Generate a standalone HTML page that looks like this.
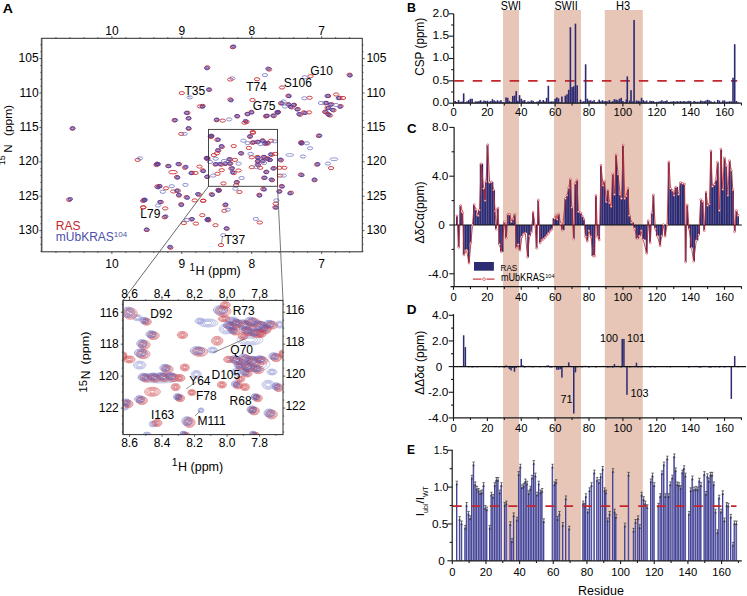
<!DOCTYPE html>
<html><head><meta charset="utf-8"><style>
html,body{margin:0;padding:0;background:#fff;}
svg{display:block;}
text{font-family:"Liberation Sans",sans-serif;}
</style></head><body>
<svg width="747" height="596" viewBox="0 0 747 596">
<rect x="0" y="0" width="747" height="596" fill="#fff"/>
<rect x="503" y="10" width="16" height="551" fill="#e7c6b8" />
<rect x="554" y="10" width="27" height="551" fill="#e7c6b8" />
<rect x="604.8" y="10" width="38" height="551" fill="#e7c6b8" />
<text x="500.8" y="9.8" font-size="12" text-anchor="start" fill="#000" font-weight="normal" textLength="20.3" lengthAdjust="spacingAndGlyphs">SWI</text>
<text x="554.4" y="9.8" font-size="12" text-anchor="start" fill="#000" font-weight="normal" textLength="23.4" lengthAdjust="spacingAndGlyphs">SWII</text>
<text x="616" y="9.8" font-size="12" text-anchor="start" fill="#000" font-weight="normal" textLength="14.2" lengthAdjust="spacingAndGlyphs">H3</text>
<text x="406.9" y="12" font-size="13.4" text-anchor="start" fill="#000" font-weight="bold" textLength="8.9" lengthAdjust="spacingAndGlyphs">B</text>
<line x1="454.3" y1="80.9" x2="737.2" y2="80.9" stroke="#c1272d" stroke-width="1.8" stroke-dasharray="9.5 8.95"/>
<rect x="454.39" y="101.03" width="1.6" height="2.17" fill="#2b2a72" />
<rect x="456.09" y="101.88" width="1.6" height="1.32" fill="#2b2a72" />
<rect x="457.78" y="100.07" width="1.6" height="3.13" fill="#2b2a72" />
<rect x="459.48" y="101.82" width="1.6" height="1.38" fill="#2b2a72" />
<rect x="461.17" y="101.53" width="1.6" height="1.67" fill="#2b2a72" />
<rect x="462.86" y="93.37" width="1.6" height="9.83" fill="#2b2a72" />
<rect x="464.56" y="102.19" width="1.6" height="1.01" fill="#2b2a72" />
<rect x="466.25" y="101.29" width="1.6" height="1.91" fill="#2b2a72" />
<rect x="467.95" y="100.07" width="1.6" height="3.13" fill="#2b2a72" />
<rect x="469.64" y="98.73" width="1.6" height="4.47" fill="#2b2a72" />
<rect x="471.33" y="98.73" width="1.6" height="4.47" fill="#2b2a72" />
<rect x="473.03" y="102.69" width="1.6" height="0.51" fill="#2b2a72" />
<rect x="474.72" y="101.35" width="1.6" height="1.85" fill="#2b2a72" />
<rect x="476.42" y="101.47" width="1.6" height="1.73" fill="#2b2a72" />
<rect x="478.11" y="101.13" width="1.6" height="2.07" fill="#2b2a72" />
<rect x="479.8" y="100.21" width="1.6" height="2.99" fill="#2b2a72" />
<rect x="481.5" y="101.72" width="1.6" height="1.48" fill="#2b2a72" />
<rect x="483.19" y="100.52" width="1.6" height="2.68" fill="#2b2a72" />
<rect x="484.89" y="100.97" width="1.6" height="2.24" fill="#2b2a72" />
<rect x="486.58" y="100.75" width="1.6" height="2.45" fill="#2b2a72" />
<rect x="488.27" y="101.71" width="1.6" height="1.49" fill="#2b2a72" />
<rect x="489.97" y="101.07" width="1.6" height="2.13" fill="#2b2a72" />
<rect x="491.66" y="99.18" width="1.6" height="4.02" fill="#2b2a72" />
<rect x="493.36" y="100.35" width="1.6" height="2.85" fill="#2b2a72" />
<rect x="495.05" y="101.3" width="1.6" height="1.9" fill="#2b2a72" />
<rect x="496.74" y="100.26" width="1.6" height="2.94" fill="#2b2a72" />
<rect x="498.44" y="101.33" width="1.6" height="1.87" fill="#2b2a72" />
<rect x="500.13" y="100.15" width="1.6" height="3.05" fill="#2b2a72" />
<rect x="501.83" y="102.15" width="1.6" height="1.05" fill="#2b2a72" />
<rect x="503.52" y="102.53" width="1.6" height="0.67" fill="#2b2a72" />
<rect x="505.21" y="97.39" width="1.6" height="5.81" fill="#2b2a72" />
<rect x="506.91" y="97.84" width="1.6" height="5.36" fill="#2b2a72" />
<rect x="508.6" y="100.97" width="1.6" height="2.24" fill="#2b2a72" />
<rect x="510.3" y="101.85" width="1.6" height="1.35" fill="#2b2a72" />
<rect x="511.99" y="96.05" width="1.6" height="7.15" fill="#2b2a72" />
<rect x="513.68" y="95.6" width="1.6" height="7.6" fill="#2b2a72" />
<rect x="515.38" y="91.13" width="1.6" height="12.07" fill="#2b2a72" />
<rect x="517.07" y="100.92" width="1.6" height="2.28" fill="#2b2a72" />
<rect x="518.77" y="95.15" width="1.6" height="8.05" fill="#2b2a72" />
<rect x="520.46" y="98.73" width="1.6" height="4.47" fill="#2b2a72" />
<rect x="522.15" y="100.52" width="1.6" height="2.68" fill="#2b2a72" />
<rect x="523.85" y="100.07" width="1.6" height="3.13" fill="#2b2a72" />
<rect x="525.54" y="102.28" width="1.6" height="0.92" fill="#2b2a72" />
<rect x="527.24" y="101.38" width="1.6" height="1.82" fill="#2b2a72" />
<rect x="528.93" y="101.64" width="1.6" height="1.56" fill="#2b2a72" />
<rect x="530.62" y="100.38" width="1.6" height="2.82" fill="#2b2a72" />
<rect x="532.32" y="100.87" width="1.6" height="2.33" fill="#2b2a72" />
<rect x="534.01" y="102.23" width="1.6" height="0.97" fill="#2b2a72" />
<rect x="535.71" y="101.75" width="1.6" height="1.45" fill="#2b2a72" />
<rect x="537.4" y="101.32" width="1.6" height="1.88" fill="#2b2a72" />
<rect x="539.09" y="99.78" width="1.6" height="3.42" fill="#2b2a72" />
<rect x="540.79" y="101.59" width="1.6" height="1.61" fill="#2b2a72" />
<rect x="542.48" y="100.02" width="1.6" height="3.18" fill="#2b2a72" />
<rect x="544.18" y="101.39" width="1.6" height="1.81" fill="#2b2a72" />
<rect x="545.87" y="97.84" width="1.6" height="5.36" fill="#2b2a72" />
<rect x="547.56" y="85.77" width="1.6" height="17.43" fill="#2b2a72" />
<rect x="549.26" y="101.55" width="1.6" height="1.65" fill="#2b2a72" />
<rect x="550.95" y="101.4" width="1.6" height="1.8" fill="#2b2a72" />
<rect x="552.65" y="101.51" width="1.6" height="1.69" fill="#2b2a72" />
<rect x="554.34" y="98.73" width="1.6" height="4.47" fill="#2b2a72" />
<rect x="556.03" y="97.39" width="1.6" height="5.81" fill="#2b2a72" />
<rect x="557.73" y="98.28" width="1.6" height="4.92" fill="#2b2a72" />
<rect x="559.42" y="102.14" width="1.6" height="1.06" fill="#2b2a72" />
<rect x="561.12" y="96.5" width="1.6" height="6.71" fill="#2b2a72" />
<rect x="562.81" y="102.61" width="1.6" height="0.59" fill="#2b2a72" />
<rect x="564.5" y="95.6" width="1.6" height="7.6" fill="#2b2a72" />
<rect x="566.2" y="94.26" width="1.6" height="8.94" fill="#2b2a72" />
<rect x="567.89" y="89.79" width="1.6" height="13.41" fill="#2b2a72" />
<rect x="569.59" y="27.21" width="1.6" height="75.99" fill="#2b2a72" />
<rect x="571.28" y="87.11" width="1.6" height="16.09" fill="#2b2a72" />
<rect x="572.97" y="86.21" width="1.6" height="16.99" fill="#2b2a72" />
<rect x="574.67" y="23.63" width="1.6" height="79.57" fill="#2b2a72" />
<rect x="576.36" y="85.32" width="1.6" height="17.88" fill="#2b2a72" />
<rect x="578.06" y="102.55" width="1.6" height="0.65" fill="#2b2a72" />
<rect x="579.75" y="99.68" width="1.6" height="3.52" fill="#2b2a72" />
<rect x="581.44" y="101.67" width="1.6" height="1.53" fill="#2b2a72" />
<rect x="583.14" y="101.17" width="1.6" height="2.03" fill="#2b2a72" />
<rect x="584.83" y="64.31" width="1.6" height="38.89" fill="#2b2a72" />
<rect x="586.53" y="98.73" width="1.6" height="4.47" fill="#2b2a72" />
<rect x="588.22" y="100.52" width="1.6" height="2.68" fill="#2b2a72" />
<rect x="589.91" y="100.32" width="1.6" height="2.88" fill="#2b2a72" />
<rect x="591.61" y="101.17" width="1.6" height="2.03" fill="#2b2a72" />
<rect x="593.3" y="100.14" width="1.6" height="3.06" fill="#2b2a72" />
<rect x="595" y="102.11" width="1.6" height="1.09" fill="#2b2a72" />
<rect x="596.69" y="101.74" width="1.6" height="1.46" fill="#2b2a72" />
<rect x="598.38" y="99.65" width="1.6" height="3.55" fill="#2b2a72" />
<rect x="600.08" y="101.37" width="1.6" height="1.83" fill="#2b2a72" />
<rect x="601.77" y="100.27" width="1.6" height="2.93" fill="#2b2a72" />
<rect x="603.47" y="101.38" width="1.6" height="1.82" fill="#2b2a72" />
<rect x="605.16" y="100.97" width="1.6" height="2.24" fill="#2b2a72" />
<rect x="606.85" y="101.45" width="1.6" height="1.75" fill="#2b2a72" />
<rect x="608.55" y="100.07" width="1.6" height="3.13" fill="#2b2a72" />
<rect x="610.24" y="101.76" width="1.6" height="1.44" fill="#2b2a72" />
<rect x="611.94" y="101.14" width="1.6" height="2.06" fill="#2b2a72" />
<rect x="613.63" y="99.18" width="1.6" height="4.02" fill="#2b2a72" />
<rect x="615.32" y="99.62" width="1.6" height="3.58" fill="#2b2a72" />
<rect x="617.02" y="100.33" width="1.6" height="2.87" fill="#2b2a72" />
<rect x="618.71" y="98.73" width="1.6" height="4.47" fill="#2b2a72" />
<rect x="620.41" y="97.84" width="1.6" height="5.36" fill="#2b2a72" />
<rect x="622.1" y="101.03" width="1.6" height="2.17" fill="#2b2a72" />
<rect x="623.79" y="102.2" width="1.6" height="1" fill="#2b2a72" />
<rect x="625.49" y="99.62" width="1.6" height="3.58" fill="#2b2a72" />
<rect x="628.88" y="100.52" width="1.6" height="2.68" fill="#2b2a72" />
<rect x="632.26" y="101.23" width="1.6" height="1.97" fill="#2b2a72" />
<rect x="635.65" y="100.52" width="1.6" height="2.68" fill="#2b2a72" />
<rect x="637.35" y="100.77" width="1.6" height="2.43" fill="#2b2a72" />
<rect x="639.04" y="101.28" width="1.6" height="1.92" fill="#2b2a72" />
<rect x="640.73" y="97.84" width="1.6" height="5.36" fill="#2b2a72" />
<rect x="642.43" y="100.07" width="1.6" height="3.13" fill="#2b2a72" />
<rect x="644.12" y="101.33" width="1.6" height="1.87" fill="#2b2a72" />
<rect x="645.82" y="100.53" width="1.6" height="2.67" fill="#2b2a72" />
<rect x="647.51" y="102.55" width="1.6" height="0.65" fill="#2b2a72" />
<rect x="649.2" y="100.78" width="1.6" height="2.42" fill="#2b2a72" />
<rect x="650.9" y="101.04" width="1.6" height="2.16" fill="#2b2a72" />
<rect x="652.59" y="100.98" width="1.6" height="2.22" fill="#2b2a72" />
<rect x="654.29" y="102.1" width="1.6" height="1.1" fill="#2b2a72" />
<rect x="655.98" y="101.83" width="1.6" height="1.37" fill="#2b2a72" />
<rect x="657.67" y="101.6" width="1.6" height="1.6" fill="#2b2a72" />
<rect x="659.37" y="101.28" width="1.6" height="1.92" fill="#2b2a72" />
<rect x="661.06" y="100.3" width="1.6" height="2.9" fill="#2b2a72" />
<rect x="662.76" y="101.37" width="1.6" height="1.83" fill="#2b2a72" />
<rect x="664.45" y="101.02" width="1.6" height="2.18" fill="#2b2a72" />
<rect x="666.14" y="100.39" width="1.6" height="2.81" fill="#2b2a72" />
<rect x="667.84" y="101.96" width="1.6" height="1.24" fill="#2b2a72" />
<rect x="669.53" y="101.63" width="1.6" height="1.57" fill="#2b2a72" />
<rect x="671.23" y="101.53" width="1.6" height="1.67" fill="#2b2a72" />
<rect x="672.92" y="101.1" width="1.6" height="2.1" fill="#2b2a72" />
<rect x="674.61" y="101.64" width="1.6" height="1.56" fill="#2b2a72" />
<rect x="676.31" y="101.15" width="1.6" height="2.05" fill="#2b2a72" />
<rect x="678" y="101.58" width="1.6" height="1.62" fill="#2b2a72" />
<rect x="679.7" y="101.04" width="1.6" height="2.16" fill="#2b2a72" />
<rect x="681.39" y="101.63" width="1.6" height="1.57" fill="#2b2a72" />
<rect x="683.08" y="101.03" width="1.6" height="2.17" fill="#2b2a72" />
<rect x="684.78" y="101.56" width="1.6" height="1.64" fill="#2b2a72" />
<rect x="686.47" y="101.39" width="1.6" height="1.81" fill="#2b2a72" />
<rect x="688.17" y="100.81" width="1.6" height="2.39" fill="#2b2a72" />
<rect x="689.86" y="101.12" width="1.6" height="2.08" fill="#2b2a72" />
<rect x="691.55" y="102.42" width="1.6" height="0.78" fill="#2b2a72" />
<rect x="693.25" y="100.91" width="1.6" height="2.29" fill="#2b2a72" />
<rect x="694.94" y="101.63" width="1.6" height="1.57" fill="#2b2a72" />
<rect x="696.64" y="101.73" width="1.6" height="1.47" fill="#2b2a72" />
<rect x="698.33" y="101.71" width="1.6" height="1.49" fill="#2b2a72" />
<rect x="700.02" y="100.48" width="1.6" height="2.72" fill="#2b2a72" />
<rect x="701.72" y="101.18" width="1.6" height="2.02" fill="#2b2a72" />
<rect x="703.41" y="101.18" width="1.6" height="2.02" fill="#2b2a72" />
<rect x="705.11" y="100.47" width="1.6" height="2.73" fill="#2b2a72" />
<rect x="706.8" y="99.73" width="1.6" height="3.47" fill="#2b2a72" />
<rect x="708.49" y="100.29" width="1.6" height="2.91" fill="#2b2a72" />
<rect x="710.19" y="101.3" width="1.6" height="1.9" fill="#2b2a72" />
<rect x="711.88" y="102.16" width="1.6" height="1.04" fill="#2b2a72" />
<rect x="713.58" y="101.41" width="1.6" height="1.79" fill="#2b2a72" />
<rect x="715.27" y="102.65" width="1.6" height="0.55" fill="#2b2a72" />
<rect x="716.96" y="99.91" width="1.6" height="3.29" fill="#2b2a72" />
<rect x="718.66" y="100.6" width="1.6" height="2.6" fill="#2b2a72" />
<rect x="720.35" y="102.11" width="1.6" height="1.09" fill="#2b2a72" />
<rect x="722.05" y="100.56" width="1.6" height="2.64" fill="#2b2a72" />
<rect x="723.74" y="100.41" width="1.6" height="2.79" fill="#2b2a72" />
<rect x="725.43" y="101.77" width="1.6" height="1.43" fill="#2b2a72" />
<rect x="727.13" y="101.64" width="1.6" height="1.56" fill="#2b2a72" />
<rect x="728.82" y="101.2" width="1.6" height="2" fill="#2b2a72" />
<rect x="730.52" y="101.42" width="1.6" height="1.78" fill="#2b2a72" />
<rect x="732.21" y="77.72" width="1.6" height="25.48" fill="#2b2a72" />
<rect x="733.9" y="44.2" width="1.6" height="59" fill="#2b2a72" />
<rect x="735.6" y="100.97" width="1.6" height="2.24" fill="#2b2a72" />
<rect x="737.29" y="102.3" width="1.6" height="0.9" fill="#2b2a72" />
<rect x="626.5" y="76.38" width="1.6" height="26.82" fill="#2b2a72" />
<rect x="630.23" y="90.24" width="1.6" height="12.96" fill="#2b2a72" />
<rect x="633.28" y="20.06" width="1.6" height="83.14" fill="#2b2a72" />
<line x1="453.7" y1="13.8" x2="453.7" y2="103.2" stroke="#1a1a1a" stroke-width="1.2" />
<line x1="448.9" y1="103.2" x2="453.7" y2="103.2" stroke="#1a1a1a" stroke-width="1.1" />
<text x="449.2" y="106.09" font-size="11.8" text-anchor="end" fill="#000" font-weight="normal" textLength="16.6" lengthAdjust="spacingAndGlyphs">0.0</text>
<line x1="448.9" y1="80.85" x2="453.7" y2="80.85" stroke="#1a1a1a" stroke-width="1.1" />
<text x="449.2" y="83.74" font-size="11.8" text-anchor="end" fill="#000" font-weight="normal" textLength="16.6" lengthAdjust="spacingAndGlyphs">0.5</text>
<line x1="448.9" y1="58.5" x2="453.7" y2="58.5" stroke="#1a1a1a" stroke-width="1.1" />
<text x="449.2" y="61.39" font-size="11.8" text-anchor="end" fill="#000" font-weight="normal" textLength="16.6" lengthAdjust="spacingAndGlyphs">1.0</text>
<line x1="448.9" y1="36.15" x2="453.7" y2="36.15" stroke="#1a1a1a" stroke-width="1.1" />
<text x="449.2" y="39.04" font-size="11.8" text-anchor="end" fill="#000" font-weight="normal" textLength="16.6" lengthAdjust="spacingAndGlyphs">1.5</text>
<line x1="448.9" y1="13.8" x2="453.7" y2="13.8" stroke="#1a1a1a" stroke-width="1.1" />
<text x="449.2" y="16.69" font-size="11.8" text-anchor="end" fill="#000" font-weight="normal" textLength="16.6" lengthAdjust="spacingAndGlyphs">2.0</text>
<line x1="451.2" y1="92.03" x2="453.7" y2="92.03" stroke="#1a1a1a" stroke-width="1.1" />
<line x1="451.2" y1="69.67" x2="453.7" y2="69.67" stroke="#1a1a1a" stroke-width="1.1" />
<line x1="451.2" y1="47.33" x2="453.7" y2="47.33" stroke="#1a1a1a" stroke-width="1.1" />
<line x1="451.2" y1="24.97" x2="453.7" y2="24.97" stroke="#1a1a1a" stroke-width="1.1" />
<line x1="453.7" y1="103.2" x2="741.8" y2="103.2" stroke="#1a1a1a" stroke-width="1.2" />
<line x1="453.5" y1="103.2" x2="453.5" y2="106.4" stroke="#1a1a1a" stroke-width="1.1" />
<text x="453.5" y="116" font-size="11.2" text-anchor="middle" fill="#000" font-weight="normal" >0</text>
<line x1="470.44" y1="103.2" x2="470.44" y2="105.5" stroke="#1a1a1a" stroke-width="1.1" />
<line x1="487.38" y1="103.2" x2="487.38" y2="106.4" stroke="#1a1a1a" stroke-width="1.1" />
<text x="487.38" y="116" font-size="11.2" text-anchor="middle" fill="#000" font-weight="normal" >20</text>
<line x1="504.32" y1="103.2" x2="504.32" y2="105.5" stroke="#1a1a1a" stroke-width="1.1" />
<line x1="521.26" y1="103.2" x2="521.26" y2="106.4" stroke="#1a1a1a" stroke-width="1.1" />
<text x="521.26" y="116" font-size="11.2" text-anchor="middle" fill="#000" font-weight="normal" >40</text>
<line x1="538.2" y1="103.2" x2="538.2" y2="105.5" stroke="#1a1a1a" stroke-width="1.1" />
<line x1="555.14" y1="103.2" x2="555.14" y2="106.4" stroke="#1a1a1a" stroke-width="1.1" />
<text x="555.14" y="116" font-size="11.2" text-anchor="middle" fill="#000" font-weight="normal" >60</text>
<line x1="572.08" y1="103.2" x2="572.08" y2="105.5" stroke="#1a1a1a" stroke-width="1.1" />
<line x1="589.02" y1="103.2" x2="589.02" y2="106.4" stroke="#1a1a1a" stroke-width="1.1" />
<text x="589.02" y="116" font-size="11.2" text-anchor="middle" fill="#000" font-weight="normal" >80</text>
<line x1="605.96" y1="103.2" x2="605.96" y2="105.5" stroke="#1a1a1a" stroke-width="1.1" />
<line x1="622.9" y1="103.2" x2="622.9" y2="106.4" stroke="#1a1a1a" stroke-width="1.1" />
<text x="622.9" y="116" font-size="11.2" text-anchor="middle" fill="#000" font-weight="normal" >100</text>
<line x1="639.84" y1="103.2" x2="639.84" y2="105.5" stroke="#1a1a1a" stroke-width="1.1" />
<line x1="656.78" y1="103.2" x2="656.78" y2="106.4" stroke="#1a1a1a" stroke-width="1.1" />
<text x="656.78" y="116" font-size="11.2" text-anchor="middle" fill="#000" font-weight="normal" >120</text>
<line x1="673.72" y1="103.2" x2="673.72" y2="105.5" stroke="#1a1a1a" stroke-width="1.1" />
<line x1="690.66" y1="103.2" x2="690.66" y2="106.4" stroke="#1a1a1a" stroke-width="1.1" />
<text x="690.66" y="116" font-size="11.2" text-anchor="middle" fill="#000" font-weight="normal" >140</text>
<line x1="707.6" y1="103.2" x2="707.6" y2="105.5" stroke="#1a1a1a" stroke-width="1.1" />
<line x1="724.54" y1="103.2" x2="724.54" y2="106.4" stroke="#1a1a1a" stroke-width="1.1" />
<text x="724.54" y="116" font-size="11.2" text-anchor="middle" fill="#000" font-weight="normal" >160</text>
<line x1="741.48" y1="103.2" x2="741.48" y2="105.5" stroke="#1a1a1a" stroke-width="1.1" />
<text transform="translate(423.7,46.8) rotate(-90)" font-size="12.5" text-anchor="middle" fill="#000" textLength="58" lengthAdjust="spacingAndGlyphs">CSP (ppm)</text>
<text x="406.9" y="133.3" font-size="13.4" text-anchor="start" fill="#000" font-weight="bold" textLength="9.6" lengthAdjust="spacingAndGlyphs">C</text>
<rect x="456.04" y="215.7" width="1.74" height="9.3" fill="#2b2a72" />
<rect x="457.74" y="225" width="1.74" height="22.4" fill="#2b2a72" />
<rect x="459.43" y="205.4" width="1.74" height="19.6" fill="#2b2a72" />
<rect x="461.12" y="212.7" width="1.74" height="12.3" fill="#2b2a72" />
<rect x="462.82" y="225" width="1.74" height="30" fill="#2b2a72" />
<rect x="464.51" y="225" width="1.74" height="25" fill="#2b2a72" />
<rect x="466.21" y="225" width="1.74" height="25" fill="#2b2a72" />
<rect x="467.9" y="225" width="1.74" height="38.1" fill="#2b2a72" />
<rect x="469.59" y="225" width="1.74" height="17.9" fill="#2b2a72" />
<rect x="471.29" y="225" width="1.74" height="0" fill="#2b2a72" />
<rect x="472.98" y="204.5" width="1.74" height="20.5" fill="#2b2a72" />
<rect x="474.68" y="209.6" width="1.74" height="15.4" fill="#2b2a72" />
<rect x="476.37" y="215.7" width="1.74" height="9.3" fill="#2b2a72" />
<rect x="478.06" y="210" width="1.74" height="15" fill="#2b2a72" />
<rect x="479.76" y="163.7" width="1.74" height="61.3" fill="#2b2a72" />
<rect x="481.45" y="163.7" width="1.74" height="61.3" fill="#2b2a72" />
<rect x="483.15" y="188.5" width="1.74" height="36.5" fill="#2b2a72" />
<rect x="484.84" y="181.6" width="1.74" height="43.4" fill="#2b2a72" />
<rect x="486.53" y="144.7" width="1.74" height="80.3" fill="#2b2a72" />
<rect x="488.23" y="182.5" width="1.74" height="42.5" fill="#2b2a72" />
<rect x="489.92" y="182" width="1.74" height="43" fill="#2b2a72" />
<rect x="491.62" y="182" width="1.74" height="43" fill="#2b2a72" />
<rect x="493.31" y="190" width="1.74" height="35" fill="#2b2a72" />
<rect x="495" y="225" width="1.74" height="4.3" fill="#2b2a72" />
<rect x="496.7" y="208.1" width="1.74" height="16.9" fill="#2b2a72" />
<rect x="498.39" y="225" width="1.74" height="19.4" fill="#2b2a72" />
<rect x="500.09" y="225" width="1.74" height="26.9" fill="#2b2a72" />
<rect x="501.78" y="225" width="1.74" height="26.9" fill="#2b2a72" />
<rect x="503.47" y="221.7" width="1.74" height="3.3" fill="#2b2a72" />
<rect x="505.17" y="225" width="1.74" height="13.3" fill="#2b2a72" />
<rect x="506.86" y="214.2" width="1.74" height="10.8" fill="#2b2a72" />
<rect x="508.56" y="214.2" width="1.74" height="10.8" fill="#2b2a72" />
<rect x="510.25" y="221.7" width="1.74" height="3.3" fill="#2b2a72" />
<rect x="511.94" y="219" width="1.74" height="6" fill="#2b2a72" />
<rect x="513.64" y="214.2" width="1.74" height="10.8" fill="#2b2a72" />
<rect x="515.33" y="225" width="1.74" height="23" fill="#2b2a72" />
<rect x="517.02" y="225" width="1.74" height="19.4" fill="#2b2a72" />
<rect x="518.72" y="225" width="1.74" height="25.4" fill="#2b2a72" />
<rect x="520.41" y="225" width="1.74" height="11.8" fill="#2b2a72" />
<rect x="522.11" y="225" width="1.74" height="9" fill="#2b2a72" />
<rect x="523.8" y="225" width="1.74" height="8" fill="#2b2a72" />
<rect x="525.5" y="225" width="1.74" height="8" fill="#2b2a72" />
<rect x="527.19" y="225" width="1.74" height="32.3" fill="#2b2a72" />
<rect x="528.88" y="225" width="1.74" height="11" fill="#2b2a72" />
<rect x="530.58" y="225" width="1.74" height="7.3" fill="#2b2a72" />
<rect x="532.27" y="212.1" width="1.74" height="12.9" fill="#2b2a72" />
<rect x="533.97" y="225" width="1.74" height="0" fill="#2b2a72" />
<rect x="535.66" y="225" width="1.74" height="23.3" fill="#2b2a72" />
<rect x="537.35" y="200" width="1.74" height="25" fill="#2b2a72" />
<rect x="539.05" y="225" width="1.74" height="17.9" fill="#2b2a72" />
<rect x="540.74" y="225" width="1.74" height="15" fill="#2b2a72" />
<rect x="542.44" y="225" width="1.74" height="14" fill="#2b2a72" />
<rect x="544.13" y="225" width="1.74" height="12.2" fill="#2b2a72" />
<rect x="545.82" y="225" width="1.74" height="10" fill="#2b2a72" />
<rect x="547.52" y="225" width="1.74" height="8.3" fill="#2b2a72" />
<rect x="549.21" y="225" width="1.74" height="6" fill="#2b2a72" />
<rect x="550.9" y="225" width="1.74" height="4.3" fill="#2b2a72" />
<rect x="552.6" y="218.3" width="1.74" height="6.7" fill="#2b2a72" />
<rect x="554.29" y="218.3" width="1.74" height="6.7" fill="#2b2a72" />
<rect x="555.99" y="219.3" width="1.74" height="5.7" fill="#2b2a72" />
<rect x="557.68" y="213.9" width="1.74" height="11.1" fill="#2b2a72" />
<rect x="559.38" y="223.7" width="1.74" height="1.3" fill="#2b2a72" />
<rect x="561.07" y="225" width="1.74" height="5.2" fill="#2b2a72" />
<rect x="562.76" y="225" width="1.74" height="5.2" fill="#2b2a72" />
<rect x="564.46" y="198.6" width="1.74" height="26.4" fill="#2b2a72" />
<rect x="566.15" y="195.4" width="1.74" height="29.6" fill="#2b2a72" />
<rect x="567.85" y="187.7" width="1.74" height="37.3" fill="#2b2a72" />
<rect x="569.54" y="179" width="1.74" height="46" fill="#2b2a72" />
<rect x="571.23" y="207.4" width="1.74" height="17.6" fill="#2b2a72" />
<rect x="572.93" y="225" width="1.74" height="14" fill="#2b2a72" />
<rect x="574.62" y="183.4" width="1.74" height="41.6" fill="#2b2a72" />
<rect x="576.32" y="180.1" width="1.74" height="44.9" fill="#2b2a72" />
<rect x="578.01" y="211.7" width="1.74" height="13.3" fill="#2b2a72" />
<rect x="579.7" y="212.8" width="1.74" height="12.2" fill="#2b2a72" />
<rect x="581.4" y="216.1" width="1.74" height="8.9" fill="#2b2a72" />
<rect x="583.09" y="219.3" width="1.74" height="5.7" fill="#2b2a72" />
<rect x="584.79" y="225" width="1.74" height="11.8" fill="#2b2a72" />
<rect x="586.48" y="225" width="1.74" height="16.1" fill="#2b2a72" />
<rect x="588.17" y="225" width="1.74" height="5.7" fill="#2b2a72" />
<rect x="589.87" y="225" width="1.74" height="11.8" fill="#2b2a72" />
<rect x="591.56" y="225" width="1.74" height="31" fill="#2b2a72" />
<rect x="593.25" y="225" width="1.74" height="31" fill="#2b2a72" />
<rect x="594.95" y="195.4" width="1.74" height="29.6" fill="#2b2a72" />
<rect x="596.64" y="225" width="1.74" height="11.8" fill="#2b2a72" />
<rect x="598.34" y="225" width="1.74" height="15" fill="#2b2a72" />
<rect x="600.03" y="165.2" width="1.74" height="59.8" fill="#2b2a72" />
<rect x="601.73" y="185.4" width="1.74" height="39.6" fill="#2b2a72" />
<rect x="603.42" y="181.2" width="1.74" height="43.8" fill="#2b2a72" />
<rect x="605.11" y="201.9" width="1.74" height="23.1" fill="#2b2a72" />
<rect x="606.81" y="190" width="1.74" height="35" fill="#2b2a72" />
<rect x="608.5" y="203" width="1.74" height="22" fill="#2b2a72" />
<rect x="610.2" y="206.5" width="1.74" height="18.5" fill="#2b2a72" />
<rect x="611.89" y="173.7" width="1.74" height="51.3" fill="#2b2a72" />
<rect x="613.58" y="194.4" width="1.74" height="30.6" fill="#2b2a72" />
<rect x="615.28" y="154.6" width="1.74" height="70.4" fill="#2b2a72" />
<rect x="616.97" y="174.3" width="1.74" height="50.7" fill="#2b2a72" />
<rect x="618.66" y="194.4" width="1.74" height="30.6" fill="#2b2a72" />
<rect x="620.36" y="198.5" width="1.74" height="26.5" fill="#2b2a72" />
<rect x="622.05" y="145.1" width="1.74" height="79.9" fill="#2b2a72" />
<rect x="623.75" y="198.5" width="1.74" height="26.5" fill="#2b2a72" />
<rect x="625.44" y="196" width="1.74" height="29" fill="#2b2a72" />
<rect x="627.13" y="188.4" width="1.74" height="36.6" fill="#2b2a72" />
<rect x="628.83" y="215.6" width="1.74" height="9.4" fill="#2b2a72" />
<rect x="630.52" y="222.6" width="1.74" height="2.4" fill="#2b2a72" />
<rect x="632.22" y="222.6" width="1.74" height="2.4" fill="#2b2a72" />
<rect x="633.91" y="225" width="1.74" height="3.7" fill="#2b2a72" />
<rect x="635.61" y="225" width="1.74" height="13.7" fill="#2b2a72" />
<rect x="637.3" y="225" width="1.74" height="13.7" fill="#2b2a72" />
<rect x="638.99" y="225" width="1.74" height="11" fill="#2b2a72" />
<rect x="640.69" y="225" width="1.74" height="5.7" fill="#2b2a72" />
<rect x="642.38" y="225" width="1.74" height="14.7" fill="#2b2a72" />
<rect x="644.08" y="225" width="1.74" height="14.7" fill="#2b2a72" />
<rect x="645.77" y="225" width="1.74" height="28.4" fill="#2b2a72" />
<rect x="647.46" y="220.6" width="1.74" height="4.4" fill="#2b2a72" />
<rect x="649.16" y="225" width="1.74" height="17.8" fill="#2b2a72" />
<rect x="650.85" y="213" width="1.74" height="12" fill="#2b2a72" />
<rect x="652.55" y="194.8" width="1.74" height="30.2" fill="#2b2a72" />
<rect x="654.24" y="225" width="1.74" height="3.7" fill="#2b2a72" />
<rect x="655.93" y="225" width="1.74" height="11" fill="#2b2a72" />
<rect x="657.63" y="225" width="1.74" height="11" fill="#2b2a72" />
<rect x="659.32" y="225" width="1.74" height="20.8" fill="#2b2a72" />
<rect x="661.01" y="225" width="1.74" height="11" fill="#2b2a72" />
<rect x="662.71" y="224.6" width="1.74" height="0.4" fill="#2b2a72" />
<rect x="664.4" y="225" width="1.74" height="11.3" fill="#2b2a72" />
<rect x="666.1" y="224.6" width="1.74" height="0.4" fill="#2b2a72" />
<rect x="667.79" y="161.8" width="1.74" height="63.2" fill="#2b2a72" />
<rect x="669.49" y="188.4" width="1.74" height="36.6" fill="#2b2a72" />
<rect x="671.18" y="190.4" width="1.74" height="34.6" fill="#2b2a72" />
<rect x="672.87" y="195.4" width="1.74" height="29.6" fill="#2b2a72" />
<rect x="674.57" y="187" width="1.74" height="38" fill="#2b2a72" />
<rect x="676.26" y="187" width="1.74" height="38" fill="#2b2a72" />
<rect x="677.96" y="194.4" width="1.74" height="30.6" fill="#2b2a72" />
<rect x="679.65" y="182.4" width="1.74" height="42.6" fill="#2b2a72" />
<rect x="681.34" y="183.4" width="1.74" height="41.6" fill="#2b2a72" />
<rect x="683.04" y="184" width="1.74" height="41" fill="#2b2a72" />
<rect x="684.73" y="225" width="1.74" height="37" fill="#2b2a72" />
<rect x="686.42" y="204.9" width="1.74" height="20.1" fill="#2b2a72" />
<rect x="688.12" y="225" width="1.74" height="4.1" fill="#2b2a72" />
<rect x="689.81" y="225" width="1.74" height="23" fill="#2b2a72" />
<rect x="691.51" y="225" width="1.74" height="23" fill="#2b2a72" />
<rect x="693.2" y="225" width="1.74" height="36.4" fill="#2b2a72" />
<rect x="694.89" y="225" width="1.74" height="15.4" fill="#2b2a72" />
<rect x="696.59" y="225" width="1.74" height="15.4" fill="#2b2a72" />
<rect x="698.28" y="225" width="1.74" height="9.7" fill="#2b2a72" />
<rect x="699.98" y="199.5" width="1.74" height="25.5" fill="#2b2a72" />
<rect x="701.67" y="201.5" width="1.74" height="23.5" fill="#2b2a72" />
<rect x="703.37" y="225" width="1.74" height="5.7" fill="#2b2a72" />
<rect x="705.06" y="192" width="1.74" height="33" fill="#2b2a72" />
<rect x="706.75" y="205.5" width="1.74" height="19.5" fill="#2b2a72" />
<rect x="708.45" y="204.1" width="1.74" height="20.9" fill="#2b2a72" />
<rect x="710.14" y="150.7" width="1.74" height="74.3" fill="#2b2a72" />
<rect x="711.84" y="186.4" width="1.74" height="38.6" fill="#2b2a72" />
<rect x="713.53" y="184.4" width="1.74" height="40.6" fill="#2b2a72" />
<rect x="715.22" y="179.9" width="1.74" height="45.1" fill="#2b2a72" />
<rect x="716.92" y="162.2" width="1.74" height="62.8" fill="#2b2a72" />
<rect x="718.61" y="210.5" width="1.74" height="14.5" fill="#2b2a72" />
<rect x="720.31" y="149.1" width="1.74" height="75.9" fill="#2b2a72" />
<rect x="722" y="189.4" width="1.74" height="35.6" fill="#2b2a72" />
<rect x="723.69" y="157.8" width="1.74" height="67.2" fill="#2b2a72" />
<rect x="725.39" y="165.8" width="1.74" height="59.2" fill="#2b2a72" />
<rect x="727.08" y="195.4" width="1.74" height="29.6" fill="#2b2a72" />
<rect x="728.78" y="160.6" width="1.74" height="64.4" fill="#2b2a72" />
<rect x="730.47" y="170.3" width="1.74" height="54.7" fill="#2b2a72" />
<rect x="732.16" y="190" width="1.74" height="35" fill="#2b2a72" />
<rect x="733.86" y="225" width="1.74" height="6.7" fill="#2b2a72" />
<rect x="735.55" y="210.5" width="1.74" height="14.5" fill="#2b2a72" />
<rect x="737.25" y="215.6" width="1.74" height="9.4" fill="#2b2a72" />
<line x1="454" y1="225" x2="741.8" y2="225" stroke="#111" stroke-width="1.1" />
<polyline points="457,215.7 458.8,247.4 460.7,205.4 462.8,212.7 464,255 466.5,250 469.1,263.1 470.9,242.9 472.5,225 474.2,204.5 476,209.6 478.2,215.7 479.5,210 481.2,163.7 483.6,188.5 485.1,200.6 486,181.6 487.8,144.7 489.6,182.5 491.5,182 493.6,190 495.1,211.1 496.3,229.3 498.1,208.1 499.5,244.4 501.4,251.9 504.4,221.7 506.4,238.3 508,214.2 509.8,214.2 511.4,221.7 513.1,219 515,214.2 516.5,248 518.3,244.4 520.2,250.4 521.8,236.8 523.5,234 525.3,233 527.5,257.3 529.5,236 531.3,232.3 533.2,212.1 535,225 536.7,248.3 538.4,200 540.2,242.9 542,240 543.5,239 545.3,237.2 547,235 548.5,233.3 550.3,231 552.1,229.3 554.6,218.3 555.7,215 557.2,219.3 558.8,213.9 560.5,223.7 562.3,230.2 565.5,198.6 567,195.4 568.8,187.7 570.3,179 571.8,207.4 573.6,239 575.1,183.4 576.9,180.1 578.4,211.7 580.6,212.8 582.3,216.1 584,219.3 585.6,236.8 587.3,241.1 588.8,230.7 591,236.8 593.2,256 594.7,256 596,195.4 597.6,236.8 599.3,240 601,165.2 603,185.4 604.5,181.2 606.3,201.9 608.1,190 609.5,203 611.1,206.5 612.7,173.7 614.5,194.4 616.1,154.6 618.1,174.3 620.1,194.4 621.5,198.5 623.2,145.1 624.8,198.5 626.3,196 627.8,188.4 629.2,215.6 631.8,222.6 634.6,228.7 637.3,238.7 639.3,236 641.3,230.7 643.3,239.7 646.7,253.4 648.3,220.6 650.3,242.8 652,213 653.4,194.8 655.4,228.7 657.5,236 660,245.8 661.7,236 663.4,224.6 665,236.3 667.1,224.6 668.9,161.8 670.5,188.4 672.5,190.4 674.1,195.4 676.1,187 678.5,194.4 680.5,182.4 682.6,183.4 684.6,184 685.6,262 687.2,204.9 689.2,229.1 691.6,248 693.6,261.4 696.3,240.4 698.7,234.7 700.7,199.5 702.7,201.5 704.3,230.7 706.1,192 707.7,205.5 709.3,204.1 710.8,150.7 712.4,186.4 714.4,184.4 715.8,179.9 717.4,162.2 719.4,210.5 720.8,149.1 722.8,189.4 724.4,157.8 726.3,165.8 727.9,195.4 729.5,160.6 731.3,170.3 732.9,190 734.5,231.7 736.5,210.5 738.3,215.6" fill="none" stroke="#c1272d" stroke-width="0.85" stroke-linejoin="round"/>
<circle cx="457" cy="215.7" r="0.95" fill="#fff" stroke="#c1272d" stroke-width="0.5"/>
<circle cx="458.8" cy="247.4" r="0.95" fill="#fff" stroke="#c1272d" stroke-width="0.5"/>
<circle cx="460.7" cy="205.4" r="0.95" fill="#fff" stroke="#c1272d" stroke-width="0.5"/>
<circle cx="462.8" cy="212.7" r="0.95" fill="#fff" stroke="#c1272d" stroke-width="0.5"/>
<circle cx="464" cy="255" r="0.95" fill="#fff" stroke="#c1272d" stroke-width="0.5"/>
<circle cx="466.5" cy="250" r="0.95" fill="#fff" stroke="#c1272d" stroke-width="0.5"/>
<circle cx="469.1" cy="263.1" r="0.95" fill="#fff" stroke="#c1272d" stroke-width="0.5"/>
<circle cx="470.9" cy="242.9" r="0.95" fill="#fff" stroke="#c1272d" stroke-width="0.5"/>
<circle cx="472.5" cy="225" r="0.95" fill="#fff" stroke="#c1272d" stroke-width="0.5"/>
<circle cx="474.2" cy="204.5" r="0.95" fill="#fff" stroke="#c1272d" stroke-width="0.5"/>
<circle cx="476" cy="209.6" r="0.95" fill="#fff" stroke="#c1272d" stroke-width="0.5"/>
<circle cx="478.2" cy="215.7" r="0.95" fill="#fff" stroke="#c1272d" stroke-width="0.5"/>
<circle cx="479.5" cy="210" r="0.95" fill="#fff" stroke="#c1272d" stroke-width="0.5"/>
<circle cx="481.2" cy="163.7" r="0.95" fill="#fff" stroke="#c1272d" stroke-width="0.5"/>
<circle cx="483.6" cy="188.5" r="0.95" fill="#fff" stroke="#c1272d" stroke-width="0.5"/>
<circle cx="485.1" cy="200.6" r="0.95" fill="#fff" stroke="#c1272d" stroke-width="0.5"/>
<circle cx="486" cy="181.6" r="0.95" fill="#fff" stroke="#c1272d" stroke-width="0.5"/>
<circle cx="487.8" cy="144.7" r="0.95" fill="#fff" stroke="#c1272d" stroke-width="0.5"/>
<circle cx="489.6" cy="182.5" r="0.95" fill="#fff" stroke="#c1272d" stroke-width="0.5"/>
<circle cx="491.5" cy="182" r="0.95" fill="#fff" stroke="#c1272d" stroke-width="0.5"/>
<circle cx="493.6" cy="190" r="0.95" fill="#fff" stroke="#c1272d" stroke-width="0.5"/>
<circle cx="495.1" cy="211.1" r="0.95" fill="#fff" stroke="#c1272d" stroke-width="0.5"/>
<circle cx="496.3" cy="229.3" r="0.95" fill="#fff" stroke="#c1272d" stroke-width="0.5"/>
<circle cx="498.1" cy="208.1" r="0.95" fill="#fff" stroke="#c1272d" stroke-width="0.5"/>
<circle cx="499.5" cy="244.4" r="0.95" fill="#fff" stroke="#c1272d" stroke-width="0.5"/>
<circle cx="501.4" cy="251.9" r="0.95" fill="#fff" stroke="#c1272d" stroke-width="0.5"/>
<circle cx="504.4" cy="221.7" r="0.95" fill="#fff" stroke="#c1272d" stroke-width="0.5"/>
<circle cx="506.4" cy="238.3" r="0.95" fill="#fff" stroke="#c1272d" stroke-width="0.5"/>
<circle cx="508" cy="214.2" r="0.95" fill="#fff" stroke="#c1272d" stroke-width="0.5"/>
<circle cx="509.8" cy="214.2" r="0.95" fill="#fff" stroke="#c1272d" stroke-width="0.5"/>
<circle cx="511.4" cy="221.7" r="0.95" fill="#fff" stroke="#c1272d" stroke-width="0.5"/>
<circle cx="513.1" cy="219" r="0.95" fill="#fff" stroke="#c1272d" stroke-width="0.5"/>
<circle cx="515" cy="214.2" r="0.95" fill="#fff" stroke="#c1272d" stroke-width="0.5"/>
<circle cx="516.5" cy="248" r="0.95" fill="#fff" stroke="#c1272d" stroke-width="0.5"/>
<circle cx="518.3" cy="244.4" r="0.95" fill="#fff" stroke="#c1272d" stroke-width="0.5"/>
<circle cx="520.2" cy="250.4" r="0.95" fill="#fff" stroke="#c1272d" stroke-width="0.5"/>
<circle cx="521.8" cy="236.8" r="0.95" fill="#fff" stroke="#c1272d" stroke-width="0.5"/>
<circle cx="523.5" cy="234" r="0.95" fill="#fff" stroke="#c1272d" stroke-width="0.5"/>
<circle cx="525.3" cy="233" r="0.95" fill="#fff" stroke="#c1272d" stroke-width="0.5"/>
<circle cx="527.5" cy="257.3" r="0.95" fill="#fff" stroke="#c1272d" stroke-width="0.5"/>
<circle cx="529.5" cy="236" r="0.95" fill="#fff" stroke="#c1272d" stroke-width="0.5"/>
<circle cx="531.3" cy="232.3" r="0.95" fill="#fff" stroke="#c1272d" stroke-width="0.5"/>
<circle cx="533.2" cy="212.1" r="0.95" fill="#fff" stroke="#c1272d" stroke-width="0.5"/>
<circle cx="535" cy="225" r="0.95" fill="#fff" stroke="#c1272d" stroke-width="0.5"/>
<circle cx="536.7" cy="248.3" r="0.95" fill="#fff" stroke="#c1272d" stroke-width="0.5"/>
<circle cx="538.4" cy="200" r="0.95" fill="#fff" stroke="#c1272d" stroke-width="0.5"/>
<circle cx="540.2" cy="242.9" r="0.95" fill="#fff" stroke="#c1272d" stroke-width="0.5"/>
<circle cx="542" cy="240" r="0.95" fill="#fff" stroke="#c1272d" stroke-width="0.5"/>
<circle cx="543.5" cy="239" r="0.95" fill="#fff" stroke="#c1272d" stroke-width="0.5"/>
<circle cx="545.3" cy="237.2" r="0.95" fill="#fff" stroke="#c1272d" stroke-width="0.5"/>
<circle cx="547" cy="235" r="0.95" fill="#fff" stroke="#c1272d" stroke-width="0.5"/>
<circle cx="548.5" cy="233.3" r="0.95" fill="#fff" stroke="#c1272d" stroke-width="0.5"/>
<circle cx="550.3" cy="231" r="0.95" fill="#fff" stroke="#c1272d" stroke-width="0.5"/>
<circle cx="552.1" cy="229.3" r="0.95" fill="#fff" stroke="#c1272d" stroke-width="0.5"/>
<circle cx="554.6" cy="218.3" r="0.95" fill="#fff" stroke="#c1272d" stroke-width="0.5"/>
<circle cx="555.7" cy="215" r="0.95" fill="#fff" stroke="#c1272d" stroke-width="0.5"/>
<circle cx="557.2" cy="219.3" r="0.95" fill="#fff" stroke="#c1272d" stroke-width="0.5"/>
<circle cx="558.8" cy="213.9" r="0.95" fill="#fff" stroke="#c1272d" stroke-width="0.5"/>
<circle cx="560.5" cy="223.7" r="0.95" fill="#fff" stroke="#c1272d" stroke-width="0.5"/>
<circle cx="562.3" cy="230.2" r="0.95" fill="#fff" stroke="#c1272d" stroke-width="0.5"/>
<circle cx="565.5" cy="198.6" r="0.95" fill="#fff" stroke="#c1272d" stroke-width="0.5"/>
<circle cx="567" cy="195.4" r="0.95" fill="#fff" stroke="#c1272d" stroke-width="0.5"/>
<circle cx="568.8" cy="187.7" r="0.95" fill="#fff" stroke="#c1272d" stroke-width="0.5"/>
<circle cx="570.3" cy="179" r="0.95" fill="#fff" stroke="#c1272d" stroke-width="0.5"/>
<circle cx="571.8" cy="207.4" r="0.95" fill="#fff" stroke="#c1272d" stroke-width="0.5"/>
<circle cx="573.6" cy="239" r="0.95" fill="#fff" stroke="#c1272d" stroke-width="0.5"/>
<circle cx="575.1" cy="183.4" r="0.95" fill="#fff" stroke="#c1272d" stroke-width="0.5"/>
<circle cx="576.9" cy="180.1" r="0.95" fill="#fff" stroke="#c1272d" stroke-width="0.5"/>
<circle cx="578.4" cy="211.7" r="0.95" fill="#fff" stroke="#c1272d" stroke-width="0.5"/>
<circle cx="580.6" cy="212.8" r="0.95" fill="#fff" stroke="#c1272d" stroke-width="0.5"/>
<circle cx="582.3" cy="216.1" r="0.95" fill="#fff" stroke="#c1272d" stroke-width="0.5"/>
<circle cx="584" cy="219.3" r="0.95" fill="#fff" stroke="#c1272d" stroke-width="0.5"/>
<circle cx="585.6" cy="236.8" r="0.95" fill="#fff" stroke="#c1272d" stroke-width="0.5"/>
<circle cx="587.3" cy="241.1" r="0.95" fill="#fff" stroke="#c1272d" stroke-width="0.5"/>
<circle cx="588.8" cy="230.7" r="0.95" fill="#fff" stroke="#c1272d" stroke-width="0.5"/>
<circle cx="591" cy="236.8" r="0.95" fill="#fff" stroke="#c1272d" stroke-width="0.5"/>
<circle cx="593.2" cy="256" r="0.95" fill="#fff" stroke="#c1272d" stroke-width="0.5"/>
<circle cx="594.7" cy="256" r="0.95" fill="#fff" stroke="#c1272d" stroke-width="0.5"/>
<circle cx="596" cy="195.4" r="0.95" fill="#fff" stroke="#c1272d" stroke-width="0.5"/>
<circle cx="597.6" cy="236.8" r="0.95" fill="#fff" stroke="#c1272d" stroke-width="0.5"/>
<circle cx="599.3" cy="240" r="0.95" fill="#fff" stroke="#c1272d" stroke-width="0.5"/>
<circle cx="601" cy="165.2" r="0.95" fill="#fff" stroke="#c1272d" stroke-width="0.5"/>
<circle cx="603" cy="185.4" r="0.95" fill="#fff" stroke="#c1272d" stroke-width="0.5"/>
<circle cx="604.5" cy="181.2" r="0.95" fill="#fff" stroke="#c1272d" stroke-width="0.5"/>
<circle cx="606.3" cy="201.9" r="0.95" fill="#fff" stroke="#c1272d" stroke-width="0.5"/>
<circle cx="608.1" cy="190" r="0.95" fill="#fff" stroke="#c1272d" stroke-width="0.5"/>
<circle cx="609.5" cy="203" r="0.95" fill="#fff" stroke="#c1272d" stroke-width="0.5"/>
<circle cx="611.1" cy="206.5" r="0.95" fill="#fff" stroke="#c1272d" stroke-width="0.5"/>
<circle cx="612.7" cy="173.7" r="0.95" fill="#fff" stroke="#c1272d" stroke-width="0.5"/>
<circle cx="614.5" cy="194.4" r="0.95" fill="#fff" stroke="#c1272d" stroke-width="0.5"/>
<circle cx="616.1" cy="154.6" r="0.95" fill="#fff" stroke="#c1272d" stroke-width="0.5"/>
<circle cx="618.1" cy="174.3" r="0.95" fill="#fff" stroke="#c1272d" stroke-width="0.5"/>
<circle cx="620.1" cy="194.4" r="0.95" fill="#fff" stroke="#c1272d" stroke-width="0.5"/>
<circle cx="621.5" cy="198.5" r="0.95" fill="#fff" stroke="#c1272d" stroke-width="0.5"/>
<circle cx="623.2" cy="145.1" r="0.95" fill="#fff" stroke="#c1272d" stroke-width="0.5"/>
<circle cx="624.8" cy="198.5" r="0.95" fill="#fff" stroke="#c1272d" stroke-width="0.5"/>
<circle cx="626.3" cy="196" r="0.95" fill="#fff" stroke="#c1272d" stroke-width="0.5"/>
<circle cx="627.8" cy="188.4" r="0.95" fill="#fff" stroke="#c1272d" stroke-width="0.5"/>
<circle cx="629.2" cy="215.6" r="0.95" fill="#fff" stroke="#c1272d" stroke-width="0.5"/>
<circle cx="631.8" cy="222.6" r="0.95" fill="#fff" stroke="#c1272d" stroke-width="0.5"/>
<circle cx="634.6" cy="228.7" r="0.95" fill="#fff" stroke="#c1272d" stroke-width="0.5"/>
<circle cx="637.3" cy="238.7" r="0.95" fill="#fff" stroke="#c1272d" stroke-width="0.5"/>
<circle cx="639.3" cy="236" r="0.95" fill="#fff" stroke="#c1272d" stroke-width="0.5"/>
<circle cx="641.3" cy="230.7" r="0.95" fill="#fff" stroke="#c1272d" stroke-width="0.5"/>
<circle cx="643.3" cy="239.7" r="0.95" fill="#fff" stroke="#c1272d" stroke-width="0.5"/>
<circle cx="646.7" cy="253.4" r="0.95" fill="#fff" stroke="#c1272d" stroke-width="0.5"/>
<circle cx="648.3" cy="220.6" r="0.95" fill="#fff" stroke="#c1272d" stroke-width="0.5"/>
<circle cx="650.3" cy="242.8" r="0.95" fill="#fff" stroke="#c1272d" stroke-width="0.5"/>
<circle cx="652" cy="213" r="0.95" fill="#fff" stroke="#c1272d" stroke-width="0.5"/>
<circle cx="653.4" cy="194.8" r="0.95" fill="#fff" stroke="#c1272d" stroke-width="0.5"/>
<circle cx="655.4" cy="228.7" r="0.95" fill="#fff" stroke="#c1272d" stroke-width="0.5"/>
<circle cx="657.5" cy="236" r="0.95" fill="#fff" stroke="#c1272d" stroke-width="0.5"/>
<circle cx="660" cy="245.8" r="0.95" fill="#fff" stroke="#c1272d" stroke-width="0.5"/>
<circle cx="661.7" cy="236" r="0.95" fill="#fff" stroke="#c1272d" stroke-width="0.5"/>
<circle cx="663.4" cy="224.6" r="0.95" fill="#fff" stroke="#c1272d" stroke-width="0.5"/>
<circle cx="665" cy="236.3" r="0.95" fill="#fff" stroke="#c1272d" stroke-width="0.5"/>
<circle cx="667.1" cy="224.6" r="0.95" fill="#fff" stroke="#c1272d" stroke-width="0.5"/>
<circle cx="668.9" cy="161.8" r="0.95" fill="#fff" stroke="#c1272d" stroke-width="0.5"/>
<circle cx="670.5" cy="188.4" r="0.95" fill="#fff" stroke="#c1272d" stroke-width="0.5"/>
<circle cx="672.5" cy="190.4" r="0.95" fill="#fff" stroke="#c1272d" stroke-width="0.5"/>
<circle cx="674.1" cy="195.4" r="0.95" fill="#fff" stroke="#c1272d" stroke-width="0.5"/>
<circle cx="676.1" cy="187" r="0.95" fill="#fff" stroke="#c1272d" stroke-width="0.5"/>
<circle cx="678.5" cy="194.4" r="0.95" fill="#fff" stroke="#c1272d" stroke-width="0.5"/>
<circle cx="680.5" cy="182.4" r="0.95" fill="#fff" stroke="#c1272d" stroke-width="0.5"/>
<circle cx="682.6" cy="183.4" r="0.95" fill="#fff" stroke="#c1272d" stroke-width="0.5"/>
<circle cx="684.6" cy="184" r="0.95" fill="#fff" stroke="#c1272d" stroke-width="0.5"/>
<circle cx="685.6" cy="262" r="0.95" fill="#fff" stroke="#c1272d" stroke-width="0.5"/>
<circle cx="687.2" cy="204.9" r="0.95" fill="#fff" stroke="#c1272d" stroke-width="0.5"/>
<circle cx="689.2" cy="229.1" r="0.95" fill="#fff" stroke="#c1272d" stroke-width="0.5"/>
<circle cx="691.6" cy="248" r="0.95" fill="#fff" stroke="#c1272d" stroke-width="0.5"/>
<circle cx="693.6" cy="261.4" r="0.95" fill="#fff" stroke="#c1272d" stroke-width="0.5"/>
<circle cx="696.3" cy="240.4" r="0.95" fill="#fff" stroke="#c1272d" stroke-width="0.5"/>
<circle cx="698.7" cy="234.7" r="0.95" fill="#fff" stroke="#c1272d" stroke-width="0.5"/>
<circle cx="700.7" cy="199.5" r="0.95" fill="#fff" stroke="#c1272d" stroke-width="0.5"/>
<circle cx="702.7" cy="201.5" r="0.95" fill="#fff" stroke="#c1272d" stroke-width="0.5"/>
<circle cx="704.3" cy="230.7" r="0.95" fill="#fff" stroke="#c1272d" stroke-width="0.5"/>
<circle cx="706.1" cy="192" r="0.95" fill="#fff" stroke="#c1272d" stroke-width="0.5"/>
<circle cx="707.7" cy="205.5" r="0.95" fill="#fff" stroke="#c1272d" stroke-width="0.5"/>
<circle cx="709.3" cy="204.1" r="0.95" fill="#fff" stroke="#c1272d" stroke-width="0.5"/>
<circle cx="710.8" cy="150.7" r="0.95" fill="#fff" stroke="#c1272d" stroke-width="0.5"/>
<circle cx="712.4" cy="186.4" r="0.95" fill="#fff" stroke="#c1272d" stroke-width="0.5"/>
<circle cx="714.4" cy="184.4" r="0.95" fill="#fff" stroke="#c1272d" stroke-width="0.5"/>
<circle cx="715.8" cy="179.9" r="0.95" fill="#fff" stroke="#c1272d" stroke-width="0.5"/>
<circle cx="717.4" cy="162.2" r="0.95" fill="#fff" stroke="#c1272d" stroke-width="0.5"/>
<circle cx="719.4" cy="210.5" r="0.95" fill="#fff" stroke="#c1272d" stroke-width="0.5"/>
<circle cx="720.8" cy="149.1" r="0.95" fill="#fff" stroke="#c1272d" stroke-width="0.5"/>
<circle cx="722.8" cy="189.4" r="0.95" fill="#fff" stroke="#c1272d" stroke-width="0.5"/>
<circle cx="724.4" cy="157.8" r="0.95" fill="#fff" stroke="#c1272d" stroke-width="0.5"/>
<circle cx="726.3" cy="165.8" r="0.95" fill="#fff" stroke="#c1272d" stroke-width="0.5"/>
<circle cx="727.9" cy="195.4" r="0.95" fill="#fff" stroke="#c1272d" stroke-width="0.5"/>
<circle cx="729.5" cy="160.6" r="0.95" fill="#fff" stroke="#c1272d" stroke-width="0.5"/>
<circle cx="731.3" cy="170.3" r="0.95" fill="#fff" stroke="#c1272d" stroke-width="0.5"/>
<circle cx="732.9" cy="190" r="0.95" fill="#fff" stroke="#c1272d" stroke-width="0.5"/>
<circle cx="734.5" cy="231.7" r="0.95" fill="#fff" stroke="#c1272d" stroke-width="0.5"/>
<circle cx="736.5" cy="210.5" r="0.95" fill="#fff" stroke="#c1272d" stroke-width="0.5"/>
<circle cx="738.3" cy="215.6" r="0.95" fill="#fff" stroke="#c1272d" stroke-width="0.5"/>
<line x1="454.1" y1="127.2" x2="454.1" y2="286.6" stroke="#1a1a1a" stroke-width="1.2" />
<line x1="449.3" y1="127.4" x2="454.1" y2="127.4" stroke="#1a1a1a" stroke-width="1.1" />
<text x="448.4" y="131.31" font-size="11.0" text-anchor="end" fill="#000" font-weight="normal"  textLength="16.36" lengthAdjust="spacingAndGlyphs">8.0</text>
<line x1="449.3" y1="176.2" x2="454.1" y2="176.2" stroke="#1a1a1a" stroke-width="1.1" />
<text x="448.4" y="180.1" font-size="11.0" text-anchor="end" fill="#000" font-weight="normal"  textLength="16.36" lengthAdjust="spacingAndGlyphs">4.0</text>
<line x1="449.3" y1="225" x2="454.1" y2="225" stroke="#1a1a1a" stroke-width="1.1" />
<text x="444.7" y="228.91" font-size="11.0" text-anchor="end" fill="#000" font-weight="normal"  textLength="6.55" lengthAdjust="spacingAndGlyphs">0</text>
<line x1="449.3" y1="273.8" x2="454.1" y2="273.8" stroke="#1a1a1a" stroke-width="1.1" />
<text x="448.4" y="277.7" font-size="11.0" text-anchor="end" fill="#000" font-weight="normal"  textLength="20.28" lengthAdjust="spacingAndGlyphs">-4.0</text>
<line x1="451.6" y1="151.8" x2="454.1" y2="151.8" stroke="#1a1a1a" stroke-width="1.1" />
<line x1="451.6" y1="200.6" x2="454.1" y2="200.6" stroke="#1a1a1a" stroke-width="1.1" />
<line x1="451.6" y1="249.4" x2="454.1" y2="249.4" stroke="#1a1a1a" stroke-width="1.1" />
<line x1="450.5" y1="286.6" x2="741.8" y2="286.6" stroke="#1a1a1a" stroke-width="1.2" />
<line x1="453.5" y1="286.6" x2="453.5" y2="289.8" stroke="#1a1a1a" stroke-width="1.1" />
<text x="453.5" y="301.2" font-size="11.2" text-anchor="middle" fill="#000" font-weight="normal" >0</text>
<line x1="470.44" y1="286.6" x2="470.44" y2="288.9" stroke="#1a1a1a" stroke-width="1.1" />
<line x1="487.38" y1="286.6" x2="487.38" y2="289.8" stroke="#1a1a1a" stroke-width="1.1" />
<text x="487.38" y="301.2" font-size="11.2" text-anchor="middle" fill="#000" font-weight="normal" >20</text>
<line x1="504.32" y1="286.6" x2="504.32" y2="288.9" stroke="#1a1a1a" stroke-width="1.1" />
<line x1="521.26" y1="286.6" x2="521.26" y2="289.8" stroke="#1a1a1a" stroke-width="1.1" />
<text x="521.26" y="301.2" font-size="11.2" text-anchor="middle" fill="#000" font-weight="normal" >40</text>
<line x1="538.2" y1="286.6" x2="538.2" y2="288.9" stroke="#1a1a1a" stroke-width="1.1" />
<line x1="555.14" y1="286.6" x2="555.14" y2="289.8" stroke="#1a1a1a" stroke-width="1.1" />
<text x="555.14" y="301.2" font-size="11.2" text-anchor="middle" fill="#000" font-weight="normal" >60</text>
<line x1="572.08" y1="286.6" x2="572.08" y2="288.9" stroke="#1a1a1a" stroke-width="1.1" />
<line x1="589.02" y1="286.6" x2="589.02" y2="289.8" stroke="#1a1a1a" stroke-width="1.1" />
<text x="589.02" y="301.2" font-size="11.2" text-anchor="middle" fill="#000" font-weight="normal" >80</text>
<line x1="605.96" y1="286.6" x2="605.96" y2="288.9" stroke="#1a1a1a" stroke-width="1.1" />
<line x1="622.9" y1="286.6" x2="622.9" y2="289.8" stroke="#1a1a1a" stroke-width="1.1" />
<text x="622.9" y="301.2" font-size="11.2" text-anchor="middle" fill="#000" font-weight="normal" >100</text>
<line x1="639.84" y1="286.6" x2="639.84" y2="288.9" stroke="#1a1a1a" stroke-width="1.1" />
<line x1="656.78" y1="286.6" x2="656.78" y2="289.8" stroke="#1a1a1a" stroke-width="1.1" />
<text x="656.78" y="301.2" font-size="11.2" text-anchor="middle" fill="#000" font-weight="normal" >120</text>
<line x1="673.72" y1="286.6" x2="673.72" y2="288.9" stroke="#1a1a1a" stroke-width="1.1" />
<line x1="690.66" y1="286.6" x2="690.66" y2="289.8" stroke="#1a1a1a" stroke-width="1.1" />
<text x="690.66" y="301.2" font-size="11.2" text-anchor="middle" fill="#000" font-weight="normal" >140</text>
<line x1="707.6" y1="286.6" x2="707.6" y2="288.9" stroke="#1a1a1a" stroke-width="1.1" />
<line x1="724.54" y1="286.6" x2="724.54" y2="289.8" stroke="#1a1a1a" stroke-width="1.1" />
<text x="724.54" y="301.2" font-size="11.2" text-anchor="middle" fill="#000" font-weight="normal" >160</text>
<line x1="741.48" y1="286.6" x2="741.48" y2="288.9" stroke="#1a1a1a" stroke-width="1.1" />
<rect x="474" y="262" width="19.9" height="8.7" fill="#2b2a72" />
<text x="500.6" y="270.7" font-size="9" text-anchor="start" fill="#000" font-weight="normal" textLength="16.6" lengthAdjust="spacingAndGlyphs">RAS</text>
<line x1="472.8" y1="279.1" x2="481.6" y2="279.1" stroke="#c1272d" stroke-width="1.1" />
<line x1="486.4" y1="279.1" x2="494.5" y2="279.1" stroke="#c1272d" stroke-width="1.1" />
<circle cx="484" cy="279.1" r="1.4" fill="#fff" stroke="#c1272d" stroke-width="0.6"/>
<text x="500.9" y="281.3" font-size="10" text-anchor="start" fill="#000" font-weight="normal" textLength="44" lengthAdjust="spacingAndGlyphs">mUbKRAS</text>
<text x="545.2" y="277.7" font-size="5.6" text-anchor="start" fill="#000" font-weight="normal" >104</text>
<text transform="translate(424,212.5) rotate(-90)" font-size="12.5" text-anchor="middle" fill="#000" textLength="62" lengthAdjust="spacingAndGlyphs">ΔδCα(ppm)</text>
<text x="406.7" y="314" font-size="13.4" text-anchor="start" fill="#000" font-weight="bold" textLength="9.8" lengthAdjust="spacingAndGlyphs">D</text>
<rect x="454.44" y="366.6" width="1.5" height="0.2" fill="#2b2a72" />
<rect x="456.14" y="366.36" width="1.5" height="0.24" fill="#2b2a72" />
<rect x="457.83" y="366.6" width="1.5" height="0.34" fill="#2b2a72" />
<rect x="459.53" y="366.6" width="1.5" height="0.1" fill="#2b2a72" />
<rect x="461.22" y="366.34" width="1.5" height="0.26" fill="#2b2a72" />
<rect x="462.91" y="335.29" width="1.5" height="31.31" fill="#2b2a72" />
<rect x="464.61" y="347.1" width="1.5" height="19.5" fill="#2b2a72" />
<rect x="466.3" y="365.98" width="1.5" height="0.62" fill="#2b2a72" />
<rect x="468" y="366.6" width="1.5" height="0.62" fill="#2b2a72" />
<rect x="469.69" y="366.05" width="1.5" height="0.55" fill="#2b2a72" />
<rect x="471.38" y="366.6" width="1.5" height="0.88" fill="#2b2a72" />
<rect x="473.08" y="366.6" width="1.5" height="0.54" fill="#2b2a72" />
<rect x="474.77" y="366" width="1.5" height="0.6" fill="#2b2a72" />
<rect x="476.47" y="366.6" width="1.5" height="0.7" fill="#2b2a72" />
<rect x="478.16" y="366.27" width="1.5" height="0.33" fill="#2b2a72" />
<rect x="479.85" y="366.15" width="1.5" height="0.45" fill="#2b2a72" />
<rect x="481.55" y="366.1" width="1.5" height="0.5" fill="#2b2a72" />
<rect x="483.24" y="366.41" width="1.5" height="0.19" fill="#2b2a72" />
<rect x="484.94" y="365.93" width="1.5" height="0.67" fill="#2b2a72" />
<rect x="486.63" y="366.6" width="1.5" height="0.3" fill="#2b2a72" />
<rect x="488.32" y="366.6" width="1.5" height="0.06" fill="#2b2a72" />
<rect x="490.02" y="366.6" width="1.5" height="0.1" fill="#2b2a72" />
<rect x="491.71" y="366.6" width="1.5" height="0.14" fill="#2b2a72" />
<rect x="493.41" y="366.6" width="1.5" height="0.44" fill="#2b2a72" />
<rect x="495.1" y="366.6" width="1.5" height="0.53" fill="#2b2a72" />
<rect x="496.79" y="366.19" width="1.5" height="0.41" fill="#2b2a72" />
<rect x="498.49" y="366.6" width="1.5" height="0.7" fill="#2b2a72" />
<rect x="500.18" y="366.02" width="1.5" height="0.58" fill="#2b2a72" />
<rect x="501.88" y="366.6" width="1.5" height="0.54" fill="#2b2a72" />
<rect x="503.57" y="366.6" width="1.5" height="1" fill="#2b2a72" />
<rect x="505.26" y="365.32" width="1.5" height="1.28" fill="#2b2a72" />
<rect x="506.96" y="366.6" width="1.5" height="0.56" fill="#2b2a72" />
<rect x="508.65" y="366.6" width="1.5" height="2.57" fill="#2b2a72" />
<rect x="510.35" y="366.6" width="1.5" height="3.85" fill="#2b2a72" />
<rect x="512.04" y="366.6" width="1.5" height="1.28" fill="#2b2a72" />
<rect x="513.73" y="366.6" width="1.5" height="5.13" fill="#2b2a72" />
<rect x="515.43" y="366.6" width="1.5" height="1.28" fill="#2b2a72" />
<rect x="517.12" y="365.84" width="1.5" height="0.76" fill="#2b2a72" />
<rect x="518.82" y="366.6" width="1.5" height="0.28" fill="#2b2a72" />
<rect x="520.51" y="358.9" width="1.5" height="7.7" fill="#2b2a72" />
<rect x="522.2" y="365.32" width="1.5" height="1.28" fill="#2b2a72" />
<rect x="523.9" y="366.6" width="1.5" height="0.95" fill="#2b2a72" />
<rect x="525.59" y="366.35" width="1.5" height="0.25" fill="#2b2a72" />
<rect x="527.29" y="365.94" width="1.5" height="0.66" fill="#2b2a72" />
<rect x="528.98" y="365.89" width="1.5" height="0.71" fill="#2b2a72" />
<rect x="530.67" y="366.6" width="1.5" height="0.56" fill="#2b2a72" />
<rect x="532.37" y="366.6" width="1.5" height="0.7" fill="#2b2a72" />
<rect x="534.06" y="365.95" width="1.5" height="0.65" fill="#2b2a72" />
<rect x="535.76" y="366.5" width="1.5" height="0.1" fill="#2b2a72" />
<rect x="537.45" y="366.6" width="1.5" height="0.07" fill="#2b2a72" />
<rect x="539.14" y="366.6" width="1.5" height="0.66" fill="#2b2a72" />
<rect x="540.84" y="366.6" width="1.5" height="0.23" fill="#2b2a72" />
<rect x="542.53" y="366.42" width="1.5" height="0.18" fill="#2b2a72" />
<rect x="544.23" y="366.6" width="1.5" height="0.54" fill="#2b2a72" />
<rect x="545.92" y="365.57" width="1.5" height="1.03" fill="#2b2a72" />
<rect x="547.61" y="365.32" width="1.5" height="1.28" fill="#2b2a72" />
<rect x="549.31" y="366.6" width="1.5" height="0.96" fill="#2b2a72" />
<rect x="551" y="366.6" width="1.5" height="0.99" fill="#2b2a72" />
<rect x="552.7" y="366.6" width="1.5" height="0.12" fill="#2b2a72" />
<rect x="554.39" y="365.87" width="1.5" height="0.73" fill="#2b2a72" />
<rect x="556.08" y="366.6" width="1.5" height="3.21" fill="#2b2a72" />
<rect x="557.78" y="366.6" width="1.5" height="3.21" fill="#2b2a72" />
<rect x="559.47" y="366.6" width="1.5" height="2.57" fill="#2b2a72" />
<rect x="561.17" y="366.6" width="1.5" height="11.03" fill="#2b2a72" />
<rect x="562.86" y="366.46" width="1.5" height="0.14" fill="#2b2a72" />
<rect x="564.55" y="366.45" width="1.5" height="0.15" fill="#2b2a72" />
<rect x="566.25" y="366.6" width="1.5" height="0.05" fill="#2b2a72" />
<rect x="567.94" y="362.37" width="1.5" height="4.23" fill="#2b2a72" />
<rect x="569.64" y="365.88" width="1.5" height="0.72" fill="#2b2a72" />
<rect x="571.33" y="366.6" width="1.5" height="0.47" fill="#2b2a72" />
<rect x="573.02" y="366.6" width="1.5" height="46.96" fill="#2b2a72" />
<rect x="574.72" y="366.6" width="1.5" height="5.77" fill="#2b2a72" />
<rect x="576.41" y="366.6" width="1.5" height="0.67" fill="#2b2a72" />
<rect x="578.11" y="366.04" width="1.5" height="0.56" fill="#2b2a72" />
<rect x="579.8" y="366.32" width="1.5" height="0.28" fill="#2b2a72" />
<rect x="581.49" y="366.6" width="1.5" height="0.78" fill="#2b2a72" />
<rect x="583.19" y="365.85" width="1.5" height="0.75" fill="#2b2a72" />
<rect x="584.88" y="365.86" width="1.5" height="0.74" fill="#2b2a72" />
<rect x="586.58" y="366.12" width="1.5" height="0.48" fill="#2b2a72" />
<rect x="588.27" y="366.6" width="1.5" height="1" fill="#2b2a72" />
<rect x="589.96" y="366.5" width="1.5" height="0.1" fill="#2b2a72" />
<rect x="591.66" y="366.05" width="1.5" height="0.55" fill="#2b2a72" />
<rect x="593.35" y="366.6" width="1.5" height="0.25" fill="#2b2a72" />
<rect x="595.05" y="366.6" width="1.5" height="0.93" fill="#2b2a72" />
<rect x="596.74" y="366.43" width="1.5" height="0.17" fill="#2b2a72" />
<rect x="598.43" y="366.6" width="1.5" height="0.34" fill="#2b2a72" />
<rect x="600.13" y="366.6" width="1.5" height="0.12" fill="#2b2a72" />
<rect x="601.82" y="365.88" width="1.5" height="0.72" fill="#2b2a72" />
<rect x="603.52" y="366.55" width="1.5" height="0.05" fill="#2b2a72" />
<rect x="605.21" y="366.38" width="1.5" height="0.22" fill="#2b2a72" />
<rect x="606.9" y="366.6" width="1.5" height="0.95" fill="#2b2a72" />
<rect x="608.6" y="366.6" width="1.5" height="0.69" fill="#2b2a72" />
<rect x="610.29" y="366.6" width="1.5" height="0.54" fill="#2b2a72" />
<rect x="611.99" y="366.6" width="1.5" height="1.02" fill="#2b2a72" />
<rect x="613.68" y="364.03" width="1.5" height="2.57" fill="#2b2a72" />
<rect x="615.37" y="366.6" width="1.5" height="0.44" fill="#2b2a72" />
<rect x="617.07" y="365.86" width="1.5" height="0.74" fill="#2b2a72" />
<rect x="618.76" y="366.6" width="1.5" height="0.45" fill="#2b2a72" />
<rect x="620.46" y="366.6" width="1.5" height="0.96" fill="#2b2a72" />
<rect x="625.54" y="366.6" width="1.5" height="0.7" fill="#2b2a72" />
<rect x="628.93" y="366.6" width="1.5" height="0.88" fill="#2b2a72" />
<rect x="630.62" y="366.6" width="1.5" height="0.53" fill="#2b2a72" />
<rect x="632.31" y="366.45" width="1.5" height="0.15" fill="#2b2a72" />
<rect x="634.01" y="366.6" width="1.5" height="0.58" fill="#2b2a72" />
<rect x="635.7" y="362.75" width="1.5" height="3.85" fill="#2b2a72" />
<rect x="637.4" y="366.6" width="1.5" height="0.86" fill="#2b2a72" />
<rect x="639.09" y="366.16" width="1.5" height="0.44" fill="#2b2a72" />
<rect x="640.78" y="366.6" width="1.5" height="0.77" fill="#2b2a72" />
<rect x="642.48" y="366.57" width="1.5" height="0.03" fill="#2b2a72" />
<rect x="644.17" y="366.6" width="1.5" height="0.32" fill="#2b2a72" />
<rect x="645.87" y="366.6" width="1.5" height="0.49" fill="#2b2a72" />
<rect x="647.56" y="366.5" width="1.5" height="0.1" fill="#2b2a72" />
<rect x="649.25" y="366.6" width="1.5" height="0.87" fill="#2b2a72" />
<rect x="650.95" y="365.91" width="1.5" height="0.69" fill="#2b2a72" />
<rect x="652.64" y="366.09" width="1.5" height="0.51" fill="#2b2a72" />
<rect x="654.34" y="366.6" width="1.5" height="0.75" fill="#2b2a72" />
<rect x="656.03" y="366.02" width="1.5" height="0.58" fill="#2b2a72" />
<rect x="657.72" y="366.22" width="1.5" height="0.38" fill="#2b2a72" />
<rect x="659.42" y="366.55" width="1.5" height="0.05" fill="#2b2a72" />
<rect x="661.11" y="366.25" width="1.5" height="0.35" fill="#2b2a72" />
<rect x="662.81" y="366.33" width="1.5" height="0.27" fill="#2b2a72" />
<rect x="664.5" y="366.6" width="1.5" height="0.14" fill="#2b2a72" />
<rect x="666.19" y="366.6" width="1.5" height="0.52" fill="#2b2a72" />
<rect x="667.89" y="366.52" width="1.5" height="0.08" fill="#2b2a72" />
<rect x="669.58" y="366.6" width="1.5" height="0.77" fill="#2b2a72" />
<rect x="671.28" y="366.14" width="1.5" height="0.46" fill="#2b2a72" />
<rect x="672.97" y="366.34" width="1.5" height="0.26" fill="#2b2a72" />
<rect x="674.66" y="366.6" width="1.5" height="0.1" fill="#2b2a72" />
<rect x="676.36" y="366.6" width="1.5" height="0.26" fill="#2b2a72" />
<rect x="678.05" y="366.37" width="1.5" height="0.23" fill="#2b2a72" />
<rect x="679.75" y="366.6" width="1.5" height="0.12" fill="#2b2a72" />
<rect x="681.44" y="365.99" width="1.5" height="0.61" fill="#2b2a72" />
<rect x="683.13" y="366.27" width="1.5" height="0.33" fill="#2b2a72" />
<rect x="684.83" y="366.6" width="1.5" height="0.01" fill="#2b2a72" />
<rect x="686.52" y="366.17" width="1.5" height="0.43" fill="#2b2a72" />
<rect x="688.22" y="366.6" width="1.5" height="1" fill="#2b2a72" />
<rect x="689.91" y="366.39" width="1.5" height="0.21" fill="#2b2a72" />
<rect x="691.6" y="366.19" width="1.5" height="0.41" fill="#2b2a72" />
<rect x="693.3" y="366.35" width="1.5" height="0.25" fill="#2b2a72" />
<rect x="694.99" y="365.91" width="1.5" height="0.69" fill="#2b2a72" />
<rect x="696.69" y="366.47" width="1.5" height="0.13" fill="#2b2a72" />
<rect x="698.38" y="366.6" width="1.5" height="0.87" fill="#2b2a72" />
<rect x="700.07" y="366.6" width="1.5" height="0.95" fill="#2b2a72" />
<rect x="701.77" y="366.48" width="1.5" height="0.12" fill="#2b2a72" />
<rect x="703.46" y="365.9" width="1.5" height="0.7" fill="#2b2a72" />
<rect x="705.16" y="366.6" width="1.5" height="0.35" fill="#2b2a72" />
<rect x="706.85" y="366.6" width="1.5" height="0.22" fill="#2b2a72" />
<rect x="708.54" y="366.6" width="1.5" height="0.94" fill="#2b2a72" />
<rect x="710.24" y="366.6" width="1.5" height="0.99" fill="#2b2a72" />
<rect x="711.93" y="366.6" width="1.5" height="0.07" fill="#2b2a72" />
<rect x="713.63" y="366.6" width="1.5" height="0.59" fill="#2b2a72" />
<rect x="715.32" y="366.6" width="1.5" height="0.55" fill="#2b2a72" />
<rect x="717.01" y="366.6" width="1.5" height="0.21" fill="#2b2a72" />
<rect x="718.71" y="366.6" width="1.5" height="0.9" fill="#2b2a72" />
<rect x="720.4" y="365.95" width="1.5" height="0.65" fill="#2b2a72" />
<rect x="722.1" y="366.01" width="1.5" height="0.59" fill="#2b2a72" />
<rect x="723.79" y="366.6" width="1.5" height="0.86" fill="#2b2a72" />
<rect x="725.48" y="366.6" width="1.5" height="0.08" fill="#2b2a72" />
<rect x="727.18" y="366.29" width="1.5" height="0.31" fill="#2b2a72" />
<rect x="728.87" y="366.6" width="1.5" height="0.18" fill="#2b2a72" />
<rect x="730.57" y="366.6" width="1.5" height="32.33" fill="#2b2a72" />
<rect x="732.26" y="366.11" width="1.5" height="0.49" fill="#2b2a72" />
<rect x="733.95" y="356.08" width="1.5" height="10.52" fill="#2b2a72" />
<rect x="735.65" y="366.27" width="1.5" height="0.33" fill="#2b2a72" />
<rect x="737.34" y="366.6" width="1.5" height="0.61" fill="#2b2a72" />
<rect x="621.47" y="338.89" width="1.5" height="27.71" fill="#2b2a72" />
<rect x="623.17" y="338.89" width="1.5" height="27.71" fill="#2b2a72" />
<rect x="626.22" y="366.6" width="1.5" height="28.23" fill="#2b2a72" />
<line x1="454" y1="366.6" x2="746" y2="366.6" stroke="#111" stroke-width="1.1" />
<line x1="453.5" y1="314.1" x2="453.5" y2="417.8" stroke="#1a1a1a" stroke-width="1.2" />
<line x1="448.7" y1="315.28" x2="453.5" y2="315.28" stroke="#1a1a1a" stroke-width="1.1" />
<text x="448.4" y="319.19" font-size="11.0" text-anchor="end" fill="#000" font-weight="normal"  textLength="16.36" lengthAdjust="spacingAndGlyphs">4.0</text>
<line x1="448.7" y1="340.94" x2="453.5" y2="340.94" stroke="#1a1a1a" stroke-width="1.1" />
<text x="448.4" y="344.84" font-size="11.0" text-anchor="end" fill="#000" font-weight="normal"  textLength="16.36" lengthAdjust="spacingAndGlyphs">2.0</text>
<line x1="448.7" y1="366.6" x2="453.5" y2="366.6" stroke="#1a1a1a" stroke-width="1.1" />
<text x="442.2" y="370.5" font-size="11.0" text-anchor="end" fill="#000" font-weight="normal"  textLength="6.55" lengthAdjust="spacingAndGlyphs">0</text>
<line x1="448.7" y1="392.26" x2="453.5" y2="392.26" stroke="#1a1a1a" stroke-width="1.1" />
<text x="448.4" y="396.17" font-size="11.0" text-anchor="end" fill="#000" font-weight="normal"  textLength="20.28" lengthAdjust="spacingAndGlyphs">-2.0</text>
<line x1="448.7" y1="417.92" x2="453.5" y2="417.92" stroke="#1a1a1a" stroke-width="1.1" />
<text x="448.4" y="421.82" font-size="11.0" text-anchor="end" fill="#000" font-weight="normal"  textLength="20.28" lengthAdjust="spacingAndGlyphs">-4.0</text>
<line x1="451" y1="328.11" x2="453.5" y2="328.11" stroke="#1a1a1a" stroke-width="1.1" />
<line x1="451" y1="353.77" x2="453.5" y2="353.77" stroke="#1a1a1a" stroke-width="1.1" />
<line x1="451" y1="379.43" x2="453.5" y2="379.43" stroke="#1a1a1a" stroke-width="1.1" />
<line x1="451" y1="405.09" x2="453.5" y2="405.09" stroke="#1a1a1a" stroke-width="1.1" />
<line x1="453.5" y1="417.8" x2="741.8" y2="417.8" stroke="#1a1a1a" stroke-width="1.2" />
<line x1="453.5" y1="417.8" x2="453.5" y2="421" stroke="#1a1a1a" stroke-width="1.1" />
<text x="453.5" y="432.4" font-size="11.2" text-anchor="middle" fill="#000" font-weight="normal" >0</text>
<line x1="470.44" y1="417.8" x2="470.44" y2="420.1" stroke="#1a1a1a" stroke-width="1.1" />
<line x1="487.38" y1="417.8" x2="487.38" y2="421" stroke="#1a1a1a" stroke-width="1.1" />
<text x="487.38" y="432.4" font-size="11.2" text-anchor="middle" fill="#000" font-weight="normal" >20</text>
<line x1="504.32" y1="417.8" x2="504.32" y2="420.1" stroke="#1a1a1a" stroke-width="1.1" />
<line x1="521.26" y1="417.8" x2="521.26" y2="421" stroke="#1a1a1a" stroke-width="1.1" />
<text x="521.26" y="432.4" font-size="11.2" text-anchor="middle" fill="#000" font-weight="normal" >40</text>
<line x1="538.2" y1="417.8" x2="538.2" y2="420.1" stroke="#1a1a1a" stroke-width="1.1" />
<line x1="555.14" y1="417.8" x2="555.14" y2="421" stroke="#1a1a1a" stroke-width="1.1" />
<text x="555.14" y="432.4" font-size="11.2" text-anchor="middle" fill="#000" font-weight="normal" >60</text>
<line x1="572.08" y1="417.8" x2="572.08" y2="420.1" stroke="#1a1a1a" stroke-width="1.1" />
<line x1="589.02" y1="417.8" x2="589.02" y2="421" stroke="#1a1a1a" stroke-width="1.1" />
<text x="589.02" y="432.4" font-size="11.2" text-anchor="middle" fill="#000" font-weight="normal" >80</text>
<line x1="605.96" y1="417.8" x2="605.96" y2="420.1" stroke="#1a1a1a" stroke-width="1.1" />
<line x1="622.9" y1="417.8" x2="622.9" y2="421" stroke="#1a1a1a" stroke-width="1.1" />
<text x="622.9" y="432.4" font-size="11.2" text-anchor="middle" fill="#000" font-weight="normal" >100</text>
<line x1="639.84" y1="417.8" x2="639.84" y2="420.1" stroke="#1a1a1a" stroke-width="1.1" />
<line x1="656.78" y1="417.8" x2="656.78" y2="421" stroke="#1a1a1a" stroke-width="1.1" />
<text x="656.78" y="432.4" font-size="11.2" text-anchor="middle" fill="#000" font-weight="normal" >120</text>
<line x1="673.72" y1="417.8" x2="673.72" y2="420.1" stroke="#1a1a1a" stroke-width="1.1" />
<line x1="690.66" y1="417.8" x2="690.66" y2="421" stroke="#1a1a1a" stroke-width="1.1" />
<text x="690.66" y="432.4" font-size="11.2" text-anchor="middle" fill="#000" font-weight="normal" >140</text>
<line x1="707.6" y1="417.8" x2="707.6" y2="420.1" stroke="#1a1a1a" stroke-width="1.1" />
<line x1="724.54" y1="417.8" x2="724.54" y2="421" stroke="#1a1a1a" stroke-width="1.1" />
<text x="724.54" y="432.4" font-size="11.2" text-anchor="middle" fill="#000" font-weight="normal" >160</text>
<line x1="741.48" y1="417.8" x2="741.48" y2="420.1" stroke="#1a1a1a" stroke-width="1.1" />
<text x="609" y="341.6" font-size="10.8" text-anchor="middle" fill="#000" font-weight="normal" >100</text>
<text x="636" y="341.6" font-size="10.8" text-anchor="middle" fill="#000" font-weight="normal" >101</text>
<text x="639.4" y="397" font-size="10.8" text-anchor="middle" fill="#000" font-weight="normal" >103</text>
<text x="566.6" y="403" font-size="10.8" text-anchor="middle" fill="#000" font-weight="normal" >71</text>
<text transform="translate(424,362.8) rotate(-90)" font-size="12.5" text-anchor="middle" fill="#000" textLength="64" lengthAdjust="spacingAndGlyphs">ΔΔδα (ppm)</text>
<text x="407" y="453.6" font-size="13.4" text-anchor="start" fill="#000" font-weight="bold" textLength="8.0" lengthAdjust="spacingAndGlyphs">E</text>
<rect x="456.12" y="483.41" width="1.45" height="77.38" fill="#8282c2" />
<rect x="456.12" y="483.41" width="0.75" height="77.38" fill="#2e2d82" />
<rect x="458.91" y="518.79" width="1.45" height="42.01" fill="#8282c2" />
<rect x="458.91" y="518.79" width="0.75" height="42.01" fill="#2e2d82" />
<rect x="460.86" y="523.21" width="1.45" height="37.59" fill="#8282c2" />
<rect x="460.86" y="523.21" width="0.75" height="37.59" fill="#2e2d82" />
<rect x="464.48" y="527.63" width="1.45" height="33.16" fill="#8282c2" />
<rect x="464.48" y="527.63" width="0.75" height="33.16" fill="#2e2d82" />
<rect x="465.87" y="504.79" width="1.45" height="56.01" fill="#8282c2" />
<rect x="465.87" y="504.79" width="0.75" height="56.01" fill="#2e2d82" />
<rect x="467.82" y="513.63" width="1.45" height="47.17" fill="#8282c2" />
<rect x="467.82" y="513.63" width="0.75" height="47.17" fill="#2e2d82" />
<rect x="469.5" y="518.05" width="1.45" height="42.75" fill="#8282c2" />
<rect x="469.5" y="518.05" width="0.75" height="42.75" fill="#2e2d82" />
<rect x="471.17" y="477.52" width="1.45" height="83.28" fill="#8282c2" />
<rect x="471.17" y="477.52" width="0.75" height="83.28" fill="#2e2d82" />
<rect x="472.84" y="464.25" width="1.45" height="96.55" fill="#8282c2" />
<rect x="472.84" y="464.25" width="0.75" height="96.55" fill="#2e2d82" />
<rect x="474.51" y="484.15" width="1.45" height="76.65" fill="#8282c2" />
<rect x="474.51" y="484.15" width="0.75" height="76.65" fill="#2e2d82" />
<rect x="476.18" y="488.57" width="1.45" height="72.23" fill="#8282c2" />
<rect x="476.18" y="488.57" width="0.75" height="72.23" fill="#2e2d82" />
<rect x="477.85" y="490.78" width="1.45" height="70.01" fill="#8282c2" />
<rect x="477.85" y="490.78" width="0.75" height="70.01" fill="#2e2d82" />
<rect x="479.53" y="493" width="1.45" height="67.8" fill="#8282c2" />
<rect x="479.53" y="493" width="0.75" height="67.8" fill="#2e2d82" />
<rect x="481.2" y="492.26" width="1.45" height="68.54" fill="#8282c2" />
<rect x="481.2" y="492.26" width="0.75" height="68.54" fill="#2e2d82" />
<rect x="482.87" y="484.89" width="1.45" height="75.91" fill="#8282c2" />
<rect x="482.87" y="484.89" width="0.75" height="75.91" fill="#2e2d82" />
<rect x="484.54" y="507.74" width="1.45" height="53.06" fill="#8282c2" />
<rect x="484.54" y="507.74" width="0.75" height="53.06" fill="#2e2d82" />
<rect x="486.21" y="509.21" width="1.45" height="51.59" fill="#8282c2" />
<rect x="486.21" y="509.21" width="0.75" height="51.59" fill="#2e2d82" />
<rect x="489" y="527.63" width="1.45" height="33.16" fill="#8282c2" />
<rect x="489" y="527.63" width="0.75" height="33.16" fill="#2e2d82" />
<rect x="490.67" y="494.47" width="1.45" height="66.33" fill="#8282c2" />
<rect x="490.67" y="494.47" width="0.75" height="66.33" fill="#2e2d82" />
<rect x="492.34" y="496.68" width="1.45" height="64.12" fill="#8282c2" />
<rect x="492.34" y="496.68" width="0.75" height="64.12" fill="#2e2d82" />
<rect x="494.01" y="484.89" width="1.45" height="75.91" fill="#8282c2" />
<rect x="494.01" y="484.89" width="0.75" height="75.91" fill="#2e2d82" />
<rect x="495.69" y="479.73" width="1.45" height="81.07" fill="#8282c2" />
<rect x="495.69" y="479.73" width="0.75" height="81.07" fill="#2e2d82" />
<rect x="497.36" y="479.73" width="1.45" height="81.07" fill="#8282c2" />
<rect x="497.36" y="479.73" width="0.75" height="81.07" fill="#2e2d82" />
<rect x="499.03" y="492.26" width="1.45" height="68.54" fill="#8282c2" />
<rect x="499.03" y="492.26" width="0.75" height="68.54" fill="#2e2d82" />
<rect x="500.7" y="484.89" width="1.45" height="75.91" fill="#8282c2" />
<rect x="500.7" y="484.89" width="0.75" height="75.91" fill="#2e2d82" />
<rect x="504.05" y="504.79" width="1.45" height="56.01" fill="#8282c2" />
<rect x="504.05" y="504.79" width="0.75" height="56.01" fill="#2e2d82" />
<rect x="505.72" y="503.31" width="1.45" height="57.49" fill="#8282c2" />
<rect x="505.72" y="503.31" width="0.75" height="57.49" fill="#2e2d82" />
<rect x="509.62" y="523.95" width="1.45" height="36.85" fill="#8282c2" />
<rect x="509.62" y="523.95" width="0.75" height="36.85" fill="#2e2d82" />
<rect x="511.29" y="540.9" width="1.45" height="19.9" fill="#8282c2" />
<rect x="511.29" y="540.9" width="0.75" height="19.9" fill="#2e2d82" />
<rect x="512.96" y="515.11" width="1.45" height="45.69" fill="#8282c2" />
<rect x="512.96" y="515.11" width="0.75" height="45.69" fill="#2e2d82" />
<rect x="516.3" y="519.53" width="1.45" height="41.27" fill="#8282c2" />
<rect x="516.3" y="519.53" width="0.75" height="41.27" fill="#2e2d82" />
<rect x="517.98" y="473.83" width="1.45" height="86.97" fill="#8282c2" />
<rect x="517.98" y="473.83" width="0.75" height="86.97" fill="#2e2d82" />
<rect x="519.65" y="466.46" width="1.45" height="94.34" fill="#8282c2" />
<rect x="519.65" y="466.46" width="0.75" height="94.34" fill="#2e2d82" />
<rect x="521.32" y="487.1" width="1.45" height="73.7" fill="#8282c2" />
<rect x="521.32" y="487.1" width="0.75" height="73.7" fill="#2e2d82" />
<rect x="522.99" y="485.63" width="1.45" height="75.17" fill="#8282c2" />
<rect x="522.99" y="485.63" width="0.75" height="75.17" fill="#2e2d82" />
<rect x="524.66" y="481.2" width="1.45" height="79.6" fill="#8282c2" />
<rect x="524.66" y="481.2" width="0.75" height="79.6" fill="#2e2d82" />
<rect x="526.34" y="483.41" width="1.45" height="77.38" fill="#8282c2" />
<rect x="526.34" y="483.41" width="0.75" height="77.38" fill="#2e2d82" />
<rect x="528.01" y="493" width="1.45" height="67.8" fill="#8282c2" />
<rect x="528.01" y="493" width="0.75" height="67.8" fill="#2e2d82" />
<rect x="529.68" y="488.57" width="1.45" height="72.23" fill="#8282c2" />
<rect x="529.68" y="488.57" width="0.75" height="72.23" fill="#2e2d82" />
<rect x="531.35" y="477.52" width="1.45" height="83.28" fill="#8282c2" />
<rect x="531.35" y="477.52" width="0.75" height="83.28" fill="#2e2d82" />
<rect x="533.02" y="462.78" width="1.45" height="98.02" fill="#8282c2" />
<rect x="533.02" y="462.78" width="0.75" height="98.02" fill="#2e2d82" />
<rect x="534.69" y="475.31" width="1.45" height="85.49" fill="#8282c2" />
<rect x="534.69" y="475.31" width="0.75" height="85.49" fill="#2e2d82" />
<rect x="536.37" y="494.47" width="1.45" height="66.33" fill="#8282c2" />
<rect x="536.37" y="494.47" width="0.75" height="66.33" fill="#2e2d82" />
<rect x="538.04" y="483.41" width="1.45" height="77.38" fill="#8282c2" />
<rect x="538.04" y="483.41" width="0.75" height="77.38" fill="#2e2d82" />
<rect x="539.71" y="492.26" width="1.45" height="68.54" fill="#8282c2" />
<rect x="539.71" y="492.26" width="0.75" height="68.54" fill="#2e2d82" />
<rect x="541.38" y="490.78" width="1.45" height="70.01" fill="#8282c2" />
<rect x="541.38" y="490.78" width="0.75" height="70.01" fill="#2e2d82" />
<rect x="543.05" y="521" width="1.45" height="39.8" fill="#8282c2" />
<rect x="543.05" y="521" width="0.75" height="39.8" fill="#2e2d82" />
<rect x="551.79" y="466.46" width="1.45" height="94.34" fill="#8282c2" />
<rect x="551.79" y="466.46" width="0.75" height="94.34" fill="#2e2d82" />
<rect x="553.74" y="484.15" width="1.45" height="76.65" fill="#8282c2" />
<rect x="553.74" y="484.15" width="0.75" height="76.65" fill="#2e2d82" />
<rect x="555.41" y="481.94" width="1.45" height="78.86" fill="#8282c2" />
<rect x="555.41" y="481.94" width="0.75" height="78.86" fill="#2e2d82" />
<rect x="556.8" y="518.79" width="1.45" height="42.01" fill="#8282c2" />
<rect x="556.8" y="518.79" width="0.75" height="42.01" fill="#2e2d82" />
<rect x="558.75" y="513.63" width="1.45" height="47.17" fill="#8282c2" />
<rect x="558.75" y="513.63" width="0.75" height="47.17" fill="#2e2d82" />
<rect x="562.1" y="524.69" width="1.45" height="36.11" fill="#8282c2" />
<rect x="562.1" y="524.69" width="0.75" height="36.11" fill="#2e2d82" />
<rect x="565.16" y="498.15" width="1.45" height="62.64" fill="#8282c2" />
<rect x="565.16" y="498.15" width="0.75" height="62.64" fill="#2e2d82" />
<rect x="568.51" y="528.37" width="1.45" height="32.43" fill="#8282c2" />
<rect x="568.51" y="528.37" width="0.75" height="32.43" fill="#2e2d82" />
<rect x="582.44" y="503.31" width="1.45" height="57.49" fill="#8282c2" />
<rect x="582.44" y="503.31" width="0.75" height="57.49" fill="#2e2d82" />
<rect x="583.83" y="505.52" width="1.45" height="55.27" fill="#8282c2" />
<rect x="583.83" y="505.52" width="0.75" height="55.27" fill="#2e2d82" />
<rect x="585.22" y="495.94" width="1.45" height="64.86" fill="#8282c2" />
<rect x="585.22" y="495.94" width="0.75" height="64.86" fill="#2e2d82" />
<rect x="587.17" y="511.42" width="1.45" height="49.38" fill="#8282c2" />
<rect x="587.17" y="511.42" width="0.75" height="49.38" fill="#2e2d82" />
<rect x="588.85" y="490.05" width="1.45" height="70.75" fill="#8282c2" />
<rect x="588.85" y="490.05" width="0.75" height="70.75" fill="#2e2d82" />
<rect x="590.8" y="484.89" width="1.45" height="75.91" fill="#8282c2" />
<rect x="590.8" y="484.89" width="0.75" height="75.91" fill="#2e2d82" />
<rect x="593.58" y="472.36" width="1.45" height="88.44" fill="#8282c2" />
<rect x="593.58" y="472.36" width="0.75" height="88.44" fill="#2e2d82" />
<rect x="596.37" y="479.73" width="1.45" height="81.07" fill="#8282c2" />
<rect x="596.37" y="479.73" width="0.75" height="81.07" fill="#2e2d82" />
<rect x="598.32" y="481.94" width="1.45" height="78.86" fill="#8282c2" />
<rect x="598.32" y="481.94" width="0.75" height="78.86" fill="#2e2d82" />
<rect x="599.99" y="476.04" width="1.45" height="84.75" fill="#8282c2" />
<rect x="599.99" y="476.04" width="0.75" height="84.75" fill="#2e2d82" />
<rect x="601.94" y="468.67" width="1.45" height="92.12" fill="#8282c2" />
<rect x="601.94" y="468.67" width="0.75" height="92.12" fill="#2e2d82" />
<rect x="603.89" y="490.05" width="1.45" height="70.75" fill="#8282c2" />
<rect x="603.89" y="490.05" width="0.75" height="70.75" fill="#2e2d82" />
<rect x="605.29" y="492.26" width="1.45" height="68.54" fill="#8282c2" />
<rect x="605.29" y="492.26" width="0.75" height="68.54" fill="#2e2d82" />
<rect x="606.96" y="520.26" width="1.45" height="40.53" fill="#8282c2" />
<rect x="606.96" y="520.26" width="0.75" height="40.53" fill="#2e2d82" />
<rect x="608.91" y="513.63" width="1.45" height="47.17" fill="#8282c2" />
<rect x="608.91" y="513.63" width="0.75" height="47.17" fill="#2e2d82" />
<rect x="612.25" y="470.89" width="1.45" height="89.91" fill="#8282c2" />
<rect x="612.25" y="470.89" width="0.75" height="89.91" fill="#2e2d82" />
<rect x="613.92" y="511.42" width="1.45" height="49.38" fill="#8282c2" />
<rect x="613.92" y="511.42" width="0.75" height="49.38" fill="#2e2d82" />
<rect x="615.32" y="516.58" width="1.45" height="44.22" fill="#8282c2" />
<rect x="615.32" y="516.58" width="0.75" height="44.22" fill="#2e2d82" />
<rect x="624.23" y="525.42" width="1.45" height="35.38" fill="#8282c2" />
<rect x="624.23" y="525.42" width="0.75" height="35.38" fill="#2e2d82" />
<rect x="627.85" y="474.57" width="1.45" height="86.23" fill="#8282c2" />
<rect x="627.85" y="474.57" width="0.75" height="86.23" fill="#2e2d82" />
<rect x="632.87" y="530.58" width="1.45" height="30.22" fill="#8282c2" />
<rect x="632.87" y="530.58" width="0.75" height="30.22" fill="#2e2d82" />
<rect x="634.82" y="521.74" width="1.45" height="39.06" fill="#8282c2" />
<rect x="634.82" y="521.74" width="0.75" height="39.06" fill="#2e2d82" />
<rect x="637.33" y="518.05" width="1.45" height="42.75" fill="#8282c2" />
<rect x="637.33" y="518.05" width="0.75" height="42.75" fill="#2e2d82" />
<rect x="639" y="526.9" width="1.45" height="33.9" fill="#8282c2" />
<rect x="639" y="526.9" width="0.75" height="33.9" fill="#2e2d82" />
<rect x="640.95" y="494.47" width="1.45" height="66.33" fill="#8282c2" />
<rect x="640.95" y="494.47" width="0.75" height="66.33" fill="#2e2d82" />
<rect x="642.9" y="498.89" width="1.45" height="61.91" fill="#8282c2" />
<rect x="642.9" y="498.89" width="0.75" height="61.91" fill="#2e2d82" />
<rect x="644.57" y="503.31" width="1.45" height="57.49" fill="#8282c2" />
<rect x="644.57" y="503.31" width="0.75" height="57.49" fill="#2e2d82" />
<rect x="646.52" y="507" width="1.45" height="53.8" fill="#8282c2" />
<rect x="646.52" y="507" width="0.75" height="53.8" fill="#2e2d82" />
<rect x="650.14" y="481.2" width="1.45" height="79.6" fill="#8282c2" />
<rect x="650.14" y="481.2" width="0.75" height="79.6" fill="#2e2d82" />
<rect x="651.82" y="475.31" width="1.45" height="85.49" fill="#8282c2" />
<rect x="651.82" y="475.31" width="0.75" height="85.49" fill="#2e2d82" />
<rect x="653.49" y="484.89" width="1.45" height="75.91" fill="#8282c2" />
<rect x="653.49" y="484.89" width="0.75" height="75.91" fill="#2e2d82" />
<rect x="657.67" y="505.52" width="1.45" height="55.27" fill="#8282c2" />
<rect x="657.67" y="505.52" width="0.75" height="55.27" fill="#2e2d82" />
<rect x="659.62" y="495.94" width="1.45" height="64.86" fill="#8282c2" />
<rect x="659.62" y="495.94" width="0.75" height="64.86" fill="#2e2d82" />
<rect x="661.29" y="473.1" width="1.45" height="87.7" fill="#8282c2" />
<rect x="661.29" y="473.1" width="0.75" height="87.7" fill="#2e2d82" />
<rect x="663.24" y="464.25" width="1.45" height="96.55" fill="#8282c2" />
<rect x="663.24" y="464.25" width="0.75" height="96.55" fill="#2e2d82" />
<rect x="664.63" y="495.94" width="1.45" height="64.86" fill="#8282c2" />
<rect x="664.63" y="495.94" width="0.75" height="64.86" fill="#2e2d82" />
<rect x="666.58" y="458.36" width="1.45" height="102.44" fill="#8282c2" />
<rect x="666.58" y="458.36" width="0.75" height="102.44" fill="#2e2d82" />
<rect x="667.98" y="495.94" width="1.45" height="64.86" fill="#8282c2" />
<rect x="667.98" y="495.94" width="0.75" height="64.86" fill="#2e2d82" />
<rect x="669.65" y="484.15" width="1.45" height="76.65" fill="#8282c2" />
<rect x="669.65" y="484.15" width="0.75" height="76.65" fill="#2e2d82" />
<rect x="671.6" y="477.52" width="1.45" height="83.28" fill="#8282c2" />
<rect x="671.6" y="477.52" width="0.75" height="83.28" fill="#2e2d82" />
<rect x="673.55" y="456.15" width="1.45" height="104.65" fill="#8282c2" />
<rect x="673.55" y="456.15" width="0.75" height="104.65" fill="#2e2d82" />
<rect x="674.94" y="470.15" width="1.45" height="90.65" fill="#8282c2" />
<rect x="674.94" y="470.15" width="0.75" height="90.65" fill="#2e2d82" />
<rect x="676.61" y="484.15" width="1.45" height="76.65" fill="#8282c2" />
<rect x="676.61" y="484.15" width="0.75" height="76.65" fill="#2e2d82" />
<rect x="678.29" y="484.89" width="1.45" height="75.91" fill="#8282c2" />
<rect x="678.29" y="484.89" width="0.75" height="75.91" fill="#2e2d82" />
<rect x="679.96" y="487.84" width="1.45" height="72.96" fill="#8282c2" />
<rect x="679.96" y="487.84" width="0.75" height="72.96" fill="#2e2d82" />
<rect x="681.63" y="472.36" width="1.45" height="88.44" fill="#8282c2" />
<rect x="681.63" y="472.36" width="0.75" height="88.44" fill="#2e2d82" />
<rect x="683.3" y="467.94" width="1.45" height="92.86" fill="#8282c2" />
<rect x="683.3" y="467.94" width="0.75" height="92.86" fill="#2e2d82" />
<rect x="684.69" y="475.31" width="1.45" height="85.49" fill="#8282c2" />
<rect x="684.69" y="475.31" width="0.75" height="85.49" fill="#2e2d82" />
<rect x="688.32" y="513.63" width="1.45" height="47.17" fill="#8282c2" />
<rect x="688.32" y="513.63" width="0.75" height="47.17" fill="#2e2d82" />
<rect x="689.99" y="490.05" width="1.45" height="70.75" fill="#8282c2" />
<rect x="689.99" y="490.05" width="0.75" height="70.75" fill="#2e2d82" />
<rect x="691.66" y="478.26" width="1.45" height="82.54" fill="#8282c2" />
<rect x="691.66" y="478.26" width="0.75" height="82.54" fill="#2e2d82" />
<rect x="693.33" y="489.31" width="1.45" height="71.49" fill="#8282c2" />
<rect x="693.33" y="489.31" width="0.75" height="71.49" fill="#2e2d82" />
<rect x="695.28" y="488.57" width="1.45" height="72.23" fill="#8282c2" />
<rect x="695.28" y="488.57" width="0.75" height="72.23" fill="#2e2d82" />
<rect x="696.95" y="489.31" width="1.45" height="71.49" fill="#8282c2" />
<rect x="696.95" y="489.31" width="0.75" height="71.49" fill="#2e2d82" />
<rect x="698.63" y="480.47" width="1.45" height="80.33" fill="#8282c2" />
<rect x="698.63" y="480.47" width="0.75" height="80.33" fill="#2e2d82" />
<rect x="700.3" y="484.89" width="1.45" height="75.91" fill="#8282c2" />
<rect x="700.3" y="484.89" width="0.75" height="75.91" fill="#2e2d82" />
<rect x="703.64" y="473.83" width="1.45" height="86.97" fill="#8282c2" />
<rect x="703.64" y="473.83" width="0.75" height="86.97" fill="#2e2d82" />
<rect x="705.31" y="493.73" width="1.45" height="67.07" fill="#8282c2" />
<rect x="705.31" y="493.73" width="0.75" height="67.07" fill="#2e2d82" />
<rect x="706.71" y="476.04" width="1.45" height="84.75" fill="#8282c2" />
<rect x="706.71" y="476.04" width="0.75" height="84.75" fill="#2e2d82" />
<rect x="708.1" y="480.47" width="1.45" height="80.33" fill="#8282c2" />
<rect x="708.1" y="480.47" width="0.75" height="80.33" fill="#2e2d82" />
<rect x="709.77" y="474.57" width="1.45" height="86.23" fill="#8282c2" />
<rect x="709.77" y="474.57" width="0.75" height="86.23" fill="#2e2d82" />
<rect x="711.44" y="474.57" width="1.45" height="86.23" fill="#8282c2" />
<rect x="711.44" y="474.57" width="0.75" height="86.23" fill="#2e2d82" />
<rect x="713.11" y="484.15" width="1.45" height="76.65" fill="#8282c2" />
<rect x="713.11" y="484.15" width="0.75" height="76.65" fill="#2e2d82" />
<rect x="714.79" y="511.42" width="1.45" height="49.38" fill="#8282c2" />
<rect x="714.79" y="511.42" width="0.75" height="49.38" fill="#2e2d82" />
<rect x="716.74" y="532.06" width="1.45" height="28.74" fill="#8282c2" />
<rect x="716.74" y="532.06" width="0.75" height="28.74" fill="#2e2d82" />
<rect x="718.41" y="497.42" width="1.45" height="63.38" fill="#8282c2" />
<rect x="718.41" y="497.42" width="0.75" height="63.38" fill="#2e2d82" />
<rect x="720.36" y="511.42" width="1.45" height="49.38" fill="#8282c2" />
<rect x="720.36" y="511.42" width="0.75" height="49.38" fill="#2e2d82" />
<rect x="722.03" y="493" width="1.45" height="67.8" fill="#8282c2" />
<rect x="722.03" y="493" width="0.75" height="67.8" fill="#2e2d82" />
<rect x="723.7" y="520.26" width="1.45" height="40.53" fill="#8282c2" />
<rect x="723.7" y="520.26" width="0.75" height="40.53" fill="#2e2d82" />
<rect x="725.93" y="504.79" width="1.45" height="56.01" fill="#8282c2" />
<rect x="725.93" y="504.79" width="0.75" height="56.01" fill="#2e2d82" />
<rect x="727.6" y="505.52" width="1.45" height="55.27" fill="#8282c2" />
<rect x="727.6" y="505.52" width="0.75" height="55.27" fill="#2e2d82" />
<rect x="730.11" y="516.58" width="1.45" height="44.22" fill="#8282c2" />
<rect x="730.11" y="516.58" width="0.75" height="44.22" fill="#2e2d82" />
<rect x="732.34" y="544.59" width="1.45" height="16.21" fill="#8282c2" />
<rect x="732.34" y="544.59" width="0.75" height="16.21" fill="#2e2d82" />
<rect x="733.73" y="523.21" width="1.45" height="37.59" fill="#8282c2" />
<rect x="733.73" y="523.21" width="0.75" height="37.59" fill="#2e2d82" />
<rect x="735.68" y="523.21" width="1.45" height="37.59" fill="#8282c2" />
<rect x="735.68" y="523.21" width="0.75" height="37.59" fill="#2e2d82" />
<line x1="455.67" y1="481.21" x2="458.07" y2="481.21" stroke="#333" stroke-width="0.7" />
<line x1="456.87" y1="481.21" x2="456.87" y2="484.91" stroke="#333" stroke-width="0.7" />
<line x1="455.67" y1="484.91" x2="458.07" y2="484.91" stroke="#333" stroke-width="0.6" />
<line x1="458.46" y1="516.59" x2="460.86" y2="516.59" stroke="#333" stroke-width="0.7" />
<line x1="459.66" y1="516.59" x2="459.66" y2="520.29" stroke="#333" stroke-width="0.7" />
<line x1="458.46" y1="520.29" x2="460.86" y2="520.29" stroke="#333" stroke-width="0.6" />
<line x1="460.41" y1="521.01" x2="462.81" y2="521.01" stroke="#333" stroke-width="0.7" />
<line x1="461.61" y1="521.01" x2="461.61" y2="524.71" stroke="#333" stroke-width="0.7" />
<line x1="460.41" y1="524.71" x2="462.81" y2="524.71" stroke="#333" stroke-width="0.6" />
<line x1="464.03" y1="525.43" x2="466.43" y2="525.43" stroke="#333" stroke-width="0.7" />
<line x1="465.23" y1="525.43" x2="465.23" y2="529.13" stroke="#333" stroke-width="0.7" />
<line x1="464.03" y1="529.13" x2="466.43" y2="529.13" stroke="#333" stroke-width="0.6" />
<line x1="465.42" y1="502.59" x2="467.82" y2="502.59" stroke="#333" stroke-width="0.7" />
<line x1="466.62" y1="502.59" x2="466.62" y2="506.29" stroke="#333" stroke-width="0.7" />
<line x1="465.42" y1="506.29" x2="467.82" y2="506.29" stroke="#333" stroke-width="0.6" />
<line x1="467.37" y1="511.43" x2="469.77" y2="511.43" stroke="#333" stroke-width="0.7" />
<line x1="468.57" y1="511.43" x2="468.57" y2="515.13" stroke="#333" stroke-width="0.7" />
<line x1="467.37" y1="515.13" x2="469.77" y2="515.13" stroke="#333" stroke-width="0.6" />
<line x1="469.05" y1="515.85" x2="471.45" y2="515.85" stroke="#333" stroke-width="0.7" />
<line x1="470.25" y1="515.85" x2="470.25" y2="519.55" stroke="#333" stroke-width="0.7" />
<line x1="469.05" y1="519.55" x2="471.45" y2="519.55" stroke="#333" stroke-width="0.6" />
<line x1="470.72" y1="475.32" x2="473.12" y2="475.32" stroke="#333" stroke-width="0.7" />
<line x1="471.92" y1="475.32" x2="471.92" y2="479.02" stroke="#333" stroke-width="0.7" />
<line x1="470.72" y1="479.02" x2="473.12" y2="479.02" stroke="#333" stroke-width="0.6" />
<line x1="472.39" y1="462.05" x2="474.79" y2="462.05" stroke="#333" stroke-width="0.7" />
<line x1="473.59" y1="462.05" x2="473.59" y2="465.75" stroke="#333" stroke-width="0.7" />
<line x1="472.39" y1="465.75" x2="474.79" y2="465.75" stroke="#333" stroke-width="0.6" />
<line x1="474.06" y1="481.95" x2="476.46" y2="481.95" stroke="#333" stroke-width="0.7" />
<line x1="475.26" y1="481.95" x2="475.26" y2="485.65" stroke="#333" stroke-width="0.7" />
<line x1="474.06" y1="485.65" x2="476.46" y2="485.65" stroke="#333" stroke-width="0.6" />
<line x1="475.73" y1="486.37" x2="478.13" y2="486.37" stroke="#333" stroke-width="0.7" />
<line x1="476.93" y1="486.37" x2="476.93" y2="490.07" stroke="#333" stroke-width="0.7" />
<line x1="475.73" y1="490.07" x2="478.13" y2="490.07" stroke="#333" stroke-width="0.6" />
<line x1="477.4" y1="488.58" x2="479.8" y2="488.58" stroke="#333" stroke-width="0.7" />
<line x1="478.6" y1="488.58" x2="478.6" y2="492.28" stroke="#333" stroke-width="0.7" />
<line x1="477.4" y1="492.28" x2="479.8" y2="492.28" stroke="#333" stroke-width="0.6" />
<line x1="479.08" y1="490.8" x2="481.48" y2="490.8" stroke="#333" stroke-width="0.7" />
<line x1="480.28" y1="490.8" x2="480.28" y2="494.5" stroke="#333" stroke-width="0.7" />
<line x1="479.08" y1="494.5" x2="481.48" y2="494.5" stroke="#333" stroke-width="0.6" />
<line x1="480.75" y1="490.06" x2="483.15" y2="490.06" stroke="#333" stroke-width="0.7" />
<line x1="481.95" y1="490.06" x2="481.95" y2="493.76" stroke="#333" stroke-width="0.7" />
<line x1="480.75" y1="493.76" x2="483.15" y2="493.76" stroke="#333" stroke-width="0.6" />
<line x1="482.42" y1="482.69" x2="484.82" y2="482.69" stroke="#333" stroke-width="0.7" />
<line x1="483.62" y1="482.69" x2="483.62" y2="486.39" stroke="#333" stroke-width="0.7" />
<line x1="482.42" y1="486.39" x2="484.82" y2="486.39" stroke="#333" stroke-width="0.6" />
<line x1="484.09" y1="505.54" x2="486.49" y2="505.54" stroke="#333" stroke-width="0.7" />
<line x1="485.29" y1="505.54" x2="485.29" y2="509.24" stroke="#333" stroke-width="0.7" />
<line x1="484.09" y1="509.24" x2="486.49" y2="509.24" stroke="#333" stroke-width="0.6" />
<line x1="485.76" y1="507.01" x2="488.16" y2="507.01" stroke="#333" stroke-width="0.7" />
<line x1="486.96" y1="507.01" x2="486.96" y2="510.71" stroke="#333" stroke-width="0.7" />
<line x1="485.76" y1="510.71" x2="488.16" y2="510.71" stroke="#333" stroke-width="0.6" />
<line x1="488.55" y1="525.43" x2="490.95" y2="525.43" stroke="#333" stroke-width="0.7" />
<line x1="489.75" y1="525.43" x2="489.75" y2="529.13" stroke="#333" stroke-width="0.7" />
<line x1="488.55" y1="529.13" x2="490.95" y2="529.13" stroke="#333" stroke-width="0.6" />
<line x1="490.22" y1="492.27" x2="492.62" y2="492.27" stroke="#333" stroke-width="0.7" />
<line x1="491.42" y1="492.27" x2="491.42" y2="495.97" stroke="#333" stroke-width="0.7" />
<line x1="490.22" y1="495.97" x2="492.62" y2="495.97" stroke="#333" stroke-width="0.6" />
<line x1="491.89" y1="494.48" x2="494.29" y2="494.48" stroke="#333" stroke-width="0.7" />
<line x1="493.09" y1="494.48" x2="493.09" y2="498.18" stroke="#333" stroke-width="0.7" />
<line x1="491.89" y1="498.18" x2="494.29" y2="498.18" stroke="#333" stroke-width="0.6" />
<line x1="493.56" y1="482.69" x2="495.96" y2="482.69" stroke="#333" stroke-width="0.7" />
<line x1="494.76" y1="482.69" x2="494.76" y2="486.39" stroke="#333" stroke-width="0.7" />
<line x1="493.56" y1="486.39" x2="495.96" y2="486.39" stroke="#333" stroke-width="0.6" />
<line x1="495.24" y1="477.53" x2="497.64" y2="477.53" stroke="#333" stroke-width="0.7" />
<line x1="496.44" y1="477.53" x2="496.44" y2="481.23" stroke="#333" stroke-width="0.7" />
<line x1="495.24" y1="481.23" x2="497.64" y2="481.23" stroke="#333" stroke-width="0.6" />
<line x1="496.91" y1="477.53" x2="499.31" y2="477.53" stroke="#333" stroke-width="0.7" />
<line x1="498.11" y1="477.53" x2="498.11" y2="481.23" stroke="#333" stroke-width="0.7" />
<line x1="496.91" y1="481.23" x2="499.31" y2="481.23" stroke="#333" stroke-width="0.6" />
<line x1="498.58" y1="490.06" x2="500.98" y2="490.06" stroke="#333" stroke-width="0.7" />
<line x1="499.78" y1="490.06" x2="499.78" y2="493.76" stroke="#333" stroke-width="0.7" />
<line x1="498.58" y1="493.76" x2="500.98" y2="493.76" stroke="#333" stroke-width="0.6" />
<line x1="500.25" y1="482.69" x2="502.65" y2="482.69" stroke="#333" stroke-width="0.7" />
<line x1="501.45" y1="482.69" x2="501.45" y2="486.39" stroke="#333" stroke-width="0.7" />
<line x1="500.25" y1="486.39" x2="502.65" y2="486.39" stroke="#333" stroke-width="0.6" />
<line x1="503.6" y1="502.59" x2="506" y2="502.59" stroke="#333" stroke-width="0.7" />
<line x1="504.8" y1="502.59" x2="504.8" y2="506.29" stroke="#333" stroke-width="0.7" />
<line x1="503.6" y1="506.29" x2="506" y2="506.29" stroke="#333" stroke-width="0.6" />
<line x1="505.27" y1="501.11" x2="507.67" y2="501.11" stroke="#333" stroke-width="0.7" />
<line x1="506.47" y1="501.11" x2="506.47" y2="504.81" stroke="#333" stroke-width="0.7" />
<line x1="505.27" y1="504.81" x2="507.67" y2="504.81" stroke="#333" stroke-width="0.6" />
<line x1="509.17" y1="521.75" x2="511.57" y2="521.75" stroke="#333" stroke-width="0.7" />
<line x1="510.37" y1="521.75" x2="510.37" y2="525.45" stroke="#333" stroke-width="0.7" />
<line x1="509.17" y1="525.45" x2="511.57" y2="525.45" stroke="#333" stroke-width="0.6" />
<line x1="510.84" y1="538.7" x2="513.24" y2="538.7" stroke="#333" stroke-width="0.7" />
<line x1="512.04" y1="538.7" x2="512.04" y2="542.4" stroke="#333" stroke-width="0.7" />
<line x1="510.84" y1="542.4" x2="513.24" y2="542.4" stroke="#333" stroke-width="0.6" />
<line x1="512.51" y1="512.91" x2="514.91" y2="512.91" stroke="#333" stroke-width="0.7" />
<line x1="513.71" y1="512.91" x2="513.71" y2="516.61" stroke="#333" stroke-width="0.7" />
<line x1="512.51" y1="516.61" x2="514.91" y2="516.61" stroke="#333" stroke-width="0.6" />
<line x1="515.85" y1="517.33" x2="518.25" y2="517.33" stroke="#333" stroke-width="0.7" />
<line x1="517.05" y1="517.33" x2="517.05" y2="521.03" stroke="#333" stroke-width="0.7" />
<line x1="515.85" y1="521.03" x2="518.25" y2="521.03" stroke="#333" stroke-width="0.6" />
<line x1="517.53" y1="471.63" x2="519.93" y2="471.63" stroke="#333" stroke-width="0.7" />
<line x1="518.73" y1="471.63" x2="518.73" y2="475.33" stroke="#333" stroke-width="0.7" />
<line x1="517.53" y1="475.33" x2="519.93" y2="475.33" stroke="#333" stroke-width="0.6" />
<line x1="519.2" y1="464.26" x2="521.6" y2="464.26" stroke="#333" stroke-width="0.7" />
<line x1="520.4" y1="464.26" x2="520.4" y2="467.96" stroke="#333" stroke-width="0.7" />
<line x1="519.2" y1="467.96" x2="521.6" y2="467.96" stroke="#333" stroke-width="0.6" />
<line x1="520.87" y1="484.9" x2="523.27" y2="484.9" stroke="#333" stroke-width="0.7" />
<line x1="522.07" y1="484.9" x2="522.07" y2="488.6" stroke="#333" stroke-width="0.7" />
<line x1="520.87" y1="488.6" x2="523.27" y2="488.6" stroke="#333" stroke-width="0.6" />
<line x1="522.54" y1="483.43" x2="524.94" y2="483.43" stroke="#333" stroke-width="0.7" />
<line x1="523.74" y1="483.43" x2="523.74" y2="487.13" stroke="#333" stroke-width="0.7" />
<line x1="522.54" y1="487.13" x2="524.94" y2="487.13" stroke="#333" stroke-width="0.6" />
<line x1="524.21" y1="479" x2="526.61" y2="479" stroke="#333" stroke-width="0.7" />
<line x1="525.41" y1="479" x2="525.41" y2="482.7" stroke="#333" stroke-width="0.7" />
<line x1="524.21" y1="482.7" x2="526.61" y2="482.7" stroke="#333" stroke-width="0.6" />
<line x1="525.89" y1="481.21" x2="528.29" y2="481.21" stroke="#333" stroke-width="0.7" />
<line x1="527.09" y1="481.21" x2="527.09" y2="484.91" stroke="#333" stroke-width="0.7" />
<line x1="525.89" y1="484.91" x2="528.29" y2="484.91" stroke="#333" stroke-width="0.6" />
<line x1="527.56" y1="490.8" x2="529.96" y2="490.8" stroke="#333" stroke-width="0.7" />
<line x1="528.76" y1="490.8" x2="528.76" y2="494.5" stroke="#333" stroke-width="0.7" />
<line x1="527.56" y1="494.5" x2="529.96" y2="494.5" stroke="#333" stroke-width="0.6" />
<line x1="529.23" y1="486.37" x2="531.63" y2="486.37" stroke="#333" stroke-width="0.7" />
<line x1="530.43" y1="486.37" x2="530.43" y2="490.07" stroke="#333" stroke-width="0.7" />
<line x1="529.23" y1="490.07" x2="531.63" y2="490.07" stroke="#333" stroke-width="0.6" />
<line x1="530.9" y1="475.32" x2="533.3" y2="475.32" stroke="#333" stroke-width="0.7" />
<line x1="532.1" y1="475.32" x2="532.1" y2="479.02" stroke="#333" stroke-width="0.7" />
<line x1="530.9" y1="479.02" x2="533.3" y2="479.02" stroke="#333" stroke-width="0.6" />
<line x1="532.57" y1="460.58" x2="534.97" y2="460.58" stroke="#333" stroke-width="0.7" />
<line x1="533.77" y1="460.58" x2="533.77" y2="464.28" stroke="#333" stroke-width="0.7" />
<line x1="532.57" y1="464.28" x2="534.97" y2="464.28" stroke="#333" stroke-width="0.6" />
<line x1="534.24" y1="473.11" x2="536.64" y2="473.11" stroke="#333" stroke-width="0.7" />
<line x1="535.44" y1="473.11" x2="535.44" y2="476.81" stroke="#333" stroke-width="0.7" />
<line x1="534.24" y1="476.81" x2="536.64" y2="476.81" stroke="#333" stroke-width="0.6" />
<line x1="535.92" y1="492.27" x2="538.32" y2="492.27" stroke="#333" stroke-width="0.7" />
<line x1="537.12" y1="492.27" x2="537.12" y2="495.97" stroke="#333" stroke-width="0.7" />
<line x1="535.92" y1="495.97" x2="538.32" y2="495.97" stroke="#333" stroke-width="0.6" />
<line x1="537.59" y1="481.21" x2="539.99" y2="481.21" stroke="#333" stroke-width="0.7" />
<line x1="538.79" y1="481.21" x2="538.79" y2="484.91" stroke="#333" stroke-width="0.7" />
<line x1="537.59" y1="484.91" x2="539.99" y2="484.91" stroke="#333" stroke-width="0.6" />
<line x1="539.26" y1="490.06" x2="541.66" y2="490.06" stroke="#333" stroke-width="0.7" />
<line x1="540.46" y1="490.06" x2="540.46" y2="493.76" stroke="#333" stroke-width="0.7" />
<line x1="539.26" y1="493.76" x2="541.66" y2="493.76" stroke="#333" stroke-width="0.6" />
<line x1="540.93" y1="488.58" x2="543.33" y2="488.58" stroke="#333" stroke-width="0.7" />
<line x1="542.13" y1="488.58" x2="542.13" y2="492.28" stroke="#333" stroke-width="0.7" />
<line x1="540.93" y1="492.28" x2="543.33" y2="492.28" stroke="#333" stroke-width="0.6" />
<line x1="542.6" y1="518.8" x2="545" y2="518.8" stroke="#333" stroke-width="0.7" />
<line x1="543.8" y1="518.8" x2="543.8" y2="522.5" stroke="#333" stroke-width="0.7" />
<line x1="542.6" y1="522.5" x2="545" y2="522.5" stroke="#333" stroke-width="0.6" />
<line x1="551.34" y1="464.26" x2="553.74" y2="464.26" stroke="#333" stroke-width="0.7" />
<line x1="552.54" y1="464.26" x2="552.54" y2="467.96" stroke="#333" stroke-width="0.7" />
<line x1="551.34" y1="467.96" x2="553.74" y2="467.96" stroke="#333" stroke-width="0.6" />
<line x1="553.29" y1="481.95" x2="555.69" y2="481.95" stroke="#333" stroke-width="0.7" />
<line x1="554.49" y1="481.95" x2="554.49" y2="485.65" stroke="#333" stroke-width="0.7" />
<line x1="553.29" y1="485.65" x2="555.69" y2="485.65" stroke="#333" stroke-width="0.6" />
<line x1="554.96" y1="479.74" x2="557.36" y2="479.74" stroke="#333" stroke-width="0.7" />
<line x1="556.16" y1="479.74" x2="556.16" y2="483.44" stroke="#333" stroke-width="0.7" />
<line x1="554.96" y1="483.44" x2="557.36" y2="483.44" stroke="#333" stroke-width="0.6" />
<line x1="556.35" y1="516.59" x2="558.75" y2="516.59" stroke="#333" stroke-width="0.7" />
<line x1="557.55" y1="516.59" x2="557.55" y2="520.29" stroke="#333" stroke-width="0.7" />
<line x1="556.35" y1="520.29" x2="558.75" y2="520.29" stroke="#333" stroke-width="0.6" />
<line x1="558.3" y1="511.43" x2="560.7" y2="511.43" stroke="#333" stroke-width="0.7" />
<line x1="559.5" y1="511.43" x2="559.5" y2="515.13" stroke="#333" stroke-width="0.7" />
<line x1="558.3" y1="515.13" x2="560.7" y2="515.13" stroke="#333" stroke-width="0.6" />
<line x1="561.65" y1="522.49" x2="564.05" y2="522.49" stroke="#333" stroke-width="0.7" />
<line x1="562.85" y1="522.49" x2="562.85" y2="526.19" stroke="#333" stroke-width="0.7" />
<line x1="561.65" y1="526.19" x2="564.05" y2="526.19" stroke="#333" stroke-width="0.6" />
<line x1="564.71" y1="495.95" x2="567.11" y2="495.95" stroke="#333" stroke-width="0.7" />
<line x1="565.91" y1="495.95" x2="565.91" y2="499.65" stroke="#333" stroke-width="0.7" />
<line x1="564.71" y1="499.65" x2="567.11" y2="499.65" stroke="#333" stroke-width="0.6" />
<line x1="568.06" y1="526.17" x2="570.46" y2="526.17" stroke="#333" stroke-width="0.7" />
<line x1="569.26" y1="526.17" x2="569.26" y2="529.87" stroke="#333" stroke-width="0.7" />
<line x1="568.06" y1="529.87" x2="570.46" y2="529.87" stroke="#333" stroke-width="0.6" />
<line x1="581.99" y1="501.11" x2="584.39" y2="501.11" stroke="#333" stroke-width="0.7" />
<line x1="583.19" y1="501.11" x2="583.19" y2="504.81" stroke="#333" stroke-width="0.7" />
<line x1="581.99" y1="504.81" x2="584.39" y2="504.81" stroke="#333" stroke-width="0.6" />
<line x1="583.38" y1="503.32" x2="585.78" y2="503.32" stroke="#333" stroke-width="0.7" />
<line x1="584.58" y1="503.32" x2="584.58" y2="507.02" stroke="#333" stroke-width="0.7" />
<line x1="583.38" y1="507.02" x2="585.78" y2="507.02" stroke="#333" stroke-width="0.6" />
<line x1="584.77" y1="493.74" x2="587.17" y2="493.74" stroke="#333" stroke-width="0.7" />
<line x1="585.97" y1="493.74" x2="585.97" y2="497.44" stroke="#333" stroke-width="0.7" />
<line x1="584.77" y1="497.44" x2="587.17" y2="497.44" stroke="#333" stroke-width="0.6" />
<line x1="586.72" y1="509.22" x2="589.12" y2="509.22" stroke="#333" stroke-width="0.7" />
<line x1="587.92" y1="509.22" x2="587.92" y2="512.92" stroke="#333" stroke-width="0.7" />
<line x1="586.72" y1="512.92" x2="589.12" y2="512.92" stroke="#333" stroke-width="0.6" />
<line x1="588.4" y1="487.85" x2="590.8" y2="487.85" stroke="#333" stroke-width="0.7" />
<line x1="589.6" y1="487.85" x2="589.6" y2="491.55" stroke="#333" stroke-width="0.7" />
<line x1="588.4" y1="491.55" x2="590.8" y2="491.55" stroke="#333" stroke-width="0.6" />
<line x1="590.35" y1="482.69" x2="592.75" y2="482.69" stroke="#333" stroke-width="0.7" />
<line x1="591.55" y1="482.69" x2="591.55" y2="486.39" stroke="#333" stroke-width="0.7" />
<line x1="590.35" y1="486.39" x2="592.75" y2="486.39" stroke="#333" stroke-width="0.6" />
<line x1="593.13" y1="470.16" x2="595.53" y2="470.16" stroke="#333" stroke-width="0.7" />
<line x1="594.33" y1="470.16" x2="594.33" y2="473.86" stroke="#333" stroke-width="0.7" />
<line x1="593.13" y1="473.86" x2="595.53" y2="473.86" stroke="#333" stroke-width="0.6" />
<line x1="595.92" y1="477.53" x2="598.32" y2="477.53" stroke="#333" stroke-width="0.7" />
<line x1="597.12" y1="477.53" x2="597.12" y2="481.23" stroke="#333" stroke-width="0.7" />
<line x1="595.92" y1="481.23" x2="598.32" y2="481.23" stroke="#333" stroke-width="0.6" />
<line x1="597.87" y1="479.74" x2="600.27" y2="479.74" stroke="#333" stroke-width="0.7" />
<line x1="599.07" y1="479.74" x2="599.07" y2="483.44" stroke="#333" stroke-width="0.7" />
<line x1="597.87" y1="483.44" x2="600.27" y2="483.44" stroke="#333" stroke-width="0.6" />
<line x1="599.54" y1="473.84" x2="601.94" y2="473.84" stroke="#333" stroke-width="0.7" />
<line x1="600.74" y1="473.84" x2="600.74" y2="477.54" stroke="#333" stroke-width="0.7" />
<line x1="599.54" y1="477.54" x2="601.94" y2="477.54" stroke="#333" stroke-width="0.6" />
<line x1="601.49" y1="466.47" x2="603.89" y2="466.47" stroke="#333" stroke-width="0.7" />
<line x1="602.69" y1="466.47" x2="602.69" y2="470.17" stroke="#333" stroke-width="0.7" />
<line x1="601.49" y1="470.17" x2="603.89" y2="470.17" stroke="#333" stroke-width="0.6" />
<line x1="603.44" y1="487.85" x2="605.84" y2="487.85" stroke="#333" stroke-width="0.7" />
<line x1="604.64" y1="487.85" x2="604.64" y2="491.55" stroke="#333" stroke-width="0.7" />
<line x1="603.44" y1="491.55" x2="605.84" y2="491.55" stroke="#333" stroke-width="0.6" />
<line x1="604.84" y1="490.06" x2="607.24" y2="490.06" stroke="#333" stroke-width="0.7" />
<line x1="606.04" y1="490.06" x2="606.04" y2="493.76" stroke="#333" stroke-width="0.7" />
<line x1="604.84" y1="493.76" x2="607.24" y2="493.76" stroke="#333" stroke-width="0.6" />
<line x1="606.51" y1="518.06" x2="608.91" y2="518.06" stroke="#333" stroke-width="0.7" />
<line x1="607.71" y1="518.06" x2="607.71" y2="521.76" stroke="#333" stroke-width="0.7" />
<line x1="606.51" y1="521.76" x2="608.91" y2="521.76" stroke="#333" stroke-width="0.6" />
<line x1="608.46" y1="511.43" x2="610.86" y2="511.43" stroke="#333" stroke-width="0.7" />
<line x1="609.66" y1="511.43" x2="609.66" y2="515.13" stroke="#333" stroke-width="0.7" />
<line x1="608.46" y1="515.13" x2="610.86" y2="515.13" stroke="#333" stroke-width="0.6" />
<line x1="611.8" y1="468.69" x2="614.2" y2="468.69" stroke="#333" stroke-width="0.7" />
<line x1="613" y1="468.69" x2="613" y2="472.39" stroke="#333" stroke-width="0.7" />
<line x1="611.8" y1="472.39" x2="614.2" y2="472.39" stroke="#333" stroke-width="0.6" />
<line x1="613.47" y1="509.22" x2="615.87" y2="509.22" stroke="#333" stroke-width="0.7" />
<line x1="614.67" y1="509.22" x2="614.67" y2="512.92" stroke="#333" stroke-width="0.7" />
<line x1="613.47" y1="512.92" x2="615.87" y2="512.92" stroke="#333" stroke-width="0.6" />
<line x1="614.87" y1="514.38" x2="617.27" y2="514.38" stroke="#333" stroke-width="0.7" />
<line x1="616.07" y1="514.38" x2="616.07" y2="518.08" stroke="#333" stroke-width="0.7" />
<line x1="614.87" y1="518.08" x2="617.27" y2="518.08" stroke="#333" stroke-width="0.6" />
<line x1="623.78" y1="523.22" x2="626.18" y2="523.22" stroke="#333" stroke-width="0.7" />
<line x1="624.98" y1="523.22" x2="624.98" y2="526.92" stroke="#333" stroke-width="0.7" />
<line x1="623.78" y1="526.92" x2="626.18" y2="526.92" stroke="#333" stroke-width="0.6" />
<line x1="627.4" y1="472.37" x2="629.8" y2="472.37" stroke="#333" stroke-width="0.7" />
<line x1="628.6" y1="472.37" x2="628.6" y2="476.07" stroke="#333" stroke-width="0.7" />
<line x1="627.4" y1="476.07" x2="629.8" y2="476.07" stroke="#333" stroke-width="0.6" />
<line x1="632.42" y1="528.38" x2="634.82" y2="528.38" stroke="#333" stroke-width="0.7" />
<line x1="633.62" y1="528.38" x2="633.62" y2="532.08" stroke="#333" stroke-width="0.7" />
<line x1="632.42" y1="532.08" x2="634.82" y2="532.08" stroke="#333" stroke-width="0.6" />
<line x1="634.37" y1="519.54" x2="636.77" y2="519.54" stroke="#333" stroke-width="0.7" />
<line x1="635.57" y1="519.54" x2="635.57" y2="523.24" stroke="#333" stroke-width="0.7" />
<line x1="634.37" y1="523.24" x2="636.77" y2="523.24" stroke="#333" stroke-width="0.6" />
<line x1="636.88" y1="515.85" x2="639.28" y2="515.85" stroke="#333" stroke-width="0.7" />
<line x1="638.08" y1="515.85" x2="638.08" y2="519.55" stroke="#333" stroke-width="0.7" />
<line x1="636.88" y1="519.55" x2="639.28" y2="519.55" stroke="#333" stroke-width="0.6" />
<line x1="638.55" y1="524.7" x2="640.95" y2="524.7" stroke="#333" stroke-width="0.7" />
<line x1="639.75" y1="524.7" x2="639.75" y2="528.4" stroke="#333" stroke-width="0.7" />
<line x1="638.55" y1="528.4" x2="640.95" y2="528.4" stroke="#333" stroke-width="0.6" />
<line x1="640.5" y1="492.27" x2="642.9" y2="492.27" stroke="#333" stroke-width="0.7" />
<line x1="641.7" y1="492.27" x2="641.7" y2="495.97" stroke="#333" stroke-width="0.7" />
<line x1="640.5" y1="495.97" x2="642.9" y2="495.97" stroke="#333" stroke-width="0.6" />
<line x1="642.45" y1="496.69" x2="644.85" y2="496.69" stroke="#333" stroke-width="0.7" />
<line x1="643.65" y1="496.69" x2="643.65" y2="500.39" stroke="#333" stroke-width="0.7" />
<line x1="642.45" y1="500.39" x2="644.85" y2="500.39" stroke="#333" stroke-width="0.6" />
<line x1="644.12" y1="501.11" x2="646.52" y2="501.11" stroke="#333" stroke-width="0.7" />
<line x1="645.32" y1="501.11" x2="645.32" y2="504.81" stroke="#333" stroke-width="0.7" />
<line x1="644.12" y1="504.81" x2="646.52" y2="504.81" stroke="#333" stroke-width="0.6" />
<line x1="646.07" y1="504.8" x2="648.47" y2="504.8" stroke="#333" stroke-width="0.7" />
<line x1="647.27" y1="504.8" x2="647.27" y2="508.5" stroke="#333" stroke-width="0.7" />
<line x1="646.07" y1="508.5" x2="648.47" y2="508.5" stroke="#333" stroke-width="0.6" />
<line x1="649.69" y1="479" x2="652.09" y2="479" stroke="#333" stroke-width="0.7" />
<line x1="650.89" y1="479" x2="650.89" y2="482.7" stroke="#333" stroke-width="0.7" />
<line x1="649.69" y1="482.7" x2="652.09" y2="482.7" stroke="#333" stroke-width="0.6" />
<line x1="651.37" y1="473.11" x2="653.77" y2="473.11" stroke="#333" stroke-width="0.7" />
<line x1="652.57" y1="473.11" x2="652.57" y2="476.81" stroke="#333" stroke-width="0.7" />
<line x1="651.37" y1="476.81" x2="653.77" y2="476.81" stroke="#333" stroke-width="0.6" />
<line x1="653.04" y1="482.69" x2="655.44" y2="482.69" stroke="#333" stroke-width="0.7" />
<line x1="654.24" y1="482.69" x2="654.24" y2="486.39" stroke="#333" stroke-width="0.7" />
<line x1="653.04" y1="486.39" x2="655.44" y2="486.39" stroke="#333" stroke-width="0.6" />
<line x1="657.22" y1="503.32" x2="659.62" y2="503.32" stroke="#333" stroke-width="0.7" />
<line x1="658.42" y1="503.32" x2="658.42" y2="507.02" stroke="#333" stroke-width="0.7" />
<line x1="657.22" y1="507.02" x2="659.62" y2="507.02" stroke="#333" stroke-width="0.6" />
<line x1="659.17" y1="493.74" x2="661.57" y2="493.74" stroke="#333" stroke-width="0.7" />
<line x1="660.37" y1="493.74" x2="660.37" y2="497.44" stroke="#333" stroke-width="0.7" />
<line x1="659.17" y1="497.44" x2="661.57" y2="497.44" stroke="#333" stroke-width="0.6" />
<line x1="660.84" y1="470.9" x2="663.24" y2="470.9" stroke="#333" stroke-width="0.7" />
<line x1="662.04" y1="470.9" x2="662.04" y2="474.6" stroke="#333" stroke-width="0.7" />
<line x1="660.84" y1="474.6" x2="663.24" y2="474.6" stroke="#333" stroke-width="0.6" />
<line x1="662.79" y1="462.05" x2="665.19" y2="462.05" stroke="#333" stroke-width="0.7" />
<line x1="663.99" y1="462.05" x2="663.99" y2="465.75" stroke="#333" stroke-width="0.7" />
<line x1="662.79" y1="465.75" x2="665.19" y2="465.75" stroke="#333" stroke-width="0.6" />
<line x1="664.18" y1="493.74" x2="666.58" y2="493.74" stroke="#333" stroke-width="0.7" />
<line x1="665.38" y1="493.74" x2="665.38" y2="497.44" stroke="#333" stroke-width="0.7" />
<line x1="664.18" y1="497.44" x2="666.58" y2="497.44" stroke="#333" stroke-width="0.6" />
<line x1="666.13" y1="456.16" x2="668.53" y2="456.16" stroke="#333" stroke-width="0.7" />
<line x1="667.33" y1="456.16" x2="667.33" y2="459.86" stroke="#333" stroke-width="0.7" />
<line x1="666.13" y1="459.86" x2="668.53" y2="459.86" stroke="#333" stroke-width="0.6" />
<line x1="667.53" y1="493.74" x2="669.93" y2="493.74" stroke="#333" stroke-width="0.7" />
<line x1="668.73" y1="493.74" x2="668.73" y2="497.44" stroke="#333" stroke-width="0.7" />
<line x1="667.53" y1="497.44" x2="669.93" y2="497.44" stroke="#333" stroke-width="0.6" />
<line x1="669.2" y1="481.95" x2="671.6" y2="481.95" stroke="#333" stroke-width="0.7" />
<line x1="670.4" y1="481.95" x2="670.4" y2="485.65" stroke="#333" stroke-width="0.7" />
<line x1="669.2" y1="485.65" x2="671.6" y2="485.65" stroke="#333" stroke-width="0.6" />
<line x1="671.15" y1="475.32" x2="673.55" y2="475.32" stroke="#333" stroke-width="0.7" />
<line x1="672.35" y1="475.32" x2="672.35" y2="479.02" stroke="#333" stroke-width="0.7" />
<line x1="671.15" y1="479.02" x2="673.55" y2="479.02" stroke="#333" stroke-width="0.6" />
<line x1="673.1" y1="453.95" x2="675.5" y2="453.95" stroke="#333" stroke-width="0.7" />
<line x1="674.3" y1="453.95" x2="674.3" y2="457.65" stroke="#333" stroke-width="0.7" />
<line x1="673.1" y1="457.65" x2="675.5" y2="457.65" stroke="#333" stroke-width="0.6" />
<line x1="674.49" y1="467.95" x2="676.89" y2="467.95" stroke="#333" stroke-width="0.7" />
<line x1="675.69" y1="467.95" x2="675.69" y2="471.65" stroke="#333" stroke-width="0.7" />
<line x1="674.49" y1="471.65" x2="676.89" y2="471.65" stroke="#333" stroke-width="0.6" />
<line x1="676.16" y1="481.95" x2="678.56" y2="481.95" stroke="#333" stroke-width="0.7" />
<line x1="677.36" y1="481.95" x2="677.36" y2="485.65" stroke="#333" stroke-width="0.7" />
<line x1="676.16" y1="485.65" x2="678.56" y2="485.65" stroke="#333" stroke-width="0.6" />
<line x1="677.84" y1="482.69" x2="680.24" y2="482.69" stroke="#333" stroke-width="0.7" />
<line x1="679.04" y1="482.69" x2="679.04" y2="486.39" stroke="#333" stroke-width="0.7" />
<line x1="677.84" y1="486.39" x2="680.24" y2="486.39" stroke="#333" stroke-width="0.6" />
<line x1="679.51" y1="485.64" x2="681.91" y2="485.64" stroke="#333" stroke-width="0.7" />
<line x1="680.71" y1="485.64" x2="680.71" y2="489.34" stroke="#333" stroke-width="0.7" />
<line x1="679.51" y1="489.34" x2="681.91" y2="489.34" stroke="#333" stroke-width="0.6" />
<line x1="681.18" y1="470.16" x2="683.58" y2="470.16" stroke="#333" stroke-width="0.7" />
<line x1="682.38" y1="470.16" x2="682.38" y2="473.86" stroke="#333" stroke-width="0.7" />
<line x1="681.18" y1="473.86" x2="683.58" y2="473.86" stroke="#333" stroke-width="0.6" />
<line x1="682.85" y1="465.74" x2="685.25" y2="465.74" stroke="#333" stroke-width="0.7" />
<line x1="684.05" y1="465.74" x2="684.05" y2="469.44" stroke="#333" stroke-width="0.7" />
<line x1="682.85" y1="469.44" x2="685.25" y2="469.44" stroke="#333" stroke-width="0.6" />
<line x1="684.24" y1="473.11" x2="686.64" y2="473.11" stroke="#333" stroke-width="0.7" />
<line x1="685.44" y1="473.11" x2="685.44" y2="476.81" stroke="#333" stroke-width="0.7" />
<line x1="684.24" y1="476.81" x2="686.64" y2="476.81" stroke="#333" stroke-width="0.6" />
<line x1="687.87" y1="511.43" x2="690.27" y2="511.43" stroke="#333" stroke-width="0.7" />
<line x1="689.07" y1="511.43" x2="689.07" y2="515.13" stroke="#333" stroke-width="0.7" />
<line x1="687.87" y1="515.13" x2="690.27" y2="515.13" stroke="#333" stroke-width="0.6" />
<line x1="689.54" y1="487.85" x2="691.94" y2="487.85" stroke="#333" stroke-width="0.7" />
<line x1="690.74" y1="487.85" x2="690.74" y2="491.55" stroke="#333" stroke-width="0.7" />
<line x1="689.54" y1="491.55" x2="691.94" y2="491.55" stroke="#333" stroke-width="0.6" />
<line x1="691.21" y1="476.06" x2="693.61" y2="476.06" stroke="#333" stroke-width="0.7" />
<line x1="692.41" y1="476.06" x2="692.41" y2="479.76" stroke="#333" stroke-width="0.7" />
<line x1="691.21" y1="479.76" x2="693.61" y2="479.76" stroke="#333" stroke-width="0.6" />
<line x1="692.88" y1="487.11" x2="695.28" y2="487.11" stroke="#333" stroke-width="0.7" />
<line x1="694.08" y1="487.11" x2="694.08" y2="490.81" stroke="#333" stroke-width="0.7" />
<line x1="692.88" y1="490.81" x2="695.28" y2="490.81" stroke="#333" stroke-width="0.6" />
<line x1="694.83" y1="486.37" x2="697.23" y2="486.37" stroke="#333" stroke-width="0.7" />
<line x1="696.03" y1="486.37" x2="696.03" y2="490.07" stroke="#333" stroke-width="0.7" />
<line x1="694.83" y1="490.07" x2="697.23" y2="490.07" stroke="#333" stroke-width="0.6" />
<line x1="696.5" y1="487.11" x2="698.9" y2="487.11" stroke="#333" stroke-width="0.7" />
<line x1="697.7" y1="487.11" x2="697.7" y2="490.81" stroke="#333" stroke-width="0.7" />
<line x1="696.5" y1="490.81" x2="698.9" y2="490.81" stroke="#333" stroke-width="0.6" />
<line x1="698.18" y1="478.27" x2="700.58" y2="478.27" stroke="#333" stroke-width="0.7" />
<line x1="699.38" y1="478.27" x2="699.38" y2="481.97" stroke="#333" stroke-width="0.7" />
<line x1="698.18" y1="481.97" x2="700.58" y2="481.97" stroke="#333" stroke-width="0.6" />
<line x1="699.85" y1="482.69" x2="702.25" y2="482.69" stroke="#333" stroke-width="0.7" />
<line x1="701.05" y1="482.69" x2="701.05" y2="486.39" stroke="#333" stroke-width="0.7" />
<line x1="699.85" y1="486.39" x2="702.25" y2="486.39" stroke="#333" stroke-width="0.6" />
<line x1="703.19" y1="471.63" x2="705.59" y2="471.63" stroke="#333" stroke-width="0.7" />
<line x1="704.39" y1="471.63" x2="704.39" y2="475.33" stroke="#333" stroke-width="0.7" />
<line x1="703.19" y1="475.33" x2="705.59" y2="475.33" stroke="#333" stroke-width="0.6" />
<line x1="704.86" y1="491.53" x2="707.26" y2="491.53" stroke="#333" stroke-width="0.7" />
<line x1="706.06" y1="491.53" x2="706.06" y2="495.23" stroke="#333" stroke-width="0.7" />
<line x1="704.86" y1="495.23" x2="707.26" y2="495.23" stroke="#333" stroke-width="0.6" />
<line x1="706.26" y1="473.84" x2="708.66" y2="473.84" stroke="#333" stroke-width="0.7" />
<line x1="707.46" y1="473.84" x2="707.46" y2="477.54" stroke="#333" stroke-width="0.7" />
<line x1="706.26" y1="477.54" x2="708.66" y2="477.54" stroke="#333" stroke-width="0.6" />
<line x1="707.65" y1="478.27" x2="710.05" y2="478.27" stroke="#333" stroke-width="0.7" />
<line x1="708.85" y1="478.27" x2="708.85" y2="481.97" stroke="#333" stroke-width="0.7" />
<line x1="707.65" y1="481.97" x2="710.05" y2="481.97" stroke="#333" stroke-width="0.6" />
<line x1="709.32" y1="472.37" x2="711.72" y2="472.37" stroke="#333" stroke-width="0.7" />
<line x1="710.52" y1="472.37" x2="710.52" y2="476.07" stroke="#333" stroke-width="0.7" />
<line x1="709.32" y1="476.07" x2="711.72" y2="476.07" stroke="#333" stroke-width="0.6" />
<line x1="710.99" y1="472.37" x2="713.39" y2="472.37" stroke="#333" stroke-width="0.7" />
<line x1="712.19" y1="472.37" x2="712.19" y2="476.07" stroke="#333" stroke-width="0.7" />
<line x1="710.99" y1="476.07" x2="713.39" y2="476.07" stroke="#333" stroke-width="0.6" />
<line x1="712.66" y1="481.95" x2="715.06" y2="481.95" stroke="#333" stroke-width="0.7" />
<line x1="713.86" y1="481.95" x2="713.86" y2="485.65" stroke="#333" stroke-width="0.7" />
<line x1="712.66" y1="485.65" x2="715.06" y2="485.65" stroke="#333" stroke-width="0.6" />
<line x1="714.34" y1="509.22" x2="716.74" y2="509.22" stroke="#333" stroke-width="0.7" />
<line x1="715.54" y1="509.22" x2="715.54" y2="512.92" stroke="#333" stroke-width="0.7" />
<line x1="714.34" y1="512.92" x2="716.74" y2="512.92" stroke="#333" stroke-width="0.6" />
<line x1="716.29" y1="529.86" x2="718.69" y2="529.86" stroke="#333" stroke-width="0.7" />
<line x1="717.49" y1="529.86" x2="717.49" y2="533.56" stroke="#333" stroke-width="0.7" />
<line x1="716.29" y1="533.56" x2="718.69" y2="533.56" stroke="#333" stroke-width="0.6" />
<line x1="717.96" y1="495.22" x2="720.36" y2="495.22" stroke="#333" stroke-width="0.7" />
<line x1="719.16" y1="495.22" x2="719.16" y2="498.92" stroke="#333" stroke-width="0.7" />
<line x1="717.96" y1="498.92" x2="720.36" y2="498.92" stroke="#333" stroke-width="0.6" />
<line x1="719.91" y1="509.22" x2="722.31" y2="509.22" stroke="#333" stroke-width="0.7" />
<line x1="721.11" y1="509.22" x2="721.11" y2="512.92" stroke="#333" stroke-width="0.7" />
<line x1="719.91" y1="512.92" x2="722.31" y2="512.92" stroke="#333" stroke-width="0.6" />
<line x1="721.58" y1="490.8" x2="723.98" y2="490.8" stroke="#333" stroke-width="0.7" />
<line x1="722.78" y1="490.8" x2="722.78" y2="494.5" stroke="#333" stroke-width="0.7" />
<line x1="721.58" y1="494.5" x2="723.98" y2="494.5" stroke="#333" stroke-width="0.6" />
<line x1="723.25" y1="518.06" x2="725.65" y2="518.06" stroke="#333" stroke-width="0.7" />
<line x1="724.45" y1="518.06" x2="724.45" y2="521.76" stroke="#333" stroke-width="0.7" />
<line x1="723.25" y1="521.76" x2="725.65" y2="521.76" stroke="#333" stroke-width="0.6" />
<line x1="725.48" y1="502.59" x2="727.88" y2="502.59" stroke="#333" stroke-width="0.7" />
<line x1="726.68" y1="502.59" x2="726.68" y2="506.29" stroke="#333" stroke-width="0.7" />
<line x1="725.48" y1="506.29" x2="727.88" y2="506.29" stroke="#333" stroke-width="0.6" />
<line x1="727.15" y1="503.32" x2="729.55" y2="503.32" stroke="#333" stroke-width="0.7" />
<line x1="728.35" y1="503.32" x2="728.35" y2="507.02" stroke="#333" stroke-width="0.7" />
<line x1="727.15" y1="507.02" x2="729.55" y2="507.02" stroke="#333" stroke-width="0.6" />
<line x1="729.66" y1="514.38" x2="732.06" y2="514.38" stroke="#333" stroke-width="0.7" />
<line x1="730.86" y1="514.38" x2="730.86" y2="518.08" stroke="#333" stroke-width="0.7" />
<line x1="729.66" y1="518.08" x2="732.06" y2="518.08" stroke="#333" stroke-width="0.6" />
<line x1="731.89" y1="542.39" x2="734.29" y2="542.39" stroke="#333" stroke-width="0.7" />
<line x1="733.09" y1="542.39" x2="733.09" y2="546.09" stroke="#333" stroke-width="0.7" />
<line x1="731.89" y1="546.09" x2="734.29" y2="546.09" stroke="#333" stroke-width="0.6" />
<line x1="733.28" y1="521.01" x2="735.68" y2="521.01" stroke="#333" stroke-width="0.7" />
<line x1="734.48" y1="521.01" x2="734.48" y2="524.71" stroke="#333" stroke-width="0.7" />
<line x1="733.28" y1="524.71" x2="735.68" y2="524.71" stroke="#333" stroke-width="0.6" />
<line x1="735.23" y1="521.01" x2="737.63" y2="521.01" stroke="#333" stroke-width="0.7" />
<line x1="736.43" y1="521.01" x2="736.43" y2="524.71" stroke="#333" stroke-width="0.7" />
<line x1="735.23" y1="524.71" x2="737.63" y2="524.71" stroke="#333" stroke-width="0.6" />
<line x1="452.7" y1="506.2" x2="736.5" y2="506.2" stroke="#c1272d" stroke-width="1.7" stroke-dasharray="9.1 9.45"/>
<line x1="452.2" y1="449.8" x2="452.2" y2="560.8" stroke="#1a1a1a" stroke-width="1.2" />
<line x1="447.4" y1="560.8" x2="452.2" y2="560.8" stroke="#1a1a1a" stroke-width="1.1" />
<text x="444.7" y="564.7" font-size="11.0" text-anchor="end" fill="#000" font-weight="normal"  textLength="6.55" lengthAdjust="spacingAndGlyphs">0</text>
<line x1="447.4" y1="523.95" x2="452.2" y2="523.95" stroke="#1a1a1a" stroke-width="1.1" />
<text x="448.4" y="527.85" font-size="11.0" text-anchor="end" fill="#000" font-weight="normal"  textLength="16.36" lengthAdjust="spacingAndGlyphs">0.5</text>
<line x1="447.4" y1="487.1" x2="452.2" y2="487.1" stroke="#1a1a1a" stroke-width="1.1" />
<text x="448.4" y="491" font-size="11.0" text-anchor="end" fill="#000" font-weight="normal"  textLength="14.68" lengthAdjust="spacingAndGlyphs">1.0</text>
<line x1="447.4" y1="450.25" x2="452.2" y2="450.25" stroke="#1a1a1a" stroke-width="1.1" />
<text x="448.4" y="454.15" font-size="11.0" text-anchor="end" fill="#000" font-weight="normal"  textLength="14.68" lengthAdjust="spacingAndGlyphs">1.5</text>
<line x1="449.7" y1="542.38" x2="452.2" y2="542.38" stroke="#1a1a1a" stroke-width="1.1" />
<line x1="449.7" y1="505.52" x2="452.2" y2="505.52" stroke="#1a1a1a" stroke-width="1.1" />
<line x1="449.7" y1="468.67" x2="452.2" y2="468.67" stroke="#1a1a1a" stroke-width="1.1" />
<line x1="452.2" y1="560.8" x2="741.8" y2="560.8" stroke="#1a1a1a" stroke-width="1.2" />
<line x1="452.3" y1="560.8" x2="452.3" y2="564" stroke="#1a1a1a" stroke-width="1.1" />
<text x="452.3" y="576.3" font-size="11.2" text-anchor="middle" fill="#000" font-weight="normal" >0</text>
<line x1="469.13" y1="560.8" x2="469.13" y2="563.1" stroke="#1a1a1a" stroke-width="1.1" />
<line x1="485.96" y1="560.8" x2="485.96" y2="564" stroke="#1a1a1a" stroke-width="1.1" />
<text x="485.96" y="576.3" font-size="11.2" text-anchor="middle" fill="#000" font-weight="normal" >20</text>
<line x1="502.79" y1="560.8" x2="502.79" y2="563.1" stroke="#1a1a1a" stroke-width="1.1" />
<line x1="519.62" y1="560.8" x2="519.62" y2="564" stroke="#1a1a1a" stroke-width="1.1" />
<text x="519.62" y="576.3" font-size="11.2" text-anchor="middle" fill="#000" font-weight="normal" >40</text>
<line x1="536.45" y1="560.8" x2="536.45" y2="563.1" stroke="#1a1a1a" stroke-width="1.1" />
<line x1="553.28" y1="560.8" x2="553.28" y2="564" stroke="#1a1a1a" stroke-width="1.1" />
<text x="553.28" y="576.3" font-size="11.2" text-anchor="middle" fill="#000" font-weight="normal" >60</text>
<line x1="570.11" y1="560.8" x2="570.11" y2="563.1" stroke="#1a1a1a" stroke-width="1.1" />
<line x1="586.94" y1="560.8" x2="586.94" y2="564" stroke="#1a1a1a" stroke-width="1.1" />
<text x="586.94" y="576.3" font-size="11.2" text-anchor="middle" fill="#000" font-weight="normal" >80</text>
<line x1="603.77" y1="560.8" x2="603.77" y2="563.1" stroke="#1a1a1a" stroke-width="1.1" />
<line x1="620.6" y1="560.8" x2="620.6" y2="564" stroke="#1a1a1a" stroke-width="1.1" />
<text x="620.6" y="576.3" font-size="11.2" text-anchor="middle" fill="#000" font-weight="normal" >100</text>
<line x1="637.43" y1="560.8" x2="637.43" y2="563.1" stroke="#1a1a1a" stroke-width="1.1" />
<line x1="654.26" y1="560.8" x2="654.26" y2="564" stroke="#1a1a1a" stroke-width="1.1" />
<text x="654.26" y="576.3" font-size="11.2" text-anchor="middle" fill="#000" font-weight="normal" >120</text>
<line x1="671.09" y1="560.8" x2="671.09" y2="563.1" stroke="#1a1a1a" stroke-width="1.1" />
<line x1="687.92" y1="560.8" x2="687.92" y2="564" stroke="#1a1a1a" stroke-width="1.1" />
<text x="687.92" y="576.3" font-size="11.2" text-anchor="middle" fill="#000" font-weight="normal" >140</text>
<line x1="704.75" y1="560.8" x2="704.75" y2="563.1" stroke="#1a1a1a" stroke-width="1.1" />
<line x1="721.58" y1="560.8" x2="721.58" y2="564" stroke="#1a1a1a" stroke-width="1.1" />
<text x="721.58" y="576.3" font-size="11.2" text-anchor="middle" fill="#000" font-weight="normal" >160</text>
<line x1="738.41" y1="560.8" x2="738.41" y2="563.1" stroke="#1a1a1a" stroke-width="1.1" />
<text x="601" y="595" font-size="12.5" text-anchor="middle" fill="#000" font-weight="normal" >Residue</text>
<text transform="translate(423.6,501.2) rotate(-90)" font-size="11.7" text-anchor="middle" fill="#000">I<tspan font-size="7" dy="4.3">ubi</tspan><tspan dy="-4.3">/I</tspan><tspan font-size="7" dy="4.3">WT</tspan></text>
<text x="2.8" y="12.7" font-size="12.6" text-anchor="start" fill="#000" font-weight="bold" textLength="10.2" lengthAdjust="spacingAndGlyphs">A</text>
<clipPath id="cpA"><rect x="41.6" y="38.3" width="320.7" height="213.5"/></clipPath>
<g clip-path="url(#cpA)">
<ellipse cx="72.54" cy="128.45" rx="2.56" ry="1.75" fill="none" stroke="#cc2f33" stroke-width="1.0"/>
<ellipse cx="72.54" cy="128.45" rx="1.22" ry="0.7" fill="none" stroke="#cc2f33" stroke-width="0.6" opacity="0.7"/>
<ellipse cx="72.66" cy="128.35" rx="2.29" ry="1.57" fill="none" stroke="#4046b4" stroke-width="1.0" opacity="0.9"/>
<ellipse cx="72.66" cy="128.35" rx="1.08" ry="0.61" fill="none" stroke="#4046b4" stroke-width="0.6" opacity="0.7"/>
<ellipse cx="181.8" cy="93.1" rx="2.7" ry="1.57" fill="none" stroke="#cc2f33" stroke-width="0.9"/>
<ellipse cx="189.7" cy="97.4" rx="2.7" ry="1.57" fill="none" stroke="#7f86cc" stroke-width="0.9"/>
<ellipse cx="200" cy="106.4" rx="2.7" ry="1.57" fill="none" stroke="#cc2f33" stroke-width="0.9"/>
<ellipse cx="187.41" cy="112.87" rx="2.56" ry="1.75" fill="none" stroke="#cc2f33" stroke-width="1.0"/>
<ellipse cx="187.41" cy="112.87" rx="1.22" ry="0.7" fill="none" stroke="#cc2f33" stroke-width="0.6" opacity="0.7"/>
<ellipse cx="186.39" cy="112.93" rx="2.29" ry="1.57" fill="none" stroke="#4046b4" stroke-width="1.0" opacity="0.9"/>
<ellipse cx="186.39" cy="112.93" rx="1.08" ry="0.61" fill="none" stroke="#4046b4" stroke-width="0.6" opacity="0.7"/>
<ellipse cx="188.61" cy="118.37" rx="2.56" ry="1.75" fill="none" stroke="#cc2f33" stroke-width="1.0"/>
<ellipse cx="188.61" cy="118.37" rx="1.22" ry="0.7" fill="none" stroke="#cc2f33" stroke-width="0.6" opacity="0.7"/>
<ellipse cx="188.59" cy="118.23" rx="2.29" ry="1.57" fill="none" stroke="#4046b4" stroke-width="1.0" opacity="0.9"/>
<ellipse cx="188.59" cy="118.23" rx="1.08" ry="0.61" fill="none" stroke="#4046b4" stroke-width="0.6" opacity="0.7"/>
<ellipse cx="174.52" cy="120.21" rx="2.56" ry="1.75" fill="none" stroke="#cc2f33" stroke-width="1.0"/>
<ellipse cx="174.52" cy="120.21" rx="1.22" ry="0.7" fill="none" stroke="#cc2f33" stroke-width="0.6" opacity="0.7"/>
<ellipse cx="175.28" cy="120.19" rx="2.29" ry="1.57" fill="none" stroke="#4046b4" stroke-width="1.0" opacity="0.9"/>
<ellipse cx="175.28" cy="120.19" rx="1.08" ry="0.61" fill="none" stroke="#4046b4" stroke-width="0.6" opacity="0.7"/>
<ellipse cx="188.76" cy="128.63" rx="2.56" ry="1.75" fill="none" stroke="#cc2f33" stroke-width="1.0"/>
<ellipse cx="188.76" cy="128.63" rx="1.22" ry="0.7" fill="none" stroke="#cc2f33" stroke-width="0.6" opacity="0.7"/>
<ellipse cx="188.44" cy="128.17" rx="2.29" ry="1.57" fill="none" stroke="#4046b4" stroke-width="1.0" opacity="0.9"/>
<ellipse cx="188.44" cy="128.17" rx="1.08" ry="0.61" fill="none" stroke="#4046b4" stroke-width="0.6" opacity="0.7"/>
<ellipse cx="181.3" cy="133.9" rx="2.7" ry="1.57" fill="none" stroke="#cc2f33" stroke-width="0.9"/>
<ellipse cx="184.6" cy="133.9" rx="2.7" ry="1.57" fill="none" stroke="#7f86cc" stroke-width="0.9"/>
<ellipse cx="137.7" cy="159.9" rx="2.7" ry="1.57" fill="none" stroke="#cc2f33" stroke-width="0.9"/>
<ellipse cx="139.9" cy="158.4" rx="2.7" ry="1.57" fill="none" stroke="#7f86cc" stroke-width="0.9"/>
<ellipse cx="157.21" cy="163.84" rx="2.56" ry="1.75" fill="none" stroke="#cc2f33" stroke-width="1.0"/>
<ellipse cx="157.21" cy="163.84" rx="1.22" ry="0.7" fill="none" stroke="#cc2f33" stroke-width="0.6" opacity="0.7"/>
<ellipse cx="158.19" cy="164.16" rx="2.29" ry="1.57" fill="none" stroke="#4046b4" stroke-width="1.0" opacity="0.9"/>
<ellipse cx="158.19" cy="164.16" rx="1.08" ry="0.61" fill="none" stroke="#4046b4" stroke-width="0.6" opacity="0.7"/>
<ellipse cx="232.71" cy="47.05" rx="2.56" ry="1.75" fill="none" stroke="#cc2f33" stroke-width="1.0"/>
<ellipse cx="232.71" cy="47.05" rx="1.22" ry="0.7" fill="none" stroke="#cc2f33" stroke-width="0.6" opacity="0.7"/>
<ellipse cx="233.69" cy="46.55" rx="2.29" ry="1.57" fill="none" stroke="#4046b4" stroke-width="1.0" opacity="0.9"/>
<ellipse cx="233.69" cy="46.55" rx="1.08" ry="0.61" fill="none" stroke="#4046b4" stroke-width="0.6" opacity="0.7"/>
<ellipse cx="207.33" cy="67.53" rx="2.56" ry="1.75" fill="none" stroke="#cc2f33" stroke-width="1.0"/>
<ellipse cx="207.33" cy="67.53" rx="1.22" ry="0.7" fill="none" stroke="#cc2f33" stroke-width="0.6" opacity="0.7"/>
<ellipse cx="206.87" cy="68.27" rx="2.29" ry="1.57" fill="none" stroke="#4046b4" stroke-width="1.0" opacity="0.9"/>
<ellipse cx="206.87" cy="68.27" rx="1.08" ry="0.61" fill="none" stroke="#4046b4" stroke-width="0.6" opacity="0.7"/>
<ellipse cx="269.18" cy="69.37" rx="2.56" ry="1.75" fill="none" stroke="#cc2f33" stroke-width="1.0"/>
<ellipse cx="269.18" cy="69.37" rx="1.22" ry="0.7" fill="none" stroke="#cc2f33" stroke-width="0.6" opacity="0.7"/>
<ellipse cx="268.02" cy="68.63" rx="2.29" ry="1.57" fill="none" stroke="#4046b4" stroke-width="1.0" opacity="0.9"/>
<ellipse cx="268.02" cy="68.63" rx="1.08" ry="0.61" fill="none" stroke="#4046b4" stroke-width="0.6" opacity="0.7"/>
<ellipse cx="264.9" cy="75.1" rx="2.7" ry="1.57" fill="none" stroke="#7f86cc" stroke-width="0.9"/>
<ellipse cx="257" cy="79.2" rx="2.7" ry="1.57" fill="none" stroke="#cc2f33" stroke-width="0.9"/>
<ellipse cx="232.4" cy="78.4" rx="2.7" ry="1.57" fill="none" stroke="#7f86cc" stroke-width="0.9"/>
<ellipse cx="230.3" cy="79.5" rx="2.7" ry="1.57" fill="none" stroke="#cc2f33" stroke-width="0.9"/>
<ellipse cx="209.18" cy="89.69" rx="2.56" ry="1.75" fill="none" stroke="#cc2f33" stroke-width="1.0"/>
<ellipse cx="209.18" cy="89.69" rx="1.22" ry="0.7" fill="none" stroke="#cc2f33" stroke-width="0.6" opacity="0.7"/>
<ellipse cx="208.82" cy="89.51" rx="2.29" ry="1.57" fill="none" stroke="#4046b4" stroke-width="1.0" opacity="0.9"/>
<ellipse cx="208.82" cy="89.51" rx="1.08" ry="0.61" fill="none" stroke="#4046b4" stroke-width="0.6" opacity="0.7"/>
<ellipse cx="282" cy="87.5" rx="2.7" ry="1.57" fill="none" stroke="#cc2f33" stroke-width="0.9"/>
<ellipse cx="230.29" cy="99.61" rx="2.56" ry="1.75" fill="none" stroke="#cc2f33" stroke-width="1.0"/>
<ellipse cx="230.29" cy="99.61" rx="1.22" ry="0.7" fill="none" stroke="#cc2f33" stroke-width="0.6" opacity="0.7"/>
<ellipse cx="231.11" cy="100.39" rx="2.29" ry="1.57" fill="none" stroke="#4046b4" stroke-width="1.0" opacity="0.9"/>
<ellipse cx="231.11" cy="100.39" rx="1.08" ry="0.61" fill="none" stroke="#4046b4" stroke-width="0.6" opacity="0.7"/>
<ellipse cx="252.5" cy="100" rx="2.7" ry="1.57" fill="none" stroke="#cc2f33" stroke-width="0.9"/>
<ellipse cx="202.63" cy="106.05" rx="2.56" ry="1.75" fill="none" stroke="#cc2f33" stroke-width="1.0"/>
<ellipse cx="202.63" cy="106.05" rx="1.22" ry="0.7" fill="none" stroke="#cc2f33" stroke-width="0.6" opacity="0.7"/>
<ellipse cx="202.57" cy="106.75" rx="2.29" ry="1.57" fill="none" stroke="#4046b4" stroke-width="1.0" opacity="0.9"/>
<ellipse cx="202.57" cy="106.75" rx="1.08" ry="0.61" fill="none" stroke="#4046b4" stroke-width="0.6" opacity="0.7"/>
<ellipse cx="288.33" cy="95.79" rx="2.56" ry="1.75" fill="none" stroke="#cc2f33" stroke-width="1.0"/>
<ellipse cx="288.33" cy="95.79" rx="1.22" ry="0.7" fill="none" stroke="#cc2f33" stroke-width="0.6" opacity="0.7"/>
<ellipse cx="289.07" cy="96.21" rx="2.29" ry="1.57" fill="none" stroke="#4046b4" stroke-width="1.0" opacity="0.9"/>
<ellipse cx="289.07" cy="96.21" rx="1.08" ry="0.61" fill="none" stroke="#4046b4" stroke-width="0.6" opacity="0.7"/>
<ellipse cx="280.94" cy="103.27" rx="2.56" ry="1.75" fill="none" stroke="#cc2f33" stroke-width="1.0"/>
<ellipse cx="280.94" cy="103.27" rx="1.22" ry="0.7" fill="none" stroke="#cc2f33" stroke-width="0.6" opacity="0.7"/>
<ellipse cx="282.06" cy="103.33" rx="2.29" ry="1.57" fill="none" stroke="#4046b4" stroke-width="1.0" opacity="0.9"/>
<ellipse cx="282.06" cy="103.33" rx="1.08" ry="0.61" fill="none" stroke="#4046b4" stroke-width="0.6" opacity="0.7"/>
<ellipse cx="216.63" cy="120.07" rx="2.56" ry="1.75" fill="none" stroke="#cc2f33" stroke-width="1.0"/>
<ellipse cx="216.63" cy="120.07" rx="1.22" ry="0.7" fill="none" stroke="#cc2f33" stroke-width="0.6" opacity="0.7"/>
<ellipse cx="216.77" cy="119.53" rx="2.29" ry="1.57" fill="none" stroke="#4046b4" stroke-width="1.0" opacity="0.9"/>
<ellipse cx="216.77" cy="119.53" rx="1.08" ry="0.61" fill="none" stroke="#4046b4" stroke-width="0.6" opacity="0.7"/>
<ellipse cx="222.7" cy="120.6" rx="2.7" ry="1.57" fill="none" stroke="#cc2f33" stroke-width="0.9"/>
<ellipse cx="229.1" cy="119.4" rx="2.7" ry="1.57" fill="none" stroke="#7f86cc" stroke-width="0.9"/>
<ellipse cx="237.22" cy="116.31" rx="2.56" ry="1.75" fill="none" stroke="#cc2f33" stroke-width="1.0"/>
<ellipse cx="237.22" cy="116.31" rx="1.22" ry="0.7" fill="none" stroke="#cc2f33" stroke-width="0.6" opacity="0.7"/>
<ellipse cx="237.18" cy="116.09" rx="2.29" ry="1.57" fill="none" stroke="#4046b4" stroke-width="1.0" opacity="0.9"/>
<ellipse cx="237.18" cy="116.09" rx="1.08" ry="0.61" fill="none" stroke="#4046b4" stroke-width="0.6" opacity="0.7"/>
<ellipse cx="247.5" cy="114.13" rx="2.56" ry="1.75" fill="none" stroke="#cc2f33" stroke-width="1.0"/>
<ellipse cx="247.5" cy="114.13" rx="1.22" ry="0.7" fill="none" stroke="#cc2f33" stroke-width="0.6" opacity="0.7"/>
<ellipse cx="247.5" cy="113.87" rx="2.29" ry="1.57" fill="none" stroke="#4046b4" stroke-width="1.0" opacity="0.9"/>
<ellipse cx="247.5" cy="113.87" rx="1.08" ry="0.61" fill="none" stroke="#4046b4" stroke-width="0.6" opacity="0.7"/>
<ellipse cx="251.45" cy="112.12" rx="2.56" ry="1.75" fill="none" stroke="#cc2f33" stroke-width="1.0"/>
<ellipse cx="251.45" cy="112.12" rx="1.22" ry="0.7" fill="none" stroke="#cc2f33" stroke-width="0.6" opacity="0.7"/>
<ellipse cx="251.55" cy="112.48" rx="2.29" ry="1.57" fill="none" stroke="#4046b4" stroke-width="1.0" opacity="0.9"/>
<ellipse cx="251.55" cy="112.48" rx="1.08" ry="0.61" fill="none" stroke="#4046b4" stroke-width="0.6" opacity="0.7"/>
<ellipse cx="246.6" cy="121.8" rx="2.56" ry="1.75" fill="none" stroke="#cc2f33" stroke-width="1.0"/>
<ellipse cx="246.6" cy="121.8" rx="1.22" ry="0.7" fill="none" stroke="#cc2f33" stroke-width="0.6" opacity="0.7"/>
<ellipse cx="245.4" cy="121" rx="2.29" ry="1.57" fill="none" stroke="#4046b4" stroke-width="1.0" opacity="0.9"/>
<ellipse cx="245.4" cy="121" rx="1.08" ry="0.61" fill="none" stroke="#4046b4" stroke-width="0.6" opacity="0.7"/>
<ellipse cx="244.5" cy="122.8" rx="2.7" ry="1.57" fill="none" stroke="#cc2f33" stroke-width="0.9"/>
<ellipse cx="267" cy="115.7" rx="2.7" ry="1.57" fill="none" stroke="#cc2f33" stroke-width="0.9"/>
<ellipse cx="273.81" cy="115.87" rx="2.56" ry="1.75" fill="none" stroke="#cc2f33" stroke-width="1.0"/>
<ellipse cx="273.81" cy="115.87" rx="1.22" ry="0.7" fill="none" stroke="#cc2f33" stroke-width="0.6" opacity="0.7"/>
<ellipse cx="272.99" cy="115.53" rx="2.29" ry="1.57" fill="none" stroke="#4046b4" stroke-width="1.0" opacity="0.9"/>
<ellipse cx="272.99" cy="115.53" rx="1.08" ry="0.61" fill="none" stroke="#4046b4" stroke-width="0.6" opacity="0.7"/>
<ellipse cx="277.28" cy="112.28" rx="2.56" ry="1.75" fill="none" stroke="#cc2f33" stroke-width="1.0"/>
<ellipse cx="277.28" cy="112.28" rx="1.22" ry="0.7" fill="none" stroke="#cc2f33" stroke-width="0.6" opacity="0.7"/>
<ellipse cx="277.72" cy="112.72" rx="2.29" ry="1.57" fill="none" stroke="#4046b4" stroke-width="1.0" opacity="0.9"/>
<ellipse cx="277.72" cy="112.72" rx="1.08" ry="0.61" fill="none" stroke="#4046b4" stroke-width="0.6" opacity="0.7"/>
<ellipse cx="252.8" cy="132" rx="2.7" ry="1.57" fill="none" stroke="#cc2f33" stroke-width="0.9"/>
<ellipse cx="310.5" cy="76.2" rx="2.7" ry="1.57" fill="none" stroke="#cc2f33" stroke-width="0.9"/>
<ellipse cx="304.8" cy="77.3" rx="2.7" ry="1.57" fill="none" stroke="#7f86cc" stroke-width="0.9"/>
<ellipse cx="349.55" cy="74.86" rx="2.56" ry="1.75" fill="none" stroke="#cc2f33" stroke-width="1.0"/>
<ellipse cx="349.55" cy="74.86" rx="1.22" ry="0.7" fill="none" stroke="#cc2f33" stroke-width="0.6" opacity="0.7"/>
<ellipse cx="350.05" cy="75.54" rx="2.29" ry="1.57" fill="none" stroke="#4046b4" stroke-width="1.0" opacity="0.9"/>
<ellipse cx="350.05" cy="75.54" rx="1.08" ry="0.61" fill="none" stroke="#4046b4" stroke-width="0.6" opacity="0.7"/>
<ellipse cx="309.6" cy="97.8" rx="2.7" ry="1.57" fill="none" stroke="#cc2f33" stroke-width="0.9"/>
<ellipse cx="304.4" cy="98.3" rx="2.7" ry="1.57" fill="none" stroke="#7f86cc" stroke-width="0.9"/>
<ellipse cx="294.12" cy="104.92" rx="2.56" ry="1.75" fill="none" stroke="#cc2f33" stroke-width="1.0"/>
<ellipse cx="294.12" cy="104.92" rx="1.22" ry="0.7" fill="none" stroke="#cc2f33" stroke-width="0.6" opacity="0.7"/>
<ellipse cx="293.48" cy="105.08" rx="2.29" ry="1.57" fill="none" stroke="#4046b4" stroke-width="1.0" opacity="0.9"/>
<ellipse cx="293.48" cy="105.08" rx="1.08" ry="0.61" fill="none" stroke="#4046b4" stroke-width="0.6" opacity="0.7"/>
<ellipse cx="297.82" cy="109.21" rx="2.56" ry="1.75" fill="none" stroke="#cc2f33" stroke-width="1.0"/>
<ellipse cx="297.82" cy="109.21" rx="1.22" ry="0.7" fill="none" stroke="#cc2f33" stroke-width="0.6" opacity="0.7"/>
<ellipse cx="296.98" cy="109.39" rx="2.29" ry="1.57" fill="none" stroke="#4046b4" stroke-width="1.0" opacity="0.9"/>
<ellipse cx="296.98" cy="109.39" rx="1.08" ry="0.61" fill="none" stroke="#4046b4" stroke-width="0.6" opacity="0.7"/>
<ellipse cx="300.05" cy="114.58" rx="2.56" ry="1.75" fill="none" stroke="#cc2f33" stroke-width="1.0"/>
<ellipse cx="300.05" cy="114.58" rx="1.22" ry="0.7" fill="none" stroke="#cc2f33" stroke-width="0.6" opacity="0.7"/>
<ellipse cx="298.95" cy="114.02" rx="2.29" ry="1.57" fill="none" stroke="#4046b4" stroke-width="1.0" opacity="0.9"/>
<ellipse cx="298.95" cy="114.02" rx="1.08" ry="0.61" fill="none" stroke="#4046b4" stroke-width="0.6" opacity="0.7"/>
<ellipse cx="303.9" cy="112.57" rx="2.56" ry="1.75" fill="none" stroke="#cc2f33" stroke-width="1.0"/>
<ellipse cx="303.9" cy="112.57" rx="1.22" ry="0.7" fill="none" stroke="#cc2f33" stroke-width="0.6" opacity="0.7"/>
<ellipse cx="305.1" cy="113.03" rx="2.29" ry="1.57" fill="none" stroke="#4046b4" stroke-width="1.0" opacity="0.9"/>
<ellipse cx="305.1" cy="113.03" rx="1.08" ry="0.61" fill="none" stroke="#4046b4" stroke-width="0.6" opacity="0.7"/>
<ellipse cx="309" cy="112.4" rx="2.7" ry="1.57" fill="none" stroke="#cc2f33" stroke-width="0.9"/>
<ellipse cx="328.19" cy="95.98" rx="2.56" ry="1.75" fill="none" stroke="#cc2f33" stroke-width="1.0"/>
<ellipse cx="328.19" cy="95.98" rx="1.22" ry="0.7" fill="none" stroke="#cc2f33" stroke-width="0.6" opacity="0.7"/>
<ellipse cx="327.21" cy="96.02" rx="2.29" ry="1.57" fill="none" stroke="#4046b4" stroke-width="1.0" opacity="0.9"/>
<ellipse cx="327.21" cy="96.02" rx="1.08" ry="0.61" fill="none" stroke="#4046b4" stroke-width="0.6" opacity="0.7"/>
<ellipse cx="336.1" cy="94.5" rx="2.7" ry="1.57" fill="none" stroke="#cc2f33" stroke-width="0.9"/>
<ellipse cx="339.58" cy="97.92" rx="2.56" ry="1.75" fill="none" stroke="#cc2f33" stroke-width="1.0"/>
<ellipse cx="339.58" cy="97.92" rx="1.22" ry="0.7" fill="none" stroke="#cc2f33" stroke-width="0.6" opacity="0.7"/>
<ellipse cx="338.42" cy="98.08" rx="2.29" ry="1.57" fill="none" stroke="#4046b4" stroke-width="1.0" opacity="0.9"/>
<ellipse cx="338.42" cy="98.08" rx="1.08" ry="0.61" fill="none" stroke="#4046b4" stroke-width="0.6" opacity="0.7"/>
<ellipse cx="343" cy="98" rx="2.7" ry="1.57" fill="none" stroke="#cc2f33" stroke-width="0.9"/>
<ellipse cx="325.49" cy="103.1" rx="2.56" ry="1.75" fill="none" stroke="#cc2f33" stroke-width="1.0"/>
<ellipse cx="325.49" cy="103.1" rx="1.22" ry="0.7" fill="none" stroke="#cc2f33" stroke-width="0.6" opacity="0.7"/>
<ellipse cx="326.51" cy="102.9" rx="2.29" ry="1.57" fill="none" stroke="#4046b4" stroke-width="1.0" opacity="0.9"/>
<ellipse cx="326.51" cy="102.9" rx="1.08" ry="0.61" fill="none" stroke="#4046b4" stroke-width="0.6" opacity="0.7"/>
<ellipse cx="331.33" cy="104.32" rx="2.56" ry="1.75" fill="none" stroke="#cc2f33" stroke-width="1.0"/>
<ellipse cx="331.33" cy="104.32" rx="1.22" ry="0.7" fill="none" stroke="#cc2f33" stroke-width="0.6" opacity="0.7"/>
<ellipse cx="330.67" cy="104.68" rx="2.29" ry="1.57" fill="none" stroke="#4046b4" stroke-width="1.0" opacity="0.9"/>
<ellipse cx="330.67" cy="104.68" rx="1.08" ry="0.61" fill="none" stroke="#4046b4" stroke-width="0.6" opacity="0.7"/>
<ellipse cx="327.5" cy="107.87" rx="2.56" ry="1.75" fill="none" stroke="#cc2f33" stroke-width="1.0"/>
<ellipse cx="327.5" cy="107.87" rx="1.22" ry="0.7" fill="none" stroke="#cc2f33" stroke-width="0.6" opacity="0.7"/>
<ellipse cx="328.5" cy="108.13" rx="2.29" ry="1.57" fill="none" stroke="#4046b4" stroke-width="1.0" opacity="0.9"/>
<ellipse cx="328.5" cy="108.13" rx="1.08" ry="0.61" fill="none" stroke="#4046b4" stroke-width="0.6" opacity="0.7"/>
<ellipse cx="333.56" cy="110.21" rx="2.56" ry="1.75" fill="none" stroke="#cc2f33" stroke-width="1.0"/>
<ellipse cx="333.56" cy="110.21" rx="1.22" ry="0.7" fill="none" stroke="#cc2f33" stroke-width="0.6" opacity="0.7"/>
<ellipse cx="332.44" cy="109.79" rx="2.29" ry="1.57" fill="none" stroke="#4046b4" stroke-width="1.0" opacity="0.9"/>
<ellipse cx="332.44" cy="109.79" rx="1.08" ry="0.61" fill="none" stroke="#4046b4" stroke-width="0.6" opacity="0.7"/>
<ellipse cx="325.04" cy="111.8" rx="2.56" ry="1.75" fill="none" stroke="#cc2f33" stroke-width="1.0"/>
<ellipse cx="325.04" cy="111.8" rx="1.22" ry="0.7" fill="none" stroke="#cc2f33" stroke-width="0.6" opacity="0.7"/>
<ellipse cx="325.96" cy="112.2" rx="2.29" ry="1.57" fill="none" stroke="#4046b4" stroke-width="1.0" opacity="0.9"/>
<ellipse cx="325.96" cy="112.2" rx="1.08" ry="0.61" fill="none" stroke="#4046b4" stroke-width="0.6" opacity="0.7"/>
<ellipse cx="330" cy="115.5" rx="2.7" ry="1.57" fill="none" stroke="#cc2f33" stroke-width="0.9"/>
<ellipse cx="328.02" cy="114.15" rx="2.56" ry="1.75" fill="none" stroke="#cc2f33" stroke-width="1.0"/>
<ellipse cx="328.02" cy="114.15" rx="1.22" ry="0.7" fill="none" stroke="#cc2f33" stroke-width="0.6" opacity="0.7"/>
<ellipse cx="328.98" cy="114.85" rx="2.29" ry="1.57" fill="none" stroke="#4046b4" stroke-width="1.0" opacity="0.9"/>
<ellipse cx="328.98" cy="114.85" rx="1.08" ry="0.61" fill="none" stroke="#4046b4" stroke-width="0.6" opacity="0.7"/>
<ellipse cx="340.66" cy="106.24" rx="2.56" ry="1.75" fill="none" stroke="#cc2f33" stroke-width="1.0"/>
<ellipse cx="340.66" cy="106.24" rx="1.22" ry="0.7" fill="none" stroke="#cc2f33" stroke-width="0.6" opacity="0.7"/>
<ellipse cx="339.94" cy="106.76" rx="2.29" ry="1.57" fill="none" stroke="#4046b4" stroke-width="1.0" opacity="0.9"/>
<ellipse cx="339.94" cy="106.76" rx="1.08" ry="0.61" fill="none" stroke="#4046b4" stroke-width="0.6" opacity="0.7"/>
<ellipse cx="278.07" cy="112.06" rx="2.56" ry="1.75" fill="none" stroke="#cc2f33" stroke-width="1.0"/>
<ellipse cx="278.07" cy="112.06" rx="1.22" ry="0.7" fill="none" stroke="#cc2f33" stroke-width="0.6" opacity="0.7"/>
<ellipse cx="277.93" cy="112.14" rx="2.29" ry="1.57" fill="none" stroke="#4046b4" stroke-width="1.0" opacity="0.9"/>
<ellipse cx="277.93" cy="112.14" rx="1.08" ry="0.61" fill="none" stroke="#4046b4" stroke-width="0.6" opacity="0.7"/>
<ellipse cx="265.93" cy="116.29" rx="2.56" ry="1.75" fill="none" stroke="#cc2f33" stroke-width="1.0"/>
<ellipse cx="265.93" cy="116.29" rx="1.22" ry="0.7" fill="none" stroke="#cc2f33" stroke-width="0.6" opacity="0.7"/>
<ellipse cx="266.67" cy="115.91" rx="2.29" ry="1.57" fill="none" stroke="#4046b4" stroke-width="1.0" opacity="0.9"/>
<ellipse cx="266.67" cy="115.91" rx="1.08" ry="0.61" fill="none" stroke="#4046b4" stroke-width="0.6" opacity="0.7"/>
<ellipse cx="318.76" cy="135.81" rx="2.56" ry="1.75" fill="none" stroke="#cc2f33" stroke-width="1.0"/>
<ellipse cx="318.76" cy="135.81" rx="1.22" ry="0.7" fill="none" stroke="#cc2f33" stroke-width="0.6" opacity="0.7"/>
<ellipse cx="319.64" cy="135.59" rx="2.29" ry="1.57" fill="none" stroke="#4046b4" stroke-width="1.0" opacity="0.9"/>
<ellipse cx="319.64" cy="135.59" rx="1.08" ry="0.61" fill="none" stroke="#4046b4" stroke-width="0.6" opacity="0.7"/>
<ellipse cx="301.14" cy="142.44" rx="2.56" ry="1.75" fill="none" stroke="#cc2f33" stroke-width="1.0"/>
<ellipse cx="301.14" cy="142.44" rx="1.22" ry="0.7" fill="none" stroke="#cc2f33" stroke-width="0.6" opacity="0.7"/>
<ellipse cx="302.06" cy="142.56" rx="2.29" ry="1.57" fill="none" stroke="#4046b4" stroke-width="1.0" opacity="0.9"/>
<ellipse cx="302.06" cy="142.56" rx="1.08" ry="0.61" fill="none" stroke="#4046b4" stroke-width="0.6" opacity="0.7"/>
<ellipse cx="283.5" cy="101.5" rx="2.7" ry="1.57" fill="none" stroke="#7f86cc" stroke-width="0.9"/>
<ellipse cx="288.16" cy="104.32" rx="2.56" ry="1.75" fill="none" stroke="#cc2f33" stroke-width="1.0"/>
<ellipse cx="288.16" cy="104.32" rx="1.22" ry="0.7" fill="none" stroke="#cc2f33" stroke-width="0.6" opacity="0.7"/>
<ellipse cx="288.84" cy="104.68" rx="2.29" ry="1.57" fill="none" stroke="#4046b4" stroke-width="1.0" opacity="0.9"/>
<ellipse cx="288.84" cy="104.68" rx="1.08" ry="0.61" fill="none" stroke="#4046b4" stroke-width="0.6" opacity="0.7"/>
<ellipse cx="291.57" cy="107.24" rx="2.56" ry="1.75" fill="none" stroke="#cc2f33" stroke-width="1.0"/>
<ellipse cx="291.57" cy="107.24" rx="1.22" ry="0.7" fill="none" stroke="#cc2f33" stroke-width="0.6" opacity="0.7"/>
<ellipse cx="290.43" cy="106.76" rx="2.29" ry="1.57" fill="none" stroke="#4046b4" stroke-width="1.0" opacity="0.9"/>
<ellipse cx="290.43" cy="106.76" rx="1.08" ry="0.61" fill="none" stroke="#4046b4" stroke-width="0.6" opacity="0.7"/>
<ellipse cx="285" cy="106.5" rx="2.7" ry="1.57" fill="none" stroke="#7f86cc" stroke-width="0.9"/>
<ellipse cx="321" cy="103" rx="2.7" ry="1.57" fill="none" stroke="#7f86cc" stroke-width="0.9"/>
<ellipse cx="336" cy="105" rx="2.7" ry="1.57" fill="none" stroke="#7f86cc" stroke-width="0.9"/>
<ellipse cx="156.46" cy="164.81" rx="2.56" ry="1.75" fill="none" stroke="#cc2f33" stroke-width="1.0"/>
<ellipse cx="156.46" cy="164.81" rx="1.22" ry="0.7" fill="none" stroke="#cc2f33" stroke-width="0.6" opacity="0.7"/>
<ellipse cx="156.94" cy="164.19" rx="2.29" ry="1.57" fill="none" stroke="#4046b4" stroke-width="1.0" opacity="0.9"/>
<ellipse cx="156.94" cy="164.19" rx="1.08" ry="0.61" fill="none" stroke="#4046b4" stroke-width="0.6" opacity="0.7"/>
<ellipse cx="168.15" cy="166.02" rx="2.56" ry="1.75" fill="none" stroke="#cc2f33" stroke-width="1.0"/>
<ellipse cx="168.15" cy="166.02" rx="1.22" ry="0.7" fill="none" stroke="#cc2f33" stroke-width="0.6" opacity="0.7"/>
<ellipse cx="168.85" cy="166.18" rx="2.29" ry="1.57" fill="none" stroke="#4046b4" stroke-width="1.0" opacity="0.9"/>
<ellipse cx="168.85" cy="166.18" rx="1.08" ry="0.61" fill="none" stroke="#4046b4" stroke-width="0.6" opacity="0.7"/>
<ellipse cx="179.03" cy="164.21" rx="2.56" ry="1.75" fill="none" stroke="#cc2f33" stroke-width="1.0"/>
<ellipse cx="179.03" cy="164.21" rx="1.22" ry="0.7" fill="none" stroke="#cc2f33" stroke-width="0.6" opacity="0.7"/>
<ellipse cx="178.17" cy="163.99" rx="2.29" ry="1.57" fill="none" stroke="#4046b4" stroke-width="1.0" opacity="0.9"/>
<ellipse cx="178.17" cy="163.99" rx="1.08" ry="0.61" fill="none" stroke="#4046b4" stroke-width="0.6" opacity="0.7"/>
<ellipse cx="184.92" cy="167.59" rx="2.56" ry="1.75" fill="none" stroke="#cc2f33" stroke-width="1.0"/>
<ellipse cx="184.92" cy="167.59" rx="1.22" ry="0.7" fill="none" stroke="#cc2f33" stroke-width="0.6" opacity="0.7"/>
<ellipse cx="185.88" cy="166.81" rx="2.29" ry="1.57" fill="none" stroke="#4046b4" stroke-width="1.0" opacity="0.9"/>
<ellipse cx="185.88" cy="166.81" rx="1.08" ry="0.61" fill="none" stroke="#4046b4" stroke-width="0.6" opacity="0.7"/>
<ellipse cx="199.5" cy="166.6" rx="2.7" ry="1.57" fill="none" stroke="#cc2f33" stroke-width="0.9"/>
<ellipse cx="173" cy="172.2" rx="4.32" ry="1.75" fill="none" stroke="#cc2f33" stroke-width="0.9"/>
<ellipse cx="176.96" cy="177.21" rx="2.56" ry="1.75" fill="none" stroke="#cc2f33" stroke-width="1.0"/>
<ellipse cx="176.96" cy="177.21" rx="1.22" ry="0.7" fill="none" stroke="#cc2f33" stroke-width="0.6" opacity="0.7"/>
<ellipse cx="177.64" cy="177.59" rx="2.29" ry="1.57" fill="none" stroke="#4046b4" stroke-width="1.0" opacity="0.9"/>
<ellipse cx="177.64" cy="177.59" rx="1.08" ry="0.61" fill="none" stroke="#4046b4" stroke-width="0.6" opacity="0.7"/>
<ellipse cx="191.83" cy="172.86" rx="2.56" ry="1.75" fill="none" stroke="#cc2f33" stroke-width="1.0"/>
<ellipse cx="191.83" cy="172.86" rx="1.22" ry="0.7" fill="none" stroke="#cc2f33" stroke-width="0.6" opacity="0.7"/>
<ellipse cx="191.17" cy="173.14" rx="2.29" ry="1.57" fill="none" stroke="#4046b4" stroke-width="1.0" opacity="0.9"/>
<ellipse cx="191.17" cy="173.14" rx="1.08" ry="0.61" fill="none" stroke="#4046b4" stroke-width="0.6" opacity="0.7"/>
<ellipse cx="195.5" cy="173" rx="2.7" ry="1.57" fill="none" stroke="#cc2f33" stroke-width="0.9"/>
<ellipse cx="202.86" cy="170.56" rx="2.56" ry="1.75" fill="none" stroke="#cc2f33" stroke-width="1.0"/>
<ellipse cx="202.86" cy="170.56" rx="1.22" ry="0.7" fill="none" stroke="#cc2f33" stroke-width="0.6" opacity="0.7"/>
<ellipse cx="203.34" cy="171.24" rx="2.29" ry="1.57" fill="none" stroke="#4046b4" stroke-width="1.0" opacity="0.9"/>
<ellipse cx="203.34" cy="171.24" rx="1.08" ry="0.61" fill="none" stroke="#4046b4" stroke-width="0.6" opacity="0.7"/>
<ellipse cx="206.61" cy="158.07" rx="2.56" ry="1.75" fill="none" stroke="#cc2f33" stroke-width="1.0"/>
<ellipse cx="206.61" cy="158.07" rx="1.22" ry="0.7" fill="none" stroke="#cc2f33" stroke-width="0.6" opacity="0.7"/>
<ellipse cx="207.59" cy="157.93" rx="2.29" ry="1.57" fill="none" stroke="#4046b4" stroke-width="1.0" opacity="0.9"/>
<ellipse cx="207.59" cy="157.93" rx="1.08" ry="0.61" fill="none" stroke="#4046b4" stroke-width="0.6" opacity="0.7"/>
<ellipse cx="210.79" cy="136.38" rx="2.56" ry="1.75" fill="none" stroke="#cc2f33" stroke-width="1.0"/>
<ellipse cx="210.79" cy="136.38" rx="1.22" ry="0.7" fill="none" stroke="#cc2f33" stroke-width="0.6" opacity="0.7"/>
<ellipse cx="211.41" cy="136.22" rx="2.29" ry="1.57" fill="none" stroke="#4046b4" stroke-width="1.0" opacity="0.9"/>
<ellipse cx="211.41" cy="136.22" rx="1.08" ry="0.61" fill="none" stroke="#4046b4" stroke-width="0.6" opacity="0.7"/>
<ellipse cx="185.4" cy="184.9" rx="2.7" ry="1.57" fill="none" stroke="#7f86cc" stroke-width="0.9"/>
<ellipse cx="159.45" cy="186.16" rx="2.56" ry="1.75" fill="none" stroke="#cc2f33" stroke-width="1.0"/>
<ellipse cx="159.45" cy="186.16" rx="1.22" ry="0.7" fill="none" stroke="#cc2f33" stroke-width="0.6" opacity="0.7"/>
<ellipse cx="159.75" cy="186.24" rx="2.29" ry="1.57" fill="none" stroke="#4046b4" stroke-width="1.0" opacity="0.9"/>
<ellipse cx="159.75" cy="186.24" rx="1.08" ry="0.61" fill="none" stroke="#4046b4" stroke-width="0.6" opacity="0.7"/>
<ellipse cx="166" cy="188.3" rx="2.7" ry="1.57" fill="none" stroke="#cc2f33" stroke-width="0.9"/>
<ellipse cx="171.7" cy="186.2" rx="2.7" ry="1.57" fill="none" stroke="#7f86cc" stroke-width="0.9"/>
<ellipse cx="162.8" cy="191.8" rx="2.7" ry="1.57" fill="none" stroke="#7f86cc" stroke-width="0.9"/>
<ellipse cx="173.3" cy="191.5" rx="2.7" ry="1.57" fill="none" stroke="#cc2f33" stroke-width="0.9"/>
<ellipse cx="177.85" cy="190.69" rx="2.56" ry="1.75" fill="none" stroke="#cc2f33" stroke-width="1.0"/>
<ellipse cx="177.85" cy="190.69" rx="1.22" ry="0.7" fill="none" stroke="#cc2f33" stroke-width="0.6" opacity="0.7"/>
<ellipse cx="176.75" cy="190.71" rx="2.29" ry="1.57" fill="none" stroke="#4046b4" stroke-width="1.0" opacity="0.9"/>
<ellipse cx="176.75" cy="190.71" rx="1.08" ry="0.61" fill="none" stroke="#4046b4" stroke-width="0.6" opacity="0.7"/>
<ellipse cx="178.99" cy="195.39" rx="2.56" ry="1.75" fill="none" stroke="#cc2f33" stroke-width="1.0"/>
<ellipse cx="178.99" cy="195.39" rx="1.22" ry="0.7" fill="none" stroke="#cc2f33" stroke-width="0.6" opacity="0.7"/>
<ellipse cx="178.81" cy="194.81" rx="2.29" ry="1.57" fill="none" stroke="#4046b4" stroke-width="1.0" opacity="0.9"/>
<ellipse cx="178.81" cy="194.81" rx="1.08" ry="0.61" fill="none" stroke="#4046b4" stroke-width="0.6" opacity="0.7"/>
<ellipse cx="186.62" cy="197.22" rx="2.56" ry="1.75" fill="none" stroke="#cc2f33" stroke-width="1.0"/>
<ellipse cx="186.62" cy="197.22" rx="1.22" ry="0.7" fill="none" stroke="#cc2f33" stroke-width="0.6" opacity="0.7"/>
<ellipse cx="187.38" cy="197.78" rx="2.29" ry="1.57" fill="none" stroke="#4046b4" stroke-width="1.0" opacity="0.9"/>
<ellipse cx="187.38" cy="197.78" rx="1.08" ry="0.61" fill="none" stroke="#4046b4" stroke-width="0.6" opacity="0.7"/>
<ellipse cx="198.79" cy="194.55" rx="2.56" ry="1.75" fill="none" stroke="#cc2f33" stroke-width="1.0"/>
<ellipse cx="198.79" cy="194.55" rx="1.22" ry="0.7" fill="none" stroke="#cc2f33" stroke-width="0.6" opacity="0.7"/>
<ellipse cx="197.81" cy="194.05" rx="2.29" ry="1.57" fill="none" stroke="#4046b4" stroke-width="1.0" opacity="0.9"/>
<ellipse cx="197.81" cy="194.05" rx="1.08" ry="0.61" fill="none" stroke="#4046b4" stroke-width="0.6" opacity="0.7"/>
<ellipse cx="203.1" cy="200.7" rx="2.7" ry="1.57" fill="none" stroke="#cc2f33" stroke-width="0.9"/>
<ellipse cx="194.7" cy="200.4" rx="2.7" ry="1.57" fill="none" stroke="#cc2f33" stroke-width="0.9"/>
<ellipse cx="211.7" cy="194.35" rx="2.56" ry="1.75" fill="none" stroke="#cc2f33" stroke-width="1.0"/>
<ellipse cx="211.7" cy="194.35" rx="1.22" ry="0.7" fill="none" stroke="#cc2f33" stroke-width="0.6" opacity="0.7"/>
<ellipse cx="212.3" cy="194.85" rx="2.29" ry="1.57" fill="none" stroke="#4046b4" stroke-width="1.0" opacity="0.9"/>
<ellipse cx="212.3" cy="194.85" rx="1.08" ry="0.61" fill="none" stroke="#4046b4" stroke-width="0.6" opacity="0.7"/>
<ellipse cx="218.69" cy="190.55" rx="2.56" ry="1.75" fill="none" stroke="#cc2f33" stroke-width="1.0"/>
<ellipse cx="218.69" cy="190.55" rx="1.22" ry="0.7" fill="none" stroke="#cc2f33" stroke-width="0.6" opacity="0.7"/>
<ellipse cx="218.11" cy="189.85" rx="2.29" ry="1.57" fill="none" stroke="#4046b4" stroke-width="1.0" opacity="0.9"/>
<ellipse cx="218.11" cy="189.85" rx="1.08" ry="0.61" fill="none" stroke="#4046b4" stroke-width="0.6" opacity="0.7"/>
<ellipse cx="143.94" cy="200.26" rx="2.56" ry="1.75" fill="none" stroke="#cc2f33" stroke-width="1.0"/>
<ellipse cx="143.94" cy="200.26" rx="1.22" ry="0.7" fill="none" stroke="#cc2f33" stroke-width="0.6" opacity="0.7"/>
<ellipse cx="144.66" cy="199.54" rx="2.29" ry="1.57" fill="none" stroke="#4046b4" stroke-width="1.0" opacity="0.9"/>
<ellipse cx="144.66" cy="199.54" rx="1.08" ry="0.61" fill="none" stroke="#4046b4" stroke-width="0.6" opacity="0.7"/>
<ellipse cx="160.86" cy="202.08" rx="2.56" ry="1.75" fill="none" stroke="#cc2f33" stroke-width="1.0"/>
<ellipse cx="160.86" cy="202.08" rx="1.22" ry="0.7" fill="none" stroke="#cc2f33" stroke-width="0.6" opacity="0.7"/>
<ellipse cx="159.94" cy="201.92" rx="2.29" ry="1.57" fill="none" stroke="#4046b4" stroke-width="1.0" opacity="0.9"/>
<ellipse cx="159.94" cy="201.92" rx="1.08" ry="0.61" fill="none" stroke="#4046b4" stroke-width="0.6" opacity="0.7"/>
<ellipse cx="143.2" cy="207.5" rx="2.7" ry="1.57" fill="none" stroke="#cc2f33" stroke-width="0.9"/>
<ellipse cx="158" cy="205.5" rx="2.7" ry="1.57" fill="none" stroke="#7f86cc" stroke-width="0.9"/>
<ellipse cx="165.2" cy="208.4" rx="2.7" ry="1.57" fill="none" stroke="#cc2f33" stroke-width="0.9"/>
<ellipse cx="181.21" cy="204.38" rx="2.56" ry="1.75" fill="none" stroke="#cc2f33" stroke-width="1.0"/>
<ellipse cx="181.21" cy="204.38" rx="1.22" ry="0.7" fill="none" stroke="#cc2f33" stroke-width="0.6" opacity="0.7"/>
<ellipse cx="181.39" cy="205.02" rx="2.29" ry="1.57" fill="none" stroke="#4046b4" stroke-width="1.0" opacity="0.9"/>
<ellipse cx="181.39" cy="205.02" rx="1.08" ry="0.61" fill="none" stroke="#4046b4" stroke-width="0.6" opacity="0.7"/>
<ellipse cx="164.65" cy="217.17" rx="2.56" ry="1.75" fill="none" stroke="#cc2f33" stroke-width="1.0"/>
<ellipse cx="164.65" cy="217.17" rx="1.22" ry="0.7" fill="none" stroke="#cc2f33" stroke-width="0.6" opacity="0.7"/>
<ellipse cx="165.75" cy="216.43" rx="2.29" ry="1.57" fill="none" stroke="#4046b4" stroke-width="1.0" opacity="0.9"/>
<ellipse cx="165.75" cy="216.43" rx="1.08" ry="0.61" fill="none" stroke="#4046b4" stroke-width="0.6" opacity="0.7"/>
<ellipse cx="202.3" cy="215.2" rx="2.7" ry="1.57" fill="none" stroke="#cc2f33" stroke-width="0.9"/>
<ellipse cx="191.49" cy="219.36" rx="2.56" ry="1.75" fill="none" stroke="#cc2f33" stroke-width="1.0"/>
<ellipse cx="191.49" cy="219.36" rx="1.22" ry="0.7" fill="none" stroke="#cc2f33" stroke-width="0.6" opacity="0.7"/>
<ellipse cx="192.11" cy="219.04" rx="2.29" ry="1.57" fill="none" stroke="#4046b4" stroke-width="1.0" opacity="0.9"/>
<ellipse cx="192.11" cy="219.04" rx="1.08" ry="0.61" fill="none" stroke="#4046b4" stroke-width="0.6" opacity="0.7"/>
<ellipse cx="207.61" cy="219.46" rx="2.56" ry="1.75" fill="none" stroke="#cc2f33" stroke-width="1.0"/>
<ellipse cx="207.61" cy="219.46" rx="1.22" ry="0.7" fill="none" stroke="#cc2f33" stroke-width="0.6" opacity="0.7"/>
<ellipse cx="208.19" cy="218.94" rx="2.29" ry="1.57" fill="none" stroke="#4046b4" stroke-width="1.0" opacity="0.9"/>
<ellipse cx="208.19" cy="218.94" rx="1.08" ry="0.61" fill="none" stroke="#4046b4" stroke-width="0.6" opacity="0.7"/>
<ellipse cx="187" cy="220" rx="2.7" ry="1.57" fill="none" stroke="#7f86cc" stroke-width="0.9"/>
<ellipse cx="301.52" cy="143.13" rx="2.56" ry="1.75" fill="none" stroke="#cc2f33" stroke-width="1.0"/>
<ellipse cx="301.52" cy="143.13" rx="1.22" ry="0.7" fill="none" stroke="#cc2f33" stroke-width="0.6" opacity="0.7"/>
<ellipse cx="301.28" cy="143.47" rx="2.29" ry="1.57" fill="none" stroke="#4046b4" stroke-width="1.0" opacity="0.9"/>
<ellipse cx="301.28" cy="143.47" rx="1.08" ry="0.61" fill="none" stroke="#4046b4" stroke-width="0.6" opacity="0.7"/>
<ellipse cx="306.8" cy="143.3" rx="2.7" ry="1.57" fill="none" stroke="#7f86cc" stroke-width="0.9"/>
<ellipse cx="310.1" cy="148.3" rx="2.7" ry="1.57" fill="none" stroke="#7f86cc" stroke-width="0.9"/>
<ellipse cx="289.7" cy="155" rx="4.05" ry="1.4" fill="none" stroke="#7f86cc" stroke-width="0.8"/>
<ellipse cx="303" cy="156.5" rx="2.7" ry="1.57" fill="none" stroke="#7f86cc" stroke-width="0.9"/>
<ellipse cx="334" cy="159.2" rx="4.05" ry="1.4" fill="none" stroke="#7f86cc" stroke-width="0.8"/>
<ellipse cx="328" cy="163.6" rx="2.7" ry="1.57" fill="none" stroke="#7f86cc" stroke-width="0.9"/>
<ellipse cx="317.01" cy="164.48" rx="2.56" ry="1.75" fill="none" stroke="#cc2f33" stroke-width="1.0"/>
<ellipse cx="317.01" cy="164.48" rx="1.22" ry="0.7" fill="none" stroke="#cc2f33" stroke-width="0.6" opacity="0.7"/>
<ellipse cx="317.79" cy="164.12" rx="2.29" ry="1.57" fill="none" stroke="#4046b4" stroke-width="1.0" opacity="0.9"/>
<ellipse cx="317.79" cy="164.12" rx="1.08" ry="0.61" fill="none" stroke="#4046b4" stroke-width="0.6" opacity="0.7"/>
<ellipse cx="331.1" cy="168.1" rx="2.7" ry="1.57" fill="none" stroke="#cc2f33" stroke-width="0.9"/>
<ellipse cx="300.88" cy="174.68" rx="2.56" ry="1.75" fill="none" stroke="#cc2f33" stroke-width="1.0"/>
<ellipse cx="300.88" cy="174.68" rx="1.22" ry="0.7" fill="none" stroke="#cc2f33" stroke-width="0.6" opacity="0.7"/>
<ellipse cx="301.92" cy="175.12" rx="2.29" ry="1.57" fill="none" stroke="#4046b4" stroke-width="1.0" opacity="0.9"/>
<ellipse cx="301.92" cy="175.12" rx="1.08" ry="0.61" fill="none" stroke="#4046b4" stroke-width="0.6" opacity="0.7"/>
<ellipse cx="314.57" cy="180.08" rx="2.56" ry="1.75" fill="none" stroke="#cc2f33" stroke-width="1.0"/>
<ellipse cx="314.57" cy="180.08" rx="1.22" ry="0.7" fill="none" stroke="#cc2f33" stroke-width="0.6" opacity="0.7"/>
<ellipse cx="314.43" cy="179.52" rx="2.29" ry="1.57" fill="none" stroke="#4046b4" stroke-width="1.0" opacity="0.9"/>
<ellipse cx="314.43" cy="179.52" rx="1.08" ry="0.61" fill="none" stroke="#4046b4" stroke-width="0.6" opacity="0.7"/>
<ellipse cx="279.44" cy="191.32" rx="2.56" ry="1.75" fill="none" stroke="#cc2f33" stroke-width="1.0"/>
<ellipse cx="279.44" cy="191.32" rx="1.22" ry="0.7" fill="none" stroke="#cc2f33" stroke-width="0.6" opacity="0.7"/>
<ellipse cx="279.16" cy="191.68" rx="2.29" ry="1.57" fill="none" stroke="#4046b4" stroke-width="1.0" opacity="0.9"/>
<ellipse cx="279.16" cy="191.68" rx="1.08" ry="0.61" fill="none" stroke="#4046b4" stroke-width="0.6" opacity="0.7"/>
<ellipse cx="290.9" cy="192.86" rx="2.56" ry="1.75" fill="none" stroke="#cc2f33" stroke-width="1.0"/>
<ellipse cx="290.9" cy="192.86" rx="1.22" ry="0.7" fill="none" stroke="#cc2f33" stroke-width="0.6" opacity="0.7"/>
<ellipse cx="289.9" cy="193.34" rx="2.29" ry="1.57" fill="none" stroke="#4046b4" stroke-width="1.0" opacity="0.9"/>
<ellipse cx="289.9" cy="193.34" rx="1.08" ry="0.61" fill="none" stroke="#4046b4" stroke-width="0.6" opacity="0.7"/>
<ellipse cx="263.22" cy="189.12" rx="2.56" ry="1.75" fill="none" stroke="#cc2f33" stroke-width="1.0"/>
<ellipse cx="263.22" cy="189.12" rx="1.22" ry="0.7" fill="none" stroke="#cc2f33" stroke-width="0.6" opacity="0.7"/>
<ellipse cx="264.38" cy="189.48" rx="2.29" ry="1.57" fill="none" stroke="#4046b4" stroke-width="1.0" opacity="0.9"/>
<ellipse cx="264.38" cy="189.48" rx="1.08" ry="0.61" fill="none" stroke="#4046b4" stroke-width="0.6" opacity="0.7"/>
<ellipse cx="259.33" cy="194.95" rx="2.56" ry="1.75" fill="none" stroke="#cc2f33" stroke-width="1.0"/>
<ellipse cx="259.33" cy="194.95" rx="1.22" ry="0.7" fill="none" stroke="#cc2f33" stroke-width="0.6" opacity="0.7"/>
<ellipse cx="259.47" cy="195.65" rx="2.29" ry="1.57" fill="none" stroke="#4046b4" stroke-width="1.0" opacity="0.9"/>
<ellipse cx="259.47" cy="195.65" rx="1.08" ry="0.61" fill="none" stroke="#4046b4" stroke-width="0.6" opacity="0.7"/>
<ellipse cx="276.4" cy="200.4" rx="2.7" ry="1.57" fill="none" stroke="#7f86cc" stroke-width="0.9"/>
<ellipse cx="275.7" cy="203.7" rx="2.7" ry="1.57" fill="none" stroke="#cc2f33" stroke-width="0.9"/>
<ellipse cx="275.31" cy="207.4" rx="2.56" ry="1.75" fill="none" stroke="#cc2f33" stroke-width="1.0"/>
<ellipse cx="275.31" cy="207.4" rx="1.22" ry="0.7" fill="none" stroke="#cc2f33" stroke-width="0.6" opacity="0.7"/>
<ellipse cx="276.09" cy="207.6" rx="2.29" ry="1.57" fill="none" stroke="#4046b4" stroke-width="1.0" opacity="0.9"/>
<ellipse cx="276.09" cy="207.6" rx="1.08" ry="0.61" fill="none" stroke="#4046b4" stroke-width="0.6" opacity="0.7"/>
<ellipse cx="218.89" cy="190.11" rx="2.56" ry="1.75" fill="none" stroke="#cc2f33" stroke-width="1.0"/>
<ellipse cx="218.89" cy="190.11" rx="1.22" ry="0.7" fill="none" stroke="#cc2f33" stroke-width="0.6" opacity="0.7"/>
<ellipse cx="218.71" cy="190.69" rx="2.29" ry="1.57" fill="none" stroke="#4046b4" stroke-width="1.0" opacity="0.9"/>
<ellipse cx="218.71" cy="190.69" rx="1.08" ry="0.61" fill="none" stroke="#4046b4" stroke-width="0.6" opacity="0.7"/>
<ellipse cx="239.4" cy="192" rx="2.7" ry="1.57" fill="none" stroke="#cc2f33" stroke-width="0.9"/>
<ellipse cx="235.4" cy="188.7" rx="2.7" ry="1.57" fill="none" stroke="#7f86cc" stroke-width="0.9"/>
<ellipse cx="225.33" cy="205.11" rx="2.56" ry="1.75" fill="none" stroke="#cc2f33" stroke-width="1.0"/>
<ellipse cx="225.33" cy="205.11" rx="1.22" ry="0.7" fill="none" stroke="#cc2f33" stroke-width="0.6" opacity="0.7"/>
<ellipse cx="225.67" cy="204.49" rx="2.29" ry="1.57" fill="none" stroke="#4046b4" stroke-width="1.0" opacity="0.9"/>
<ellipse cx="225.67" cy="204.49" rx="1.08" ry="0.61" fill="none" stroke="#4046b4" stroke-width="0.6" opacity="0.7"/>
<ellipse cx="224.4" cy="210.8" rx="2.7" ry="1.57" fill="none" stroke="#cc2f33" stroke-width="0.9"/>
<ellipse cx="227.7" cy="209.7" rx="2.7" ry="1.57" fill="none" stroke="#7f86cc" stroke-width="0.9"/>
<ellipse cx="208.38" cy="220.23" rx="2.56" ry="1.75" fill="none" stroke="#cc2f33" stroke-width="1.0"/>
<ellipse cx="208.38" cy="220.23" rx="1.22" ry="0.7" fill="none" stroke="#cc2f33" stroke-width="0.6" opacity="0.7"/>
<ellipse cx="207.22" cy="219.97" rx="2.29" ry="1.57" fill="none" stroke="#4046b4" stroke-width="1.0" opacity="0.9"/>
<ellipse cx="207.22" cy="219.97" rx="1.08" ry="0.61" fill="none" stroke="#4046b4" stroke-width="0.6" opacity="0.7"/>
<ellipse cx="215.5" cy="225.2" rx="2.7" ry="1.57" fill="none" stroke="#cc2f33" stroke-width="0.9"/>
<ellipse cx="226.83" cy="228.57" rx="2.56" ry="1.75" fill="none" stroke="#cc2f33" stroke-width="1.0"/>
<ellipse cx="226.83" cy="228.57" rx="1.22" ry="0.7" fill="none" stroke="#cc2f33" stroke-width="0.6" opacity="0.7"/>
<ellipse cx="226.37" cy="228.43" rx="2.29" ry="1.57" fill="none" stroke="#4046b4" stroke-width="1.0" opacity="0.9"/>
<ellipse cx="226.37" cy="228.43" rx="1.08" ry="0.61" fill="none" stroke="#4046b4" stroke-width="0.6" opacity="0.7"/>
<ellipse cx="255.8" cy="219" rx="2.7" ry="1.57" fill="none" stroke="#7f86cc" stroke-width="0.9"/>
<ellipse cx="259.8" cy="222.5" rx="2.7" ry="1.57" fill="none" stroke="#cc2f33" stroke-width="0.9"/>
<ellipse cx="223.3" cy="235.2" rx="2.7" ry="1.57" fill="none" stroke="#7f86cc" stroke-width="0.9"/>
<ellipse cx="221" cy="245.1" rx="2.7" ry="1.57" fill="none" stroke="#cc2f33" stroke-width="0.9"/>
<ellipse cx="203.3" cy="200.8" rx="2.7" ry="1.57" fill="none" stroke="#cc2f33" stroke-width="0.9"/>
<ellipse cx="157.27" cy="186.63" rx="2.56" ry="1.75" fill="none" stroke="#cc2f33" stroke-width="1.0"/>
<ellipse cx="157.27" cy="186.63" rx="1.22" ry="0.7" fill="none" stroke="#cc2f33" stroke-width="0.6" opacity="0.7"/>
<ellipse cx="158.13" cy="187.37" rx="2.29" ry="1.57" fill="none" stroke="#4046b4" stroke-width="1.0" opacity="0.9"/>
<ellipse cx="158.13" cy="187.37" rx="1.08" ry="0.61" fill="none" stroke="#4046b4" stroke-width="0.6" opacity="0.7"/>
<ellipse cx="69.12" cy="199.73" rx="2.56" ry="1.75" fill="none" stroke="#cc2f33" stroke-width="1.0"/>
<ellipse cx="69.12" cy="199.73" rx="1.22" ry="0.7" fill="none" stroke="#cc2f33" stroke-width="0.6" opacity="0.7"/>
<ellipse cx="70.28" cy="199.07" rx="2.29" ry="1.57" fill="none" stroke="#4046b4" stroke-width="1.0" opacity="0.9"/>
<ellipse cx="70.28" cy="199.07" rx="1.08" ry="0.61" fill="none" stroke="#4046b4" stroke-width="0.6" opacity="0.7"/>
<ellipse cx="183.8" cy="223.1" rx="2.7" ry="1.57" fill="none" stroke="#cc2f33" stroke-width="0.9"/>
<ellipse cx="195.9" cy="223.6" rx="2.7" ry="1.57" fill="none" stroke="#cc2f33" stroke-width="0.9"/>
<ellipse cx="170.44" cy="247.57" rx="2.56" ry="1.75" fill="none" stroke="#cc2f33" stroke-width="1.0"/>
<ellipse cx="170.44" cy="247.57" rx="1.22" ry="0.7" fill="none" stroke="#cc2f33" stroke-width="0.6" opacity="0.7"/>
<ellipse cx="169.96" cy="246.83" rx="2.29" ry="1.57" fill="none" stroke="#4046b4" stroke-width="1.0" opacity="0.9"/>
<ellipse cx="169.96" cy="246.83" rx="1.08" ry="0.61" fill="none" stroke="#4046b4" stroke-width="0.6" opacity="0.7"/>
<ellipse cx="142.9" cy="201.1" rx="2.7" ry="1.57" fill="none" stroke="#7f86cc" stroke-width="0.9"/>
<ellipse cx="143.73" cy="200.31" rx="2.56" ry="1.75" fill="none" stroke="#cc2f33" stroke-width="1.0"/>
<ellipse cx="143.73" cy="200.31" rx="1.22" ry="0.7" fill="none" stroke="#cc2f33" stroke-width="0.6" opacity="0.7"/>
<ellipse cx="144.87" cy="200.09" rx="2.29" ry="1.57" fill="none" stroke="#4046b4" stroke-width="1.0" opacity="0.9"/>
<ellipse cx="144.87" cy="200.09" rx="1.08" ry="0.61" fill="none" stroke="#4046b4" stroke-width="0.6" opacity="0.7"/>
<ellipse cx="143.3" cy="207.2" rx="2.7" ry="1.57" fill="none" stroke="#cc2f33" stroke-width="0.9"/>
<ellipse cx="146.68" cy="229.88" rx="2.56" ry="1.75" fill="none" stroke="#cc2f33" stroke-width="1.0"/>
<ellipse cx="146.68" cy="229.88" rx="1.22" ry="0.7" fill="none" stroke="#cc2f33" stroke-width="0.6" opacity="0.7"/>
<ellipse cx="146.72" cy="229.52" rx="2.29" ry="1.57" fill="none" stroke="#4046b4" stroke-width="1.0" opacity="0.9"/>
<ellipse cx="146.72" cy="229.52" rx="1.08" ry="0.61" fill="none" stroke="#4046b4" stroke-width="0.6" opacity="0.7"/>
<ellipse cx="211.18" cy="136.5" rx="2.56" ry="1.75" fill="none" stroke="#cc2f33" stroke-width="1.0"/>
<ellipse cx="211.18" cy="136.5" rx="1.22" ry="0.7" fill="none" stroke="#cc2f33" stroke-width="0.6" opacity="0.7"/>
<ellipse cx="211.62" cy="135.7" rx="2.29" ry="1.57" fill="none" stroke="#4046b4" stroke-width="1.0" opacity="0.9"/>
<ellipse cx="211.62" cy="135.7" rx="1.08" ry="0.61" fill="none" stroke="#4046b4" stroke-width="0.6" opacity="0.7"/>
<ellipse cx="217.29" cy="139.74" rx="2.56" ry="1.75" fill="none" stroke="#cc2f33" stroke-width="1.0"/>
<ellipse cx="217.29" cy="139.74" rx="1.22" ry="0.7" fill="none" stroke="#cc2f33" stroke-width="0.6" opacity="0.7"/>
<ellipse cx="218.31" cy="139.66" rx="2.29" ry="1.57" fill="none" stroke="#4046b4" stroke-width="1.0" opacity="0.9"/>
<ellipse cx="218.31" cy="139.66" rx="1.08" ry="0.61" fill="none" stroke="#4046b4" stroke-width="0.6" opacity="0.7"/>
<ellipse cx="221.98" cy="146.72" rx="2.56" ry="1.75" fill="none" stroke="#cc2f33" stroke-width="1.0"/>
<ellipse cx="221.98" cy="146.72" rx="1.22" ry="0.7" fill="none" stroke="#cc2f33" stroke-width="0.6" opacity="0.7"/>
<ellipse cx="221.42" cy="146.08" rx="2.29" ry="1.57" fill="none" stroke="#4046b4" stroke-width="1.0" opacity="0.9"/>
<ellipse cx="221.42" cy="146.08" rx="1.08" ry="0.61" fill="none" stroke="#4046b4" stroke-width="0.6" opacity="0.7"/>
<ellipse cx="218.38" cy="150.46" rx="2.56" ry="1.75" fill="none" stroke="#cc2f33" stroke-width="1.0"/>
<ellipse cx="218.38" cy="150.46" rx="1.22" ry="0.7" fill="none" stroke="#cc2f33" stroke-width="0.6" opacity="0.7"/>
<ellipse cx="217.82" cy="150.14" rx="2.29" ry="1.57" fill="none" stroke="#4046b4" stroke-width="1.0" opacity="0.9"/>
<ellipse cx="217.82" cy="150.14" rx="1.08" ry="0.61" fill="none" stroke="#4046b4" stroke-width="0.6" opacity="0.7"/>
<ellipse cx="216.9" cy="153.3" rx="2.7" ry="1.57" fill="none" stroke="#cc2f33" stroke-width="0.9"/>
<ellipse cx="213.9" cy="155.1" rx="2.7" ry="1.57" fill="none" stroke="#cc2f33" stroke-width="0.9"/>
<ellipse cx="207.55" cy="159.03" rx="2.56" ry="1.75" fill="none" stroke="#cc2f33" stroke-width="1.0"/>
<ellipse cx="207.55" cy="159.03" rx="1.22" ry="0.7" fill="none" stroke="#cc2f33" stroke-width="0.6" opacity="0.7"/>
<ellipse cx="206.85" cy="158.37" rx="2.29" ry="1.57" fill="none" stroke="#4046b4" stroke-width="1.0" opacity="0.9"/>
<ellipse cx="206.85" cy="158.37" rx="1.08" ry="0.61" fill="none" stroke="#4046b4" stroke-width="0.6" opacity="0.7"/>
<ellipse cx="215.7" cy="158.7" rx="2.7" ry="1.57" fill="none" stroke="#7f86cc" stroke-width="0.9"/>
<ellipse cx="215.52" cy="164.35" rx="2.56" ry="1.75" fill="none" stroke="#cc2f33" stroke-width="1.0"/>
<ellipse cx="215.52" cy="164.35" rx="1.22" ry="0.7" fill="none" stroke="#cc2f33" stroke-width="0.6" opacity="0.7"/>
<ellipse cx="215.88" cy="164.05" rx="2.29" ry="1.57" fill="none" stroke="#4046b4" stroke-width="1.0" opacity="0.9"/>
<ellipse cx="215.88" cy="164.05" rx="1.08" ry="0.61" fill="none" stroke="#4046b4" stroke-width="0.6" opacity="0.7"/>
<ellipse cx="220.98" cy="164.5" rx="2.56" ry="1.75" fill="none" stroke="#cc2f33" stroke-width="1.0"/>
<ellipse cx="220.98" cy="164.5" rx="1.22" ry="0.7" fill="none" stroke="#cc2f33" stroke-width="0.6" opacity="0.7"/>
<ellipse cx="220.02" cy="163.9" rx="2.29" ry="1.57" fill="none" stroke="#4046b4" stroke-width="1.0" opacity="0.9"/>
<ellipse cx="220.02" cy="163.9" rx="1.08" ry="0.61" fill="none" stroke="#4046b4" stroke-width="0.6" opacity="0.7"/>
<ellipse cx="225.2" cy="163.83" rx="2.56" ry="1.75" fill="none" stroke="#cc2f33" stroke-width="1.0"/>
<ellipse cx="225.2" cy="163.83" rx="1.22" ry="0.7" fill="none" stroke="#cc2f33" stroke-width="0.6" opacity="0.7"/>
<ellipse cx="225.4" cy="163.37" rx="2.29" ry="1.57" fill="none" stroke="#4046b4" stroke-width="1.0" opacity="0.9"/>
<ellipse cx="225.4" cy="163.37" rx="1.08" ry="0.61" fill="none" stroke="#4046b4" stroke-width="0.6" opacity="0.7"/>
<ellipse cx="229.94" cy="159.36" rx="2.56" ry="1.75" fill="none" stroke="#cc2f33" stroke-width="1.0"/>
<ellipse cx="229.94" cy="159.36" rx="1.22" ry="0.7" fill="none" stroke="#cc2f33" stroke-width="0.6" opacity="0.7"/>
<ellipse cx="229.06" cy="159.24" rx="2.29" ry="1.57" fill="none" stroke="#4046b4" stroke-width="1.0" opacity="0.9"/>
<ellipse cx="229.06" cy="159.24" rx="1.08" ry="0.61" fill="none" stroke="#4046b4" stroke-width="0.6" opacity="0.7"/>
<ellipse cx="234.9" cy="159.9" rx="2.7" ry="1.57" fill="none" stroke="#cc2f33" stroke-width="0.9"/>
<ellipse cx="230.25" cy="163.51" rx="2.56" ry="1.75" fill="none" stroke="#cc2f33" stroke-width="1.0"/>
<ellipse cx="230.25" cy="163.51" rx="1.22" ry="0.7" fill="none" stroke="#cc2f33" stroke-width="0.6" opacity="0.7"/>
<ellipse cx="229.95" cy="163.69" rx="2.29" ry="1.57" fill="none" stroke="#4046b4" stroke-width="1.0" opacity="0.9"/>
<ellipse cx="229.95" cy="163.69" rx="1.08" ry="0.61" fill="none" stroke="#4046b4" stroke-width="0.6" opacity="0.7"/>
<ellipse cx="238.6" cy="163.6" rx="2.7" ry="1.57" fill="none" stroke="#7f86cc" stroke-width="0.9"/>
<ellipse cx="221.7" cy="170.2" rx="2.7" ry="1.57" fill="none" stroke="#cc2f33" stroke-width="0.9"/>
<ellipse cx="217.5" cy="173.8" rx="2.7" ry="1.57" fill="none" stroke="#cc2f33" stroke-width="0.9"/>
<ellipse cx="207.3" cy="176.89" rx="2.56" ry="1.75" fill="none" stroke="#cc2f33" stroke-width="1.0"/>
<ellipse cx="207.3" cy="176.89" rx="1.22" ry="0.7" fill="none" stroke="#cc2f33" stroke-width="0.6" opacity="0.7"/>
<ellipse cx="207.1" cy="176.71" rx="2.29" ry="1.57" fill="none" stroke="#4046b4" stroke-width="1.0" opacity="0.9"/>
<ellipse cx="207.1" cy="176.71" rx="1.08" ry="0.61" fill="none" stroke="#4046b4" stroke-width="0.6" opacity="0.7"/>
<ellipse cx="213.3" cy="175.6" rx="2.7" ry="1.57" fill="none" stroke="#7f86cc" stroke-width="0.9"/>
<ellipse cx="231.4" cy="168.51" rx="2.56" ry="1.75" fill="none" stroke="#cc2f33" stroke-width="1.0"/>
<ellipse cx="231.4" cy="168.51" rx="1.22" ry="0.7" fill="none" stroke="#cc2f33" stroke-width="0.6" opacity="0.7"/>
<ellipse cx="232.4" cy="168.29" rx="2.29" ry="1.57" fill="none" stroke="#4046b4" stroke-width="1.0" opacity="0.9"/>
<ellipse cx="232.4" cy="168.29" rx="1.08" ry="0.61" fill="none" stroke="#4046b4" stroke-width="0.6" opacity="0.7"/>
<ellipse cx="238.6" cy="170.5" rx="2.7" ry="1.57" fill="none" stroke="#cc2f33" stroke-width="0.9"/>
<ellipse cx="233.69" cy="172.9" rx="2.56" ry="1.75" fill="none" stroke="#cc2f33" stroke-width="1.0"/>
<ellipse cx="233.69" cy="172.9" rx="1.22" ry="0.7" fill="none" stroke="#cc2f33" stroke-width="0.6" opacity="0.7"/>
<ellipse cx="232.51" cy="172.3" rx="2.29" ry="1.57" fill="none" stroke="#4046b4" stroke-width="1.0" opacity="0.9"/>
<ellipse cx="232.51" cy="172.3" rx="1.08" ry="0.61" fill="none" stroke="#4046b4" stroke-width="0.6" opacity="0.7"/>
<ellipse cx="241.6" cy="178" rx="2.7" ry="1.57" fill="none" stroke="#7f86cc" stroke-width="0.9"/>
<ellipse cx="223.5" cy="183.4" rx="2.7" ry="1.57" fill="none" stroke="#cc2f33" stroke-width="0.9"/>
<ellipse cx="236.97" cy="182.11" rx="2.56" ry="1.75" fill="none" stroke="#cc2f33" stroke-width="1.0"/>
<ellipse cx="236.97" cy="182.11" rx="1.22" ry="0.7" fill="none" stroke="#cc2f33" stroke-width="0.6" opacity="0.7"/>
<ellipse cx="236.43" cy="182.29" rx="2.29" ry="1.57" fill="none" stroke="#4046b4" stroke-width="1.0" opacity="0.9"/>
<ellipse cx="236.43" cy="182.29" rx="1.08" ry="0.61" fill="none" stroke="#4046b4" stroke-width="0.6" opacity="0.7"/>
<ellipse cx="236.1" cy="185.2" rx="2.7" ry="1.57" fill="none" stroke="#cc2f33" stroke-width="0.9"/>
<ellipse cx="233.7" cy="146.1" rx="2.7" ry="1.57" fill="none" stroke="#cc2f33" stroke-width="0.9"/>
<ellipse cx="241.28" cy="153.36" rx="2.56" ry="1.75" fill="none" stroke="#cc2f33" stroke-width="1.0"/>
<ellipse cx="241.28" cy="153.36" rx="1.22" ry="0.7" fill="none" stroke="#cc2f33" stroke-width="0.6" opacity="0.7"/>
<ellipse cx="240.72" cy="153.24" rx="2.29" ry="1.57" fill="none" stroke="#4046b4" stroke-width="1.0" opacity="0.9"/>
<ellipse cx="240.72" cy="153.24" rx="1.08" ry="0.61" fill="none" stroke="#4046b4" stroke-width="0.6" opacity="0.7"/>
<ellipse cx="248.8" cy="147.9" rx="2.7" ry="1.57" fill="none" stroke="#cc2f33" stroke-width="0.9"/>
<ellipse cx="243.4" cy="140.7" rx="2.7" ry="1.57" fill="none" stroke="#7f86cc" stroke-width="0.9"/>
<ellipse cx="247.6" cy="143.1" rx="2.7" ry="1.57" fill="none" stroke="#7f86cc" stroke-width="0.9"/>
<ellipse cx="249.93" cy="136.67" rx="2.56" ry="1.75" fill="none" stroke="#cc2f33" stroke-width="1.0"/>
<ellipse cx="249.93" cy="136.67" rx="1.22" ry="0.7" fill="none" stroke="#cc2f33" stroke-width="0.6" opacity="0.7"/>
<ellipse cx="250.07" cy="136.13" rx="2.29" ry="1.57" fill="none" stroke="#4046b4" stroke-width="1.0" opacity="0.9"/>
<ellipse cx="250.07" cy="136.13" rx="1.08" ry="0.61" fill="none" stroke="#4046b4" stroke-width="0.6" opacity="0.7"/>
<ellipse cx="253" cy="132.8" rx="2.7" ry="1.57" fill="none" stroke="#cc2f33" stroke-width="0.9"/>
<ellipse cx="252.5" cy="142.7" rx="2.56" ry="1.75" fill="none" stroke="#cc2f33" stroke-width="1.0"/>
<ellipse cx="252.5" cy="142.7" rx="1.22" ry="0.7" fill="none" stroke="#cc2f33" stroke-width="0.6" opacity="0.7"/>
<ellipse cx="253.5" cy="142.3" rx="2.29" ry="1.57" fill="none" stroke="#4046b4" stroke-width="1.0" opacity="0.9"/>
<ellipse cx="253.5" cy="142.3" rx="1.08" ry="0.61" fill="none" stroke="#4046b4" stroke-width="0.6" opacity="0.7"/>
<ellipse cx="257.24" cy="141.98" rx="2.56" ry="1.75" fill="none" stroke="#cc2f33" stroke-width="1.0"/>
<ellipse cx="257.24" cy="141.98" rx="1.22" ry="0.7" fill="none" stroke="#cc2f33" stroke-width="0.6" opacity="0.7"/>
<ellipse cx="258.36" cy="141.82" rx="2.29" ry="1.57" fill="none" stroke="#4046b4" stroke-width="1.0" opacity="0.9"/>
<ellipse cx="258.36" cy="141.82" rx="1.08" ry="0.61" fill="none" stroke="#4046b4" stroke-width="0.6" opacity="0.7"/>
<ellipse cx="262.68" cy="140.48" rx="2.56" ry="1.75" fill="none" stroke="#cc2f33" stroke-width="1.0"/>
<ellipse cx="262.68" cy="140.48" rx="1.22" ry="0.7" fill="none" stroke="#cc2f33" stroke-width="0.6" opacity="0.7"/>
<ellipse cx="262.72" cy="140.92" rx="2.29" ry="1.57" fill="none" stroke="#4046b4" stroke-width="1.0" opacity="0.9"/>
<ellipse cx="262.72" cy="140.92" rx="1.08" ry="0.61" fill="none" stroke="#4046b4" stroke-width="0.6" opacity="0.7"/>
<ellipse cx="265.24" cy="143.5" rx="2.56" ry="1.75" fill="none" stroke="#cc2f33" stroke-width="1.0"/>
<ellipse cx="265.24" cy="143.5" rx="1.22" ry="0.7" fill="none" stroke="#cc2f33" stroke-width="0.6" opacity="0.7"/>
<ellipse cx="264.76" cy="143.5" rx="2.29" ry="1.57" fill="none" stroke="#4046b4" stroke-width="1.0" opacity="0.9"/>
<ellipse cx="264.76" cy="143.5" rx="1.08" ry="0.61" fill="none" stroke="#4046b4" stroke-width="0.6" opacity="0.7"/>
<ellipse cx="267.64" cy="143.44" rx="2.56" ry="1.75" fill="none" stroke="#cc2f33" stroke-width="1.0"/>
<ellipse cx="267.64" cy="143.44" rx="1.22" ry="0.7" fill="none" stroke="#cc2f33" stroke-width="0.6" opacity="0.7"/>
<ellipse cx="267.36" cy="142.76" rx="2.29" ry="1.57" fill="none" stroke="#4046b4" stroke-width="1.0" opacity="0.9"/>
<ellipse cx="267.36" cy="142.76" rx="1.08" ry="0.61" fill="none" stroke="#4046b4" stroke-width="0.6" opacity="0.7"/>
<ellipse cx="271.1" cy="140.7" rx="2.7" ry="1.57" fill="none" stroke="#cc2f33" stroke-width="0.9"/>
<ellipse cx="274.7" cy="141.3" rx="2.7" ry="1.57" fill="none" stroke="#7f86cc" stroke-width="0.9"/>
<ellipse cx="250.6" cy="153.9" rx="2.7" ry="1.57" fill="none" stroke="#7f86cc" stroke-width="0.9"/>
<ellipse cx="251.8" cy="157.3" rx="2.7" ry="1.57" fill="none" stroke="#cc2f33" stroke-width="0.9"/>
<ellipse cx="257.51" cy="157.11" rx="2.56" ry="1.75" fill="none" stroke="#cc2f33" stroke-width="1.0"/>
<ellipse cx="257.51" cy="157.11" rx="1.22" ry="0.7" fill="none" stroke="#cc2f33" stroke-width="0.6" opacity="0.7"/>
<ellipse cx="258.09" cy="157.89" rx="2.29" ry="1.57" fill="none" stroke="#4046b4" stroke-width="1.0" opacity="0.9"/>
<ellipse cx="258.09" cy="157.89" rx="1.08" ry="0.61" fill="none" stroke="#4046b4" stroke-width="0.6" opacity="0.7"/>
<ellipse cx="263.66" cy="157.14" rx="2.56" ry="1.75" fill="none" stroke="#cc2f33" stroke-width="1.0"/>
<ellipse cx="263.66" cy="157.14" rx="1.22" ry="0.7" fill="none" stroke="#cc2f33" stroke-width="0.6" opacity="0.7"/>
<ellipse cx="264.14" cy="156.86" rx="2.29" ry="1.57" fill="none" stroke="#4046b4" stroke-width="1.0" opacity="0.9"/>
<ellipse cx="264.14" cy="156.86" rx="1.08" ry="0.61" fill="none" stroke="#4046b4" stroke-width="0.6" opacity="0.7"/>
<ellipse cx="267.14" cy="158.44" rx="2.56" ry="1.75" fill="none" stroke="#cc2f33" stroke-width="1.0"/>
<ellipse cx="267.14" cy="158.44" rx="1.22" ry="0.7" fill="none" stroke="#cc2f33" stroke-width="0.6" opacity="0.7"/>
<ellipse cx="267.86" cy="158.96" rx="2.29" ry="1.57" fill="none" stroke="#4046b4" stroke-width="1.0" opacity="0.9"/>
<ellipse cx="267.86" cy="158.96" rx="1.08" ry="0.61" fill="none" stroke="#4046b4" stroke-width="0.6" opacity="0.7"/>
<ellipse cx="271.59" cy="154.63" rx="2.56" ry="1.75" fill="none" stroke="#cc2f33" stroke-width="1.0"/>
<ellipse cx="271.59" cy="154.63" rx="1.22" ry="0.7" fill="none" stroke="#cc2f33" stroke-width="0.6" opacity="0.7"/>
<ellipse cx="270.61" cy="154.37" rx="2.29" ry="1.57" fill="none" stroke="#4046b4" stroke-width="1.0" opacity="0.9"/>
<ellipse cx="270.61" cy="154.37" rx="1.08" ry="0.61" fill="none" stroke="#4046b4" stroke-width="0.6" opacity="0.7"/>
<ellipse cx="275.3" cy="153.9" rx="2.7" ry="1.57" fill="none" stroke="#cc2f33" stroke-width="0.9"/>
<ellipse cx="257.73" cy="161.41" rx="2.56" ry="1.75" fill="none" stroke="#cc2f33" stroke-width="1.0"/>
<ellipse cx="257.73" cy="161.41" rx="1.22" ry="0.7" fill="none" stroke="#cc2f33" stroke-width="0.6" opacity="0.7"/>
<ellipse cx="257.87" cy="160.79" rx="2.29" ry="1.57" fill="none" stroke="#4046b4" stroke-width="1.0" opacity="0.9"/>
<ellipse cx="257.87" cy="160.79" rx="1.08" ry="0.61" fill="none" stroke="#4046b4" stroke-width="0.6" opacity="0.7"/>
<ellipse cx="262.49" cy="161.23" rx="2.56" ry="1.75" fill="none" stroke="#cc2f33" stroke-width="1.0"/>
<ellipse cx="262.49" cy="161.23" rx="1.22" ry="0.7" fill="none" stroke="#cc2f33" stroke-width="0.6" opacity="0.7"/>
<ellipse cx="262.91" cy="160.97" rx="2.29" ry="1.57" fill="none" stroke="#4046b4" stroke-width="1.0" opacity="0.9"/>
<ellipse cx="262.91" cy="160.97" rx="1.08" ry="0.61" fill="none" stroke="#4046b4" stroke-width="0.6" opacity="0.7"/>
<ellipse cx="269.54" cy="159.84" rx="2.56" ry="1.75" fill="none" stroke="#cc2f33" stroke-width="1.0"/>
<ellipse cx="269.54" cy="159.84" rx="1.22" ry="0.7" fill="none" stroke="#cc2f33" stroke-width="0.6" opacity="0.7"/>
<ellipse cx="270.26" cy="159.96" rx="2.29" ry="1.57" fill="none" stroke="#4046b4" stroke-width="1.0" opacity="0.9"/>
<ellipse cx="270.26" cy="159.96" rx="1.08" ry="0.61" fill="none" stroke="#4046b4" stroke-width="0.6" opacity="0.7"/>
<ellipse cx="258.17" cy="165.13" rx="2.56" ry="1.75" fill="none" stroke="#cc2f33" stroke-width="1.0"/>
<ellipse cx="258.17" cy="165.13" rx="1.22" ry="0.7" fill="none" stroke="#cc2f33" stroke-width="0.6" opacity="0.7"/>
<ellipse cx="257.43" cy="164.47" rx="2.29" ry="1.57" fill="none" stroke="#4046b4" stroke-width="1.0" opacity="0.9"/>
<ellipse cx="257.43" cy="164.47" rx="1.08" ry="0.61" fill="none" stroke="#4046b4" stroke-width="0.6" opacity="0.7"/>
<ellipse cx="251.8" cy="167.2" rx="2.7" ry="1.57" fill="none" stroke="#cc2f33" stroke-width="0.9"/>
<ellipse cx="260.2" cy="167.8" rx="2.7" ry="1.57" fill="none" stroke="#cc2f33" stroke-width="0.9"/>
<ellipse cx="256.6" cy="167.2" rx="2.7" ry="1.57" fill="none" stroke="#7f86cc" stroke-width="0.9"/>
<ellipse cx="273.96" cy="168.31" rx="2.56" ry="1.75" fill="none" stroke="#cc2f33" stroke-width="1.0"/>
<ellipse cx="273.96" cy="168.31" rx="1.22" ry="0.7" fill="none" stroke="#cc2f33" stroke-width="0.6" opacity="0.7"/>
<ellipse cx="273.04" cy="168.49" rx="2.29" ry="1.57" fill="none" stroke="#4046b4" stroke-width="1.0" opacity="0.9"/>
<ellipse cx="273.04" cy="168.49" rx="1.08" ry="0.61" fill="none" stroke="#4046b4" stroke-width="0.6" opacity="0.7"/>
<ellipse cx="266.4" cy="171.85" rx="2.56" ry="1.75" fill="none" stroke="#cc2f33" stroke-width="1.0"/>
<ellipse cx="266.4" cy="171.85" rx="1.22" ry="0.7" fill="none" stroke="#cc2f33" stroke-width="0.6" opacity="0.7"/>
<ellipse cx="266.2" cy="172.15" rx="2.29" ry="1.57" fill="none" stroke="#4046b4" stroke-width="1.0" opacity="0.9"/>
<ellipse cx="266.2" cy="172.15" rx="1.08" ry="0.61" fill="none" stroke="#4046b4" stroke-width="0.6" opacity="0.7"/>
<ellipse cx="264.06" cy="177.8" rx="2.56" ry="1.75" fill="none" stroke="#cc2f33" stroke-width="1.0"/>
<ellipse cx="264.06" cy="177.8" rx="1.22" ry="0.7" fill="none" stroke="#cc2f33" stroke-width="0.6" opacity="0.7"/>
<ellipse cx="264.94" cy="177.8" rx="2.29" ry="1.57" fill="none" stroke="#4046b4" stroke-width="1.0" opacity="0.9"/>
<ellipse cx="264.94" cy="177.8" rx="1.08" ry="0.61" fill="none" stroke="#4046b4" stroke-width="0.6" opacity="0.7"/>
<ellipse cx="272.1" cy="180.08" rx="2.56" ry="1.75" fill="none" stroke="#cc2f33" stroke-width="1.0"/>
<ellipse cx="272.1" cy="180.08" rx="1.22" ry="0.7" fill="none" stroke="#cc2f33" stroke-width="0.6" opacity="0.7"/>
<ellipse cx="271.3" cy="179.52" rx="2.29" ry="1.57" fill="none" stroke="#4046b4" stroke-width="1.0" opacity="0.9"/>
<ellipse cx="271.3" cy="179.52" rx="1.08" ry="0.61" fill="none" stroke="#4046b4" stroke-width="0.6" opacity="0.7"/>
<ellipse cx="279.5" cy="167.8" rx="2.7" ry="1.57" fill="none" stroke="#cc2f33" stroke-width="0.9"/>
<ellipse cx="280.95" cy="160.26" rx="2.56" ry="1.75" fill="none" stroke="#cc2f33" stroke-width="1.0"/>
<ellipse cx="280.95" cy="160.26" rx="1.22" ry="0.7" fill="none" stroke="#cc2f33" stroke-width="0.6" opacity="0.7"/>
<ellipse cx="280.45" cy="159.54" rx="2.29" ry="1.57" fill="none" stroke="#4046b4" stroke-width="1.0" opacity="0.9"/>
<ellipse cx="280.45" cy="159.54" rx="1.08" ry="0.61" fill="none" stroke="#4046b4" stroke-width="0.6" opacity="0.7"/>
<ellipse cx="280.1" cy="175.6" rx="2.7" ry="1.57" fill="none" stroke="#cc2f33" stroke-width="0.9"/>
<ellipse cx="283.7" cy="175.6" rx="2.7" ry="1.57" fill="none" stroke="#7f86cc" stroke-width="0.9"/>
<ellipse cx="284.3" cy="167.8" rx="2.7" ry="1.57" fill="none" stroke="#cc2f33" stroke-width="0.9"/>
<ellipse cx="281.63" cy="186.14" rx="2.56" ry="1.75" fill="none" stroke="#cc2f33" stroke-width="1.0"/>
<ellipse cx="281.63" cy="186.14" rx="1.22" ry="0.7" fill="none" stroke="#cc2f33" stroke-width="0.6" opacity="0.7"/>
<ellipse cx="282.17" cy="186.66" rx="2.29" ry="1.57" fill="none" stroke="#4046b4" stroke-width="1.0" opacity="0.9"/>
<ellipse cx="282.17" cy="186.66" rx="1.08" ry="0.61" fill="none" stroke="#4046b4" stroke-width="0.6" opacity="0.7"/>
<ellipse cx="260.5" cy="144" rx="2.7" ry="1.57" fill="none" stroke="#7f86cc" stroke-width="0.9"/>
<ellipse cx="264" cy="163" rx="2.7" ry="1.57" fill="none" stroke="#7f86cc" stroke-width="0.9"/>
<ellipse cx="224" cy="161" rx="2.7" ry="1.57" fill="none" stroke="#7f86cc" stroke-width="0.9"/>
<ellipse cx="210" cy="162" rx="2.7" ry="1.57" fill="none" stroke="#7f86cc" stroke-width="0.9"/>
</g>
<rect x="41.6" y="38.3" width="320.7" height="213.5" fill="none" stroke="#2a2a2a" stroke-width="1"/>
<line x1="41.6" y1="38.3" x2="41.6" y2="251.8" stroke="#555" stroke-width="1.5"/>
<line x1="55.96" y1="37.1" x2="55.96" y2="38.3" stroke="#333" stroke-width="0.8"/>
<line x1="55.96" y1="251.8" x2="55.96" y2="253" stroke="#333" stroke-width="0.8"/>
<line x1="69.94" y1="37.1" x2="69.94" y2="38.3" stroke="#333" stroke-width="0.8"/>
<line x1="69.94" y1="251.8" x2="69.94" y2="253" stroke="#333" stroke-width="0.8"/>
<line x1="83.93" y1="37.1" x2="83.93" y2="38.3" stroke="#333" stroke-width="0.8"/>
<line x1="83.93" y1="251.8" x2="83.93" y2="253" stroke="#333" stroke-width="0.8"/>
<line x1="97.91" y1="37.1" x2="97.91" y2="38.3" stroke="#333" stroke-width="0.8"/>
<line x1="97.91" y1="251.8" x2="97.91" y2="253" stroke="#333" stroke-width="0.8"/>
<line x1="111.9" y1="36.1" x2="111.9" y2="38.3" stroke="#333" stroke-width="0.8"/>
<line x1="111.9" y1="251.8" x2="111.9" y2="254" stroke="#333" stroke-width="0.8"/>
<text x="111.9" y="35" font-size="12" text-anchor="middle" fill="#000" font-weight="normal" >10</text>
<text x="111.9" y="268" font-size="12" text-anchor="middle" fill="#000" font-weight="normal" >10</text>
<line x1="125.89" y1="37.1" x2="125.89" y2="38.3" stroke="#333" stroke-width="0.8"/>
<line x1="125.89" y1="251.8" x2="125.89" y2="253" stroke="#333" stroke-width="0.8"/>
<line x1="139.87" y1="37.1" x2="139.87" y2="38.3" stroke="#333" stroke-width="0.8"/>
<line x1="139.87" y1="251.8" x2="139.87" y2="253" stroke="#333" stroke-width="0.8"/>
<line x1="153.86" y1="37.1" x2="153.86" y2="38.3" stroke="#333" stroke-width="0.8"/>
<line x1="153.86" y1="251.8" x2="153.86" y2="253" stroke="#333" stroke-width="0.8"/>
<line x1="167.84" y1="37.1" x2="167.84" y2="38.3" stroke="#333" stroke-width="0.8"/>
<line x1="167.84" y1="251.8" x2="167.84" y2="253" stroke="#333" stroke-width="0.8"/>
<line x1="181.83" y1="36.1" x2="181.83" y2="38.3" stroke="#333" stroke-width="0.8"/>
<line x1="181.83" y1="251.8" x2="181.83" y2="254" stroke="#333" stroke-width="0.8"/>
<text x="181.83" y="35" font-size="12" text-anchor="middle" fill="#000" font-weight="normal" >9</text>
<text x="181.83" y="268" font-size="12" text-anchor="middle" fill="#000" font-weight="normal" >9</text>
<line x1="195.82" y1="37.1" x2="195.82" y2="38.3" stroke="#333" stroke-width="0.8"/>
<line x1="195.82" y1="251.8" x2="195.82" y2="253" stroke="#333" stroke-width="0.8"/>
<line x1="209.8" y1="37.1" x2="209.8" y2="38.3" stroke="#333" stroke-width="0.8"/>
<line x1="209.8" y1="251.8" x2="209.8" y2="253" stroke="#333" stroke-width="0.8"/>
<line x1="223.79" y1="37.1" x2="223.79" y2="38.3" stroke="#333" stroke-width="0.8"/>
<line x1="223.79" y1="251.8" x2="223.79" y2="253" stroke="#333" stroke-width="0.8"/>
<line x1="237.77" y1="37.1" x2="237.77" y2="38.3" stroke="#333" stroke-width="0.8"/>
<line x1="237.77" y1="251.8" x2="237.77" y2="253" stroke="#333" stroke-width="0.8"/>
<line x1="251.76" y1="36.1" x2="251.76" y2="38.3" stroke="#333" stroke-width="0.8"/>
<line x1="251.76" y1="251.8" x2="251.76" y2="254" stroke="#333" stroke-width="0.8"/>
<text x="251.76" y="35" font-size="12" text-anchor="middle" fill="#000" font-weight="normal" >8</text>
<text x="251.76" y="268" font-size="12" text-anchor="middle" fill="#000" font-weight="normal" >8</text>
<line x1="265.75" y1="37.1" x2="265.75" y2="38.3" stroke="#333" stroke-width="0.8"/>
<line x1="265.75" y1="251.8" x2="265.75" y2="253" stroke="#333" stroke-width="0.8"/>
<line x1="279.73" y1="37.1" x2="279.73" y2="38.3" stroke="#333" stroke-width="0.8"/>
<line x1="279.73" y1="251.8" x2="279.73" y2="253" stroke="#333" stroke-width="0.8"/>
<line x1="293.72" y1="37.1" x2="293.72" y2="38.3" stroke="#333" stroke-width="0.8"/>
<line x1="293.72" y1="251.8" x2="293.72" y2="253" stroke="#333" stroke-width="0.8"/>
<line x1="307.7" y1="37.1" x2="307.7" y2="38.3" stroke="#333" stroke-width="0.8"/>
<line x1="307.7" y1="251.8" x2="307.7" y2="253" stroke="#333" stroke-width="0.8"/>
<line x1="321.69" y1="36.1" x2="321.69" y2="38.3" stroke="#333" stroke-width="0.8"/>
<line x1="321.69" y1="251.8" x2="321.69" y2="254" stroke="#333" stroke-width="0.8"/>
<text x="321.69" y="35" font-size="12" text-anchor="middle" fill="#000" font-weight="normal" >7</text>
<text x="321.69" y="268" font-size="12" text-anchor="middle" fill="#000" font-weight="normal" >7</text>
<line x1="335.68" y1="37.1" x2="335.68" y2="38.3" stroke="#333" stroke-width="0.8"/>
<line x1="335.68" y1="251.8" x2="335.68" y2="253" stroke="#333" stroke-width="0.8"/>
<line x1="349.66" y1="37.1" x2="349.66" y2="38.3" stroke="#333" stroke-width="0.8"/>
<line x1="349.66" y1="251.8" x2="349.66" y2="253" stroke="#333" stroke-width="0.8"/>
<line x1="40.4" y1="44.84" x2="41.6" y2="44.84" stroke="#333" stroke-width="0.8"/>
<line x1="362.3" y1="44.84" x2="363.5" y2="44.84" stroke="#333" stroke-width="0.8"/>
<line x1="40.4" y1="51.72" x2="41.6" y2="51.72" stroke="#333" stroke-width="0.8"/>
<line x1="362.3" y1="51.72" x2="363.5" y2="51.72" stroke="#333" stroke-width="0.8"/>
<line x1="39.4" y1="58.6" x2="41.6" y2="58.6" stroke="#333" stroke-width="0.8"/>
<line x1="362.3" y1="58.6" x2="364.5" y2="58.6" stroke="#333" stroke-width="0.8"/>
<text x="38.6" y="62.2" font-size="12" text-anchor="end" fill="#000" font-weight="normal" >105</text>
<text x="366.4" y="62.2" font-size="12" text-anchor="start" fill="#000" font-weight="normal" >105</text>
<line x1="40.4" y1="65.48" x2="41.6" y2="65.48" stroke="#333" stroke-width="0.8"/>
<line x1="362.3" y1="65.48" x2="363.5" y2="65.48" stroke="#333" stroke-width="0.8"/>
<line x1="40.4" y1="72.36" x2="41.6" y2="72.36" stroke="#333" stroke-width="0.8"/>
<line x1="362.3" y1="72.36" x2="363.5" y2="72.36" stroke="#333" stroke-width="0.8"/>
<line x1="40.4" y1="79.24" x2="41.6" y2="79.24" stroke="#333" stroke-width="0.8"/>
<line x1="362.3" y1="79.24" x2="363.5" y2="79.24" stroke="#333" stroke-width="0.8"/>
<line x1="40.4" y1="86.12" x2="41.6" y2="86.12" stroke="#333" stroke-width="0.8"/>
<line x1="362.3" y1="86.12" x2="363.5" y2="86.12" stroke="#333" stroke-width="0.8"/>
<line x1="39.4" y1="93" x2="41.6" y2="93" stroke="#333" stroke-width="0.8"/>
<line x1="362.3" y1="93" x2="364.5" y2="93" stroke="#333" stroke-width="0.8"/>
<text x="38.6" y="96.6" font-size="12" text-anchor="end" fill="#000" font-weight="normal" >110</text>
<text x="366.4" y="96.6" font-size="12" text-anchor="start" fill="#000" font-weight="normal" >110</text>
<line x1="40.4" y1="99.88" x2="41.6" y2="99.88" stroke="#333" stroke-width="0.8"/>
<line x1="362.3" y1="99.88" x2="363.5" y2="99.88" stroke="#333" stroke-width="0.8"/>
<line x1="40.4" y1="106.76" x2="41.6" y2="106.76" stroke="#333" stroke-width="0.8"/>
<line x1="362.3" y1="106.76" x2="363.5" y2="106.76" stroke="#333" stroke-width="0.8"/>
<line x1="40.4" y1="113.64" x2="41.6" y2="113.64" stroke="#333" stroke-width="0.8"/>
<line x1="362.3" y1="113.64" x2="363.5" y2="113.64" stroke="#333" stroke-width="0.8"/>
<line x1="40.4" y1="120.52" x2="41.6" y2="120.52" stroke="#333" stroke-width="0.8"/>
<line x1="362.3" y1="120.52" x2="363.5" y2="120.52" stroke="#333" stroke-width="0.8"/>
<line x1="39.4" y1="127.4" x2="41.6" y2="127.4" stroke="#333" stroke-width="0.8"/>
<line x1="362.3" y1="127.4" x2="364.5" y2="127.4" stroke="#333" stroke-width="0.8"/>
<text x="38.6" y="131" font-size="12" text-anchor="end" fill="#000" font-weight="normal" >115</text>
<text x="366.4" y="131" font-size="12" text-anchor="start" fill="#000" font-weight="normal" >115</text>
<line x1="40.4" y1="134.28" x2="41.6" y2="134.28" stroke="#333" stroke-width="0.8"/>
<line x1="362.3" y1="134.28" x2="363.5" y2="134.28" stroke="#333" stroke-width="0.8"/>
<line x1="40.4" y1="141.16" x2="41.6" y2="141.16" stroke="#333" stroke-width="0.8"/>
<line x1="362.3" y1="141.16" x2="363.5" y2="141.16" stroke="#333" stroke-width="0.8"/>
<line x1="40.4" y1="148.04" x2="41.6" y2="148.04" stroke="#333" stroke-width="0.8"/>
<line x1="362.3" y1="148.04" x2="363.5" y2="148.04" stroke="#333" stroke-width="0.8"/>
<line x1="40.4" y1="154.92" x2="41.6" y2="154.92" stroke="#333" stroke-width="0.8"/>
<line x1="362.3" y1="154.92" x2="363.5" y2="154.92" stroke="#333" stroke-width="0.8"/>
<line x1="39.4" y1="161.8" x2="41.6" y2="161.8" stroke="#333" stroke-width="0.8"/>
<line x1="362.3" y1="161.8" x2="364.5" y2="161.8" stroke="#333" stroke-width="0.8"/>
<text x="38.6" y="165.4" font-size="12" text-anchor="end" fill="#000" font-weight="normal" >120</text>
<text x="366.4" y="165.4" font-size="12" text-anchor="start" fill="#000" font-weight="normal" >120</text>
<line x1="40.4" y1="168.68" x2="41.6" y2="168.68" stroke="#333" stroke-width="0.8"/>
<line x1="362.3" y1="168.68" x2="363.5" y2="168.68" stroke="#333" stroke-width="0.8"/>
<line x1="40.4" y1="175.56" x2="41.6" y2="175.56" stroke="#333" stroke-width="0.8"/>
<line x1="362.3" y1="175.56" x2="363.5" y2="175.56" stroke="#333" stroke-width="0.8"/>
<line x1="40.4" y1="182.44" x2="41.6" y2="182.44" stroke="#333" stroke-width="0.8"/>
<line x1="362.3" y1="182.44" x2="363.5" y2="182.44" stroke="#333" stroke-width="0.8"/>
<line x1="40.4" y1="189.32" x2="41.6" y2="189.32" stroke="#333" stroke-width="0.8"/>
<line x1="362.3" y1="189.32" x2="363.5" y2="189.32" stroke="#333" stroke-width="0.8"/>
<line x1="39.4" y1="196.2" x2="41.6" y2="196.2" stroke="#333" stroke-width="0.8"/>
<line x1="362.3" y1="196.2" x2="364.5" y2="196.2" stroke="#333" stroke-width="0.8"/>
<text x="38.6" y="199.8" font-size="12" text-anchor="end" fill="#000" font-weight="normal" >125</text>
<text x="366.4" y="199.8" font-size="12" text-anchor="start" fill="#000" font-weight="normal" >125</text>
<line x1="40.4" y1="203.08" x2="41.6" y2="203.08" stroke="#333" stroke-width="0.8"/>
<line x1="362.3" y1="203.08" x2="363.5" y2="203.08" stroke="#333" stroke-width="0.8"/>
<line x1="40.4" y1="209.96" x2="41.6" y2="209.96" stroke="#333" stroke-width="0.8"/>
<line x1="362.3" y1="209.96" x2="363.5" y2="209.96" stroke="#333" stroke-width="0.8"/>
<line x1="40.4" y1="216.84" x2="41.6" y2="216.84" stroke="#333" stroke-width="0.8"/>
<line x1="362.3" y1="216.84" x2="363.5" y2="216.84" stroke="#333" stroke-width="0.8"/>
<line x1="40.4" y1="223.72" x2="41.6" y2="223.72" stroke="#333" stroke-width="0.8"/>
<line x1="362.3" y1="223.72" x2="363.5" y2="223.72" stroke="#333" stroke-width="0.8"/>
<line x1="39.4" y1="230.6" x2="41.6" y2="230.6" stroke="#333" stroke-width="0.8"/>
<line x1="362.3" y1="230.6" x2="364.5" y2="230.6" stroke="#333" stroke-width="0.8"/>
<text x="38.6" y="234.2" font-size="12" text-anchor="end" fill="#000" font-weight="normal" >130</text>
<text x="366.4" y="234.2" font-size="12" text-anchor="start" fill="#000" font-weight="normal" >130</text>
<line x1="40.4" y1="237.48" x2="41.6" y2="237.48" stroke="#333" stroke-width="0.8"/>
<line x1="362.3" y1="237.48" x2="363.5" y2="237.48" stroke="#333" stroke-width="0.8"/>
<line x1="40.4" y1="244.36" x2="41.6" y2="244.36" stroke="#333" stroke-width="0.8"/>
<line x1="362.3" y1="244.36" x2="363.5" y2="244.36" stroke="#333" stroke-width="0.8"/>
<line x1="40.4" y1="251.24" x2="41.6" y2="251.24" stroke="#333" stroke-width="0.8"/>
<line x1="362.3" y1="251.24" x2="363.5" y2="251.24" stroke="#333" stroke-width="0.8"/>
<text x="189.6" y="270.7" font-size="10" text-anchor="start" fill="#000" font-weight="normal" >1</text>
<text x="195.4" y="274.6" font-size="12" text-anchor="start" fill="#000" font-weight="normal" textLength="45.4" lengthAdjust="spacingAndGlyphs">H (ppm)</text>
<text transform="translate(5.3,165.3) rotate(-90)" font-size="9" fill="#000" >15</text>
<text transform="translate(11.8,152.8) rotate(-90)" font-size="11.5" fill="#000" >N</text>
<text transform="translate(12,136.1) rotate(-90)" font-size="11.5" fill="#000" textLength="31.2" lengthAdjust="spacingAndGlyphs">(ppm)</text>
<text x="55.8" y="229.6" font-size="12" text-anchor="start" fill="#c1272d" font-weight="normal" >RAS</text>
<text x="55.8" y="241" font-size="12" text-anchor="start" fill="#4a50a8" font-weight="normal" >mUbKRAS<tspan font-size="8" dy="-4">104</tspan></text>
<text x="184.4" y="94.6" font-size="12" text-anchor="start" fill="#000" font-weight="normal" >T35</text>
<text x="246.2" y="90.6" font-size="12" text-anchor="start" fill="#000" font-weight="normal" >T74</text>
<text x="252.8" y="110.2" font-size="12" text-anchor="start" fill="#000" font-weight="normal" >G75</text>
<text x="283.8" y="86.8" font-size="12" text-anchor="start" fill="#000" font-weight="normal" >S106</text>
<text x="310.2" y="74.7" font-size="12" text-anchor="start" fill="#000" font-weight="normal" >G10</text>
<text x="140.3" y="218.4" font-size="12" text-anchor="start" fill="#000" font-weight="normal" >L79</text>
<text x="224.4" y="244" font-size="12" text-anchor="start" fill="#000" font-weight="normal" >T37</text>
<line x1="188" y1="96" x2="190.5" y2="97.5" stroke="#333" stroke-width="0.5"/>
<line x1="222.5" y1="236" x2="221.5" y2="243.5" stroke="#333" stroke-width="0.5"/>
<rect x="208.5" y="129.4" width="69" height="56.9" fill="none" stroke="#333" stroke-width="0.9"/>
<line x1="208.5" y1="186.3" x2="123" y2="300.4" stroke="#444" stroke-width="0.8"/>
<line x1="277.5" y1="186.3" x2="283" y2="300.4" stroke="#555" stroke-width="0.8"/>
<clipPath id="cpI"><rect x="123.0" y="300.4" width="160.0" height="134.20000000000005"/></clipPath>
<g clip-path="url(#cpI)">
<ellipse cx="137.4" cy="317.7" rx="4.5" ry="3" fill="none" stroke="#8a90d0" stroke-width="0.5"/>
<ellipse cx="137.4" cy="317.7" rx="3.6" ry="2.4" fill="none" stroke="#8a90d0" stroke-width="0.5"/>
<ellipse cx="137.4" cy="317.7" rx="2.7" ry="1.8" fill="none" stroke="#8a90d0" stroke-width="0.5"/>
<ellipse cx="137.4" cy="317.7" rx="1.8" ry="1.2" fill="none" stroke="#8a90d0" stroke-width="0.5"/>
<ellipse cx="139.7" cy="365.1" rx="6.35" ry="4" fill="none" stroke="#8a90d0" stroke-width="0.5"/>
<ellipse cx="139.7" cy="365.1" rx="5.08" ry="3.2" fill="none" stroke="#8a90d0" stroke-width="0.5"/>
<ellipse cx="139.7" cy="365.1" rx="3.81" ry="2.4" fill="none" stroke="#8a90d0" stroke-width="0.5"/>
<ellipse cx="139.7" cy="365.1" rx="2.54" ry="1.6" fill="none" stroke="#8a90d0" stroke-width="0.5"/>
<ellipse cx="208" cy="323" rx="10" ry="4" fill="none" stroke="#8a90d0" stroke-width="0.5"/>
<ellipse cx="208" cy="323" rx="8" ry="3.2" fill="none" stroke="#8a90d0" stroke-width="0.5"/>
<ellipse cx="208" cy="323" rx="6" ry="2.4" fill="none" stroke="#8a90d0" stroke-width="0.5"/>
<ellipse cx="208" cy="323" rx="4" ry="1.6" fill="none" stroke="#8a90d0" stroke-width="0.5"/>
<ellipse cx="200" cy="321" rx="5" ry="3" fill="none" stroke="#8a90d0" stroke-width="0.5"/>
<ellipse cx="200" cy="321" rx="4" ry="2.4" fill="none" stroke="#8a90d0" stroke-width="0.5"/>
<ellipse cx="200" cy="321" rx="3" ry="1.8" fill="none" stroke="#8a90d0" stroke-width="0.5"/>
<ellipse cx="200" cy="321" rx="2" ry="1.2" fill="none" stroke="#8a90d0" stroke-width="0.5"/>
<ellipse cx="226" cy="329" rx="7" ry="5" fill="none" stroke="#8a90d0" stroke-width="0.5"/>
<ellipse cx="226" cy="329" rx="5.6" ry="4" fill="none" stroke="#8a90d0" stroke-width="0.5"/>
<ellipse cx="226" cy="329" rx="4.2" ry="3" fill="none" stroke="#8a90d0" stroke-width="0.5"/>
<ellipse cx="226" cy="329" rx="2.8" ry="2" fill="none" stroke="#8a90d0" stroke-width="0.5"/>
<ellipse cx="250" cy="340" rx="13" ry="5" fill="none" stroke="#8a90d0" stroke-width="0.5"/>
<ellipse cx="250" cy="340" rx="10.4" ry="4" fill="none" stroke="#8a90d0" stroke-width="0.5"/>
<ellipse cx="250" cy="340" rx="7.8" ry="3" fill="none" stroke="#8a90d0" stroke-width="0.5"/>
<ellipse cx="250" cy="340" rx="5.2" ry="2" fill="none" stroke="#8a90d0" stroke-width="0.5"/>
<ellipse cx="255" cy="328" rx="16" ry="7" fill="none" stroke="#8a90d0" stroke-width="0.5"/>
<ellipse cx="255" cy="328" rx="12.8" ry="5.6" fill="none" stroke="#8a90d0" stroke-width="0.5"/>
<ellipse cx="255" cy="328" rx="9.6" ry="4.2" fill="none" stroke="#8a90d0" stroke-width="0.5"/>
<ellipse cx="255" cy="328" rx="6.4" ry="2.8" fill="none" stroke="#8a90d0" stroke-width="0.5"/>
<ellipse cx="232" cy="320" rx="7" ry="3" fill="none" stroke="#8a90d0" stroke-width="0.5"/>
<ellipse cx="232" cy="320" rx="5.6" ry="2.4" fill="none" stroke="#8a90d0" stroke-width="0.5"/>
<ellipse cx="232" cy="320" rx="4.2" ry="1.8" fill="none" stroke="#8a90d0" stroke-width="0.5"/>
<ellipse cx="232" cy="320" rx="2.8" ry="1.2" fill="none" stroke="#8a90d0" stroke-width="0.5"/>
<ellipse cx="279.8" cy="324.6" rx="4.5" ry="3.5" fill="none" stroke="#8a90d0" stroke-width="0.5"/>
<ellipse cx="279.8" cy="324.6" rx="3.6" ry="2.8" fill="none" stroke="#8a90d0" stroke-width="0.5"/>
<ellipse cx="279.8" cy="324.6" rx="2.7" ry="2.1" fill="none" stroke="#8a90d0" stroke-width="0.5"/>
<ellipse cx="279.8" cy="324.6" rx="1.8" ry="1.4" fill="none" stroke="#8a90d0" stroke-width="0.5"/>
<ellipse cx="212.6" cy="350.1" rx="5" ry="3" fill="none" stroke="#8a90d0" stroke-width="0.5"/>
<ellipse cx="212.6" cy="350.1" rx="4" ry="2.4" fill="none" stroke="#8a90d0" stroke-width="0.5"/>
<ellipse cx="212.6" cy="350.1" rx="3" ry="1.8" fill="none" stroke="#8a90d0" stroke-width="0.5"/>
<ellipse cx="212.6" cy="350.1" rx="2" ry="1.2" fill="none" stroke="#8a90d0" stroke-width="0.5"/>
<ellipse cx="236" cy="372" rx="5" ry="3.5" fill="none" stroke="#8a90d0" stroke-width="0.5"/>
<ellipse cx="236" cy="372" rx="4" ry="2.8" fill="none" stroke="#8a90d0" stroke-width="0.5"/>
<ellipse cx="236" cy="372" rx="3" ry="2.1" fill="none" stroke="#8a90d0" stroke-width="0.5"/>
<ellipse cx="236" cy="372" rx="2" ry="1.4" fill="none" stroke="#8a90d0" stroke-width="0.5"/>
<ellipse cx="254" cy="364" rx="16" ry="7.5" fill="none" stroke="#8a90d0" stroke-width="0.5"/>
<ellipse cx="254" cy="364" rx="12.8" ry="6" fill="none" stroke="#8a90d0" stroke-width="0.5"/>
<ellipse cx="254" cy="364" rx="9.6" ry="4.5" fill="none" stroke="#8a90d0" stroke-width="0.5"/>
<ellipse cx="254" cy="364" rx="6.4" ry="3" fill="none" stroke="#8a90d0" stroke-width="0.5"/>
<ellipse cx="272" cy="372" rx="5" ry="3" fill="none" stroke="#8a90d0" stroke-width="0.5"/>
<ellipse cx="272" cy="372" rx="4" ry="2.4" fill="none" stroke="#8a90d0" stroke-width="0.5"/>
<ellipse cx="272" cy="372" rx="3" ry="1.8" fill="none" stroke="#8a90d0" stroke-width="0.5"/>
<ellipse cx="272" cy="372" rx="2" ry="1.2" fill="none" stroke="#8a90d0" stroke-width="0.5"/>
<ellipse cx="160" cy="378" rx="22" ry="5" fill="none" stroke="#8a90d0" stroke-width="0.5"/>
<ellipse cx="160" cy="378" rx="17.6" ry="4" fill="none" stroke="#8a90d0" stroke-width="0.5"/>
<ellipse cx="160" cy="378" rx="13.2" ry="3" fill="none" stroke="#8a90d0" stroke-width="0.5"/>
<ellipse cx="160" cy="378" rx="8.8" ry="2" fill="none" stroke="#8a90d0" stroke-width="0.5"/>
<ellipse cx="196.4" cy="374.4" rx="5" ry="4" fill="none" stroke="#8a90d0" stroke-width="0.5"/>
<ellipse cx="196.4" cy="374.4" rx="4" ry="3.2" fill="none" stroke="#8a90d0" stroke-width="0.5"/>
<ellipse cx="196.4" cy="374.4" rx="3" ry="2.4" fill="none" stroke="#8a90d0" stroke-width="0.5"/>
<ellipse cx="196.4" cy="374.4" rx="2" ry="1.6" fill="none" stroke="#8a90d0" stroke-width="0.5"/>
<ellipse cx="124.6" cy="406.8" rx="4" ry="3.5" fill="none" stroke="#8a90d0" stroke-width="0.5"/>
<ellipse cx="124.6" cy="406.8" rx="3.2" ry="2.8" fill="none" stroke="#8a90d0" stroke-width="0.5"/>
<ellipse cx="124.6" cy="406.8" rx="2.4" ry="2.1" fill="none" stroke="#8a90d0" stroke-width="0.5"/>
<ellipse cx="124.6" cy="406.8" rx="1.6" ry="1.4" fill="none" stroke="#8a90d0" stroke-width="0.5"/>
<ellipse cx="201" cy="410.3" rx="3" ry="2.5" fill="none" stroke="#8a90d0" stroke-width="0.5"/>
<ellipse cx="201" cy="410.3" rx="2.4" ry="2" fill="none" stroke="#8a90d0" stroke-width="0.5"/>
<ellipse cx="201" cy="410.3" rx="1.8" ry="1.5" fill="none" stroke="#8a90d0" stroke-width="0.5"/>
<ellipse cx="201" cy="410.3" rx="1.2" ry="1" fill="none" stroke="#8a90d0" stroke-width="0.5"/>
<ellipse cx="153" cy="424" rx="4" ry="3" fill="none" stroke="#8a90d0" stroke-width="0.5"/>
<ellipse cx="153" cy="424" rx="3.2" ry="2.4" fill="none" stroke="#8a90d0" stroke-width="0.5"/>
<ellipse cx="153" cy="424" rx="2.4" ry="1.8" fill="none" stroke="#8a90d0" stroke-width="0.5"/>
<ellipse cx="153" cy="424" rx="1.6" ry="1.2" fill="none" stroke="#8a90d0" stroke-width="0.5"/>
<ellipse cx="268.2" cy="384.8" rx="6.25" ry="4.5" fill="none" stroke="#8a90d0" stroke-width="0.5"/>
<ellipse cx="268.2" cy="384.8" rx="5" ry="3.6" fill="none" stroke="#8a90d0" stroke-width="0.5"/>
<ellipse cx="268.2" cy="384.8" rx="3.75" ry="2.7" fill="none" stroke="#8a90d0" stroke-width="0.5"/>
<ellipse cx="268.2" cy="384.8" rx="2.5" ry="1.8" fill="none" stroke="#8a90d0" stroke-width="0.5"/>
<ellipse cx="147" cy="434.6" rx="4" ry="2.5" fill="none" stroke="#8a90d0" stroke-width="0.5"/>
<ellipse cx="147" cy="434.6" rx="3.2" ry="2" fill="none" stroke="#8a90d0" stroke-width="0.5"/>
<ellipse cx="147" cy="434.6" rx="2.4" ry="1.5" fill="none" stroke="#8a90d0" stroke-width="0.5"/>
<ellipse cx="147" cy="434.6" rx="1.6" ry="1" fill="none" stroke="#8a90d0" stroke-width="0.5"/>
<ellipse cx="130.4" cy="313.6" rx="7" ry="5.75" fill="none" stroke="#cd474d" stroke-width="0.6" opacity="0.85"/>
<ellipse cx="130.4" cy="313.6" rx="5.74" ry="4.72" fill="none" stroke="#cd474d" stroke-width="0.6" opacity="0.85"/>
<ellipse cx="130.4" cy="313.6" rx="4.48" ry="3.68" fill="none" stroke="#cd474d" stroke-width="0.6" opacity="0.85"/>
<ellipse cx="130.4" cy="313.6" rx="3.22" ry="2.64" fill="none" stroke="#cd474d" stroke-width="0.6" opacity="0.85"/>
<ellipse cx="130.4" cy="313.6" rx="1.96" ry="1.61" fill="none" stroke="#cd474d" stroke-width="0.6" opacity="0.85"/>
<ellipse cx="128" cy="312.3" rx="6.3" ry="5.17" fill="none" stroke="#5057b8" stroke-width="0.55" opacity="0.85"/>
<ellipse cx="128" cy="312.3" rx="4.9" ry="4.02" fill="none" stroke="#5057b8" stroke-width="0.55" opacity="0.85"/>
<ellipse cx="128" cy="312.3" rx="3.5" ry="2.88" fill="none" stroke="#5057b8" stroke-width="0.55" opacity="0.85"/>
<ellipse cx="128" cy="312.3" rx="2.1" ry="1.72" fill="none" stroke="#5057b8" stroke-width="0.55" opacity="0.85"/>
<ellipse cx="146.6" cy="321.8" rx="4.75" ry="3.5" fill="none" stroke="#cd474d" stroke-width="0.6" opacity="0.85"/>
<ellipse cx="146.6" cy="321.8" rx="3.9" ry="2.87" fill="none" stroke="#cd474d" stroke-width="0.6" opacity="0.85"/>
<ellipse cx="146.6" cy="321.8" rx="3.04" ry="2.24" fill="none" stroke="#cd474d" stroke-width="0.6" opacity="0.85"/>
<ellipse cx="146.6" cy="321.8" rx="2.18" ry="1.61" fill="none" stroke="#cd474d" stroke-width="0.6" opacity="0.85"/>
<ellipse cx="146.6" cy="321.8" rx="1.33" ry="0.98" fill="none" stroke="#cd474d" stroke-width="0.6" opacity="0.85"/>
<ellipse cx="144.2" cy="320.5" rx="4.28" ry="3.15" fill="none" stroke="#5057b8" stroke-width="0.55" opacity="0.85"/>
<ellipse cx="144.2" cy="320.5" rx="3.32" ry="2.45" fill="none" stroke="#5057b8" stroke-width="0.55" opacity="0.85"/>
<ellipse cx="144.2" cy="320.5" rx="2.38" ry="1.75" fill="none" stroke="#5057b8" stroke-width="0.55" opacity="0.85"/>
<ellipse cx="144.2" cy="320.5" rx="1.42" ry="1.05" fill="none" stroke="#5057b8" stroke-width="0.55" opacity="0.85"/>
<ellipse cx="153.5" cy="335.6" rx="5.75" ry="4" fill="none" stroke="#cd474d" stroke-width="0.6" opacity="0.85"/>
<ellipse cx="153.5" cy="335.6" rx="4.72" ry="3.28" fill="none" stroke="#cd474d" stroke-width="0.6" opacity="0.85"/>
<ellipse cx="153.5" cy="335.6" rx="3.68" ry="2.56" fill="none" stroke="#cd474d" stroke-width="0.6" opacity="0.85"/>
<ellipse cx="153.5" cy="335.6" rx="2.64" ry="1.84" fill="none" stroke="#cd474d" stroke-width="0.6" opacity="0.85"/>
<ellipse cx="153.5" cy="335.6" rx="1.61" ry="1.12" fill="none" stroke="#cd474d" stroke-width="0.6" opacity="0.85"/>
<ellipse cx="151.1" cy="334.3" rx="5.17" ry="3.6" fill="none" stroke="#5057b8" stroke-width="0.55" opacity="0.85"/>
<ellipse cx="151.1" cy="334.3" rx="4.02" ry="2.8" fill="none" stroke="#5057b8" stroke-width="0.55" opacity="0.85"/>
<ellipse cx="151.1" cy="334.3" rx="2.88" ry="2" fill="none" stroke="#5057b8" stroke-width="0.55" opacity="0.85"/>
<ellipse cx="151.1" cy="334.3" rx="1.72" ry="1.2" fill="none" stroke="#5057b8" stroke-width="0.55" opacity="0.85"/>
<ellipse cx="144.3" cy="344.9" rx="5.75" ry="4.5" fill="none" stroke="#cd474d" stroke-width="0.6" opacity="0.85"/>
<ellipse cx="144.3" cy="344.9" rx="4.72" ry="3.69" fill="none" stroke="#cd474d" stroke-width="0.6" opacity="0.85"/>
<ellipse cx="144.3" cy="344.9" rx="3.68" ry="2.88" fill="none" stroke="#cd474d" stroke-width="0.6" opacity="0.85"/>
<ellipse cx="144.3" cy="344.9" rx="2.64" ry="2.07" fill="none" stroke="#cd474d" stroke-width="0.6" opacity="0.85"/>
<ellipse cx="144.3" cy="344.9" rx="1.61" ry="1.26" fill="none" stroke="#cd474d" stroke-width="0.6" opacity="0.85"/>
<ellipse cx="141.9" cy="343.6" rx="5.17" ry="4.05" fill="none" stroke="#5057b8" stroke-width="0.55" opacity="0.85"/>
<ellipse cx="141.9" cy="343.6" rx="4.02" ry="3.15" fill="none" stroke="#5057b8" stroke-width="0.55" opacity="0.85"/>
<ellipse cx="141.9" cy="343.6" rx="2.88" ry="2.25" fill="none" stroke="#5057b8" stroke-width="0.55" opacity="0.85"/>
<ellipse cx="141.9" cy="343.6" rx="1.72" ry="1.35" fill="none" stroke="#5057b8" stroke-width="0.55" opacity="0.85"/>
<ellipse cx="143.1" cy="354.2" rx="7" ry="4.5" fill="none" stroke="#cd474d" stroke-width="0.6" opacity="0.85"/>
<ellipse cx="143.1" cy="354.2" rx="5.74" ry="3.69" fill="none" stroke="#cd474d" stroke-width="0.6" opacity="0.85"/>
<ellipse cx="143.1" cy="354.2" rx="4.48" ry="2.88" fill="none" stroke="#cd474d" stroke-width="0.6" opacity="0.85"/>
<ellipse cx="143.1" cy="354.2" rx="3.22" ry="2.07" fill="none" stroke="#cd474d" stroke-width="0.6" opacity="0.85"/>
<ellipse cx="143.1" cy="354.2" rx="1.96" ry="1.26" fill="none" stroke="#cd474d" stroke-width="0.6" opacity="0.85"/>
<ellipse cx="140.7" cy="352.9" rx="6.3" ry="4.05" fill="none" stroke="#5057b8" stroke-width="0.55" opacity="0.85"/>
<ellipse cx="140.7" cy="352.9" rx="4.9" ry="3.15" fill="none" stroke="#5057b8" stroke-width="0.55" opacity="0.85"/>
<ellipse cx="140.7" cy="352.9" rx="3.5" ry="2.25" fill="none" stroke="#5057b8" stroke-width="0.55" opacity="0.85"/>
<ellipse cx="140.7" cy="352.9" rx="2.1" ry="1.35" fill="none" stroke="#5057b8" stroke-width="0.55" opacity="0.85"/>
<ellipse cx="129.3" cy="359.4" rx="5.75" ry="3.5" fill="none" stroke="#cd474d" stroke-width="0.6" opacity="0.85"/>
<ellipse cx="129.3" cy="359.4" rx="4.72" ry="2.87" fill="none" stroke="#cd474d" stroke-width="0.6" opacity="0.85"/>
<ellipse cx="129.3" cy="359.4" rx="3.68" ry="2.24" fill="none" stroke="#cd474d" stroke-width="0.6" opacity="0.85"/>
<ellipse cx="129.3" cy="359.4" rx="2.64" ry="1.61" fill="none" stroke="#cd474d" stroke-width="0.6" opacity="0.85"/>
<ellipse cx="129.3" cy="359.4" rx="1.61" ry="0.98" fill="none" stroke="#cd474d" stroke-width="0.6" opacity="0.85"/>
<ellipse cx="124" cy="356" rx="3" ry="4" fill="none" stroke="#cd474d" stroke-width="0.6" opacity="0.85"/>
<ellipse cx="124" cy="356" rx="2.46" ry="3.28" fill="none" stroke="#cd474d" stroke-width="0.6" opacity="0.85"/>
<ellipse cx="124" cy="356" rx="1.92" ry="2.56" fill="none" stroke="#cd474d" stroke-width="0.6" opacity="0.85"/>
<ellipse cx="124" cy="356" rx="1.38" ry="1.84" fill="none" stroke="#cd474d" stroke-width="0.6" opacity="0.85"/>
<ellipse cx="124" cy="356" rx="0.84" ry="1.12" fill="none" stroke="#cd474d" stroke-width="0.6" opacity="0.85"/>
<ellipse cx="182.5" cy="335" rx="5.25" ry="3.5" fill="none" stroke="#cd474d" stroke-width="0.6" opacity="0.85"/>
<ellipse cx="182.5" cy="335" rx="4.31" ry="2.87" fill="none" stroke="#cd474d" stroke-width="0.6" opacity="0.85"/>
<ellipse cx="182.5" cy="335" rx="3.36" ry="2.24" fill="none" stroke="#cd474d" stroke-width="0.6" opacity="0.85"/>
<ellipse cx="182.5" cy="335" rx="2.42" ry="1.61" fill="none" stroke="#cd474d" stroke-width="0.6" opacity="0.85"/>
<ellipse cx="182.5" cy="335" rx="1.47" ry="0.98" fill="none" stroke="#cd474d" stroke-width="0.6" opacity="0.85"/>
<ellipse cx="223" cy="311.3" rx="8" ry="5" fill="none" stroke="#cd474d" stroke-width="0.6" opacity="0.85"/>
<ellipse cx="223" cy="311.3" rx="6.56" ry="4.1" fill="none" stroke="#cd474d" stroke-width="0.6" opacity="0.85"/>
<ellipse cx="223" cy="311.3" rx="5.12" ry="3.2" fill="none" stroke="#cd474d" stroke-width="0.6" opacity="0.85"/>
<ellipse cx="223" cy="311.3" rx="3.68" ry="2.3" fill="none" stroke="#cd474d" stroke-width="0.6" opacity="0.85"/>
<ellipse cx="223" cy="311.3" rx="2.24" ry="1.4" fill="none" stroke="#cd474d" stroke-width="0.6" opacity="0.85"/>
<ellipse cx="220.6" cy="310" rx="7.2" ry="4.5" fill="none" stroke="#5057b8" stroke-width="0.55" opacity="0.85"/>
<ellipse cx="220.6" cy="310" rx="5.6" ry="3.5" fill="none" stroke="#5057b8" stroke-width="0.55" opacity="0.85"/>
<ellipse cx="220.6" cy="310" rx="4" ry="2.5" fill="none" stroke="#5057b8" stroke-width="0.55" opacity="0.85"/>
<ellipse cx="220.6" cy="310" rx="2.4" ry="1.5" fill="none" stroke="#5057b8" stroke-width="0.55" opacity="0.85"/>
<ellipse cx="225.3" cy="305" rx="5" ry="3.5" fill="none" stroke="#cd474d" stroke-width="0.6" opacity="0.85"/>
<ellipse cx="225.3" cy="305" rx="4.1" ry="2.87" fill="none" stroke="#cd474d" stroke-width="0.6" opacity="0.85"/>
<ellipse cx="225.3" cy="305" rx="3.2" ry="2.24" fill="none" stroke="#cd474d" stroke-width="0.6" opacity="0.85"/>
<ellipse cx="225.3" cy="305" rx="2.3" ry="1.61" fill="none" stroke="#cd474d" stroke-width="0.6" opacity="0.85"/>
<ellipse cx="225.3" cy="305" rx="1.4" ry="0.98" fill="none" stroke="#cd474d" stroke-width="0.6" opacity="0.85"/>
<ellipse cx="224.2" cy="318.8" rx="6" ry="3" fill="none" stroke="#cd474d" stroke-width="0.6" opacity="0.85"/>
<ellipse cx="224.2" cy="318.8" rx="4.92" ry="2.46" fill="none" stroke="#cd474d" stroke-width="0.6" opacity="0.85"/>
<ellipse cx="224.2" cy="318.8" rx="3.84" ry="1.92" fill="none" stroke="#cd474d" stroke-width="0.6" opacity="0.85"/>
<ellipse cx="224.2" cy="318.8" rx="2.76" ry="1.38" fill="none" stroke="#cd474d" stroke-width="0.6" opacity="0.85"/>
<ellipse cx="224.2" cy="318.8" rx="1.68" ry="0.84" fill="none" stroke="#cd474d" stroke-width="0.6" opacity="0.85"/>
<ellipse cx="231.1" cy="326.6" rx="6" ry="4" fill="none" stroke="#cd474d" stroke-width="0.6" opacity="0.85"/>
<ellipse cx="231.1" cy="326.6" rx="4.92" ry="3.28" fill="none" stroke="#cd474d" stroke-width="0.6" opacity="0.85"/>
<ellipse cx="231.1" cy="326.6" rx="3.84" ry="2.56" fill="none" stroke="#cd474d" stroke-width="0.6" opacity="0.85"/>
<ellipse cx="231.1" cy="326.6" rx="2.76" ry="1.84" fill="none" stroke="#cd474d" stroke-width="0.6" opacity="0.85"/>
<ellipse cx="231.1" cy="326.6" rx="1.68" ry="1.12" fill="none" stroke="#cd474d" stroke-width="0.6" opacity="0.85"/>
<ellipse cx="228.7" cy="325.3" rx="5.4" ry="3.6" fill="none" stroke="#5057b8" stroke-width="0.55" opacity="0.85"/>
<ellipse cx="228.7" cy="325.3" rx="4.2" ry="2.8" fill="none" stroke="#5057b8" stroke-width="0.55" opacity="0.85"/>
<ellipse cx="228.7" cy="325.3" rx="3" ry="2" fill="none" stroke="#5057b8" stroke-width="0.55" opacity="0.85"/>
<ellipse cx="228.7" cy="325.3" rx="1.8" ry="1.2" fill="none" stroke="#5057b8" stroke-width="0.55" opacity="0.85"/>
<ellipse cx="237.1" cy="323.6" rx="6" ry="4" fill="none" stroke="#cd474d" stroke-width="0.6" opacity="0.85"/>
<ellipse cx="237.1" cy="323.6" rx="4.92" ry="3.28" fill="none" stroke="#cd474d" stroke-width="0.6" opacity="0.85"/>
<ellipse cx="237.1" cy="323.6" rx="3.84" ry="2.56" fill="none" stroke="#cd474d" stroke-width="0.6" opacity="0.85"/>
<ellipse cx="237.1" cy="323.6" rx="2.76" ry="1.84" fill="none" stroke="#cd474d" stroke-width="0.6" opacity="0.85"/>
<ellipse cx="237.1" cy="323.6" rx="1.68" ry="1.12" fill="none" stroke="#cd474d" stroke-width="0.6" opacity="0.85"/>
<ellipse cx="234.7" cy="322.3" rx="5.4" ry="3.6" fill="none" stroke="#5057b8" stroke-width="0.55" opacity="0.85"/>
<ellipse cx="234.7" cy="322.3" rx="4.2" ry="2.8" fill="none" stroke="#5057b8" stroke-width="0.55" opacity="0.85"/>
<ellipse cx="234.7" cy="322.3" rx="3" ry="2" fill="none" stroke="#5057b8" stroke-width="0.55" opacity="0.85"/>
<ellipse cx="234.7" cy="322.3" rx="1.8" ry="1.2" fill="none" stroke="#5057b8" stroke-width="0.55" opacity="0.85"/>
<ellipse cx="235.1" cy="331.6" rx="5" ry="3.5" fill="none" stroke="#cd474d" stroke-width="0.6" opacity="0.85"/>
<ellipse cx="235.1" cy="331.6" rx="4.1" ry="2.87" fill="none" stroke="#cd474d" stroke-width="0.6" opacity="0.85"/>
<ellipse cx="235.1" cy="331.6" rx="3.2" ry="2.24" fill="none" stroke="#cd474d" stroke-width="0.6" opacity="0.85"/>
<ellipse cx="235.1" cy="331.6" rx="2.3" ry="1.61" fill="none" stroke="#cd474d" stroke-width="0.6" opacity="0.85"/>
<ellipse cx="235.1" cy="331.6" rx="1.4" ry="0.98" fill="none" stroke="#cd474d" stroke-width="0.6" opacity="0.85"/>
<ellipse cx="232.7" cy="330.3" rx="4.5" ry="3.15" fill="none" stroke="#5057b8" stroke-width="0.55" opacity="0.85"/>
<ellipse cx="232.7" cy="330.3" rx="3.5" ry="2.45" fill="none" stroke="#5057b8" stroke-width="0.55" opacity="0.85"/>
<ellipse cx="232.7" cy="330.3" rx="2.5" ry="1.75" fill="none" stroke="#5057b8" stroke-width="0.55" opacity="0.85"/>
<ellipse cx="232.7" cy="330.3" rx="1.5" ry="1.05" fill="none" stroke="#5057b8" stroke-width="0.55" opacity="0.85"/>
<ellipse cx="245.1" cy="325.6" rx="7" ry="5" fill="none" stroke="#cd474d" stroke-width="0.6" opacity="0.85"/>
<ellipse cx="245.1" cy="325.6" rx="5.74" ry="4.1" fill="none" stroke="#cd474d" stroke-width="0.6" opacity="0.85"/>
<ellipse cx="245.1" cy="325.6" rx="4.48" ry="3.2" fill="none" stroke="#cd474d" stroke-width="0.6" opacity="0.85"/>
<ellipse cx="245.1" cy="325.6" rx="3.22" ry="2.3" fill="none" stroke="#cd474d" stroke-width="0.6" opacity="0.85"/>
<ellipse cx="245.1" cy="325.6" rx="1.96" ry="1.4" fill="none" stroke="#cd474d" stroke-width="0.6" opacity="0.85"/>
<ellipse cx="242.7" cy="324.3" rx="6.3" ry="4.5" fill="none" stroke="#5057b8" stroke-width="0.55" opacity="0.85"/>
<ellipse cx="242.7" cy="324.3" rx="4.9" ry="3.5" fill="none" stroke="#5057b8" stroke-width="0.55" opacity="0.85"/>
<ellipse cx="242.7" cy="324.3" rx="3.5" ry="2.5" fill="none" stroke="#5057b8" stroke-width="0.55" opacity="0.85"/>
<ellipse cx="242.7" cy="324.3" rx="2.1" ry="1.5" fill="none" stroke="#5057b8" stroke-width="0.55" opacity="0.85"/>
<ellipse cx="253.1" cy="322.6" rx="7" ry="4.5" fill="none" stroke="#cd474d" stroke-width="0.6" opacity="0.85"/>
<ellipse cx="253.1" cy="322.6" rx="5.74" ry="3.69" fill="none" stroke="#cd474d" stroke-width="0.6" opacity="0.85"/>
<ellipse cx="253.1" cy="322.6" rx="4.48" ry="2.88" fill="none" stroke="#cd474d" stroke-width="0.6" opacity="0.85"/>
<ellipse cx="253.1" cy="322.6" rx="3.22" ry="2.07" fill="none" stroke="#cd474d" stroke-width="0.6" opacity="0.85"/>
<ellipse cx="253.1" cy="322.6" rx="1.96" ry="1.26" fill="none" stroke="#cd474d" stroke-width="0.6" opacity="0.85"/>
<ellipse cx="250.7" cy="321.3" rx="6.3" ry="4.05" fill="none" stroke="#5057b8" stroke-width="0.55" opacity="0.85"/>
<ellipse cx="250.7" cy="321.3" rx="4.9" ry="3.15" fill="none" stroke="#5057b8" stroke-width="0.55" opacity="0.85"/>
<ellipse cx="250.7" cy="321.3" rx="3.5" ry="2.25" fill="none" stroke="#5057b8" stroke-width="0.55" opacity="0.85"/>
<ellipse cx="250.7" cy="321.3" rx="2.1" ry="1.35" fill="none" stroke="#5057b8" stroke-width="0.55" opacity="0.85"/>
<ellipse cx="261.1" cy="326.6" rx="7" ry="5" fill="none" stroke="#cd474d" stroke-width="0.6" opacity="0.85"/>
<ellipse cx="261.1" cy="326.6" rx="5.74" ry="4.1" fill="none" stroke="#cd474d" stroke-width="0.6" opacity="0.85"/>
<ellipse cx="261.1" cy="326.6" rx="4.48" ry="3.2" fill="none" stroke="#cd474d" stroke-width="0.6" opacity="0.85"/>
<ellipse cx="261.1" cy="326.6" rx="3.22" ry="2.3" fill="none" stroke="#cd474d" stroke-width="0.6" opacity="0.85"/>
<ellipse cx="261.1" cy="326.6" rx="1.96" ry="1.4" fill="none" stroke="#cd474d" stroke-width="0.6" opacity="0.85"/>
<ellipse cx="258.7" cy="325.3" rx="6.3" ry="4.5" fill="none" stroke="#5057b8" stroke-width="0.55" opacity="0.85"/>
<ellipse cx="258.7" cy="325.3" rx="4.9" ry="3.5" fill="none" stroke="#5057b8" stroke-width="0.55" opacity="0.85"/>
<ellipse cx="258.7" cy="325.3" rx="3.5" ry="2.5" fill="none" stroke="#5057b8" stroke-width="0.55" opacity="0.85"/>
<ellipse cx="258.7" cy="325.3" rx="2.1" ry="1.5" fill="none" stroke="#5057b8" stroke-width="0.55" opacity="0.85"/>
<ellipse cx="249.1" cy="331.6" rx="6" ry="4" fill="none" stroke="#cd474d" stroke-width="0.6" opacity="0.85"/>
<ellipse cx="249.1" cy="331.6" rx="4.92" ry="3.28" fill="none" stroke="#cd474d" stroke-width="0.6" opacity="0.85"/>
<ellipse cx="249.1" cy="331.6" rx="3.84" ry="2.56" fill="none" stroke="#cd474d" stroke-width="0.6" opacity="0.85"/>
<ellipse cx="249.1" cy="331.6" rx="2.76" ry="1.84" fill="none" stroke="#cd474d" stroke-width="0.6" opacity="0.85"/>
<ellipse cx="249.1" cy="331.6" rx="1.68" ry="1.12" fill="none" stroke="#cd474d" stroke-width="0.6" opacity="0.85"/>
<ellipse cx="246.7" cy="330.3" rx="5.4" ry="3.6" fill="none" stroke="#5057b8" stroke-width="0.55" opacity="0.85"/>
<ellipse cx="246.7" cy="330.3" rx="4.2" ry="2.8" fill="none" stroke="#5057b8" stroke-width="0.55" opacity="0.85"/>
<ellipse cx="246.7" cy="330.3" rx="3" ry="2" fill="none" stroke="#5057b8" stroke-width="0.55" opacity="0.85"/>
<ellipse cx="246.7" cy="330.3" rx="1.8" ry="1.2" fill="none" stroke="#5057b8" stroke-width="0.55" opacity="0.85"/>
<ellipse cx="257.1" cy="333.6" rx="7" ry="4" fill="none" stroke="#cd474d" stroke-width="0.6" opacity="0.85"/>
<ellipse cx="257.1" cy="333.6" rx="5.74" ry="3.28" fill="none" stroke="#cd474d" stroke-width="0.6" opacity="0.85"/>
<ellipse cx="257.1" cy="333.6" rx="4.48" ry="2.56" fill="none" stroke="#cd474d" stroke-width="0.6" opacity="0.85"/>
<ellipse cx="257.1" cy="333.6" rx="3.22" ry="1.84" fill="none" stroke="#cd474d" stroke-width="0.6" opacity="0.85"/>
<ellipse cx="257.1" cy="333.6" rx="1.96" ry="1.12" fill="none" stroke="#cd474d" stroke-width="0.6" opacity="0.85"/>
<ellipse cx="254.7" cy="332.3" rx="6.3" ry="3.6" fill="none" stroke="#5057b8" stroke-width="0.55" opacity="0.85"/>
<ellipse cx="254.7" cy="332.3" rx="4.9" ry="2.8" fill="none" stroke="#5057b8" stroke-width="0.55" opacity="0.85"/>
<ellipse cx="254.7" cy="332.3" rx="3.5" ry="2" fill="none" stroke="#5057b8" stroke-width="0.55" opacity="0.85"/>
<ellipse cx="254.7" cy="332.3" rx="2.1" ry="1.2" fill="none" stroke="#5057b8" stroke-width="0.55" opacity="0.85"/>
<ellipse cx="266.1" cy="329.6" rx="5" ry="4" fill="none" stroke="#cd474d" stroke-width="0.6" opacity="0.85"/>
<ellipse cx="266.1" cy="329.6" rx="4.1" ry="3.28" fill="none" stroke="#cd474d" stroke-width="0.6" opacity="0.85"/>
<ellipse cx="266.1" cy="329.6" rx="3.2" ry="2.56" fill="none" stroke="#cd474d" stroke-width="0.6" opacity="0.85"/>
<ellipse cx="266.1" cy="329.6" rx="2.3" ry="1.84" fill="none" stroke="#cd474d" stroke-width="0.6" opacity="0.85"/>
<ellipse cx="266.1" cy="329.6" rx="1.4" ry="1.12" fill="none" stroke="#cd474d" stroke-width="0.6" opacity="0.85"/>
<ellipse cx="263.7" cy="328.3" rx="4.5" ry="3.6" fill="none" stroke="#5057b8" stroke-width="0.55" opacity="0.85"/>
<ellipse cx="263.7" cy="328.3" rx="3.5" ry="2.8" fill="none" stroke="#5057b8" stroke-width="0.55" opacity="0.85"/>
<ellipse cx="263.7" cy="328.3" rx="2.5" ry="2" fill="none" stroke="#5057b8" stroke-width="0.55" opacity="0.85"/>
<ellipse cx="263.7" cy="328.3" rx="1.5" ry="1.2" fill="none" stroke="#5057b8" stroke-width="0.55" opacity="0.85"/>
<ellipse cx="243" cy="336" rx="5" ry="3.5" fill="none" stroke="#cd474d" stroke-width="0.6" opacity="0.85"/>
<ellipse cx="243" cy="336" rx="4.1" ry="2.87" fill="none" stroke="#cd474d" stroke-width="0.6" opacity="0.85"/>
<ellipse cx="243" cy="336" rx="3.2" ry="2.24" fill="none" stroke="#cd474d" stroke-width="0.6" opacity="0.85"/>
<ellipse cx="243" cy="336" rx="2.3" ry="1.61" fill="none" stroke="#cd474d" stroke-width="0.6" opacity="0.85"/>
<ellipse cx="243" cy="336" rx="1.4" ry="0.98" fill="none" stroke="#cd474d" stroke-width="0.6" opacity="0.85"/>
<ellipse cx="271.6" cy="325.2" rx="6" ry="4" fill="none" stroke="#cd474d" stroke-width="0.6" opacity="0.85"/>
<ellipse cx="271.6" cy="325.2" rx="4.92" ry="3.28" fill="none" stroke="#cd474d" stroke-width="0.6" opacity="0.85"/>
<ellipse cx="271.6" cy="325.2" rx="3.84" ry="2.56" fill="none" stroke="#cd474d" stroke-width="0.6" opacity="0.85"/>
<ellipse cx="271.6" cy="325.2" rx="2.76" ry="1.84" fill="none" stroke="#cd474d" stroke-width="0.6" opacity="0.85"/>
<ellipse cx="271.6" cy="325.2" rx="1.68" ry="1.12" fill="none" stroke="#cd474d" stroke-width="0.6" opacity="0.85"/>
<ellipse cx="269.2" cy="323.9" rx="5.4" ry="3.6" fill="none" stroke="#5057b8" stroke-width="0.55" opacity="0.85"/>
<ellipse cx="269.2" cy="323.9" rx="4.2" ry="2.8" fill="none" stroke="#5057b8" stroke-width="0.55" opacity="0.85"/>
<ellipse cx="269.2" cy="323.9" rx="3" ry="2" fill="none" stroke="#5057b8" stroke-width="0.55" opacity="0.85"/>
<ellipse cx="269.2" cy="323.9" rx="1.8" ry="1.2" fill="none" stroke="#5057b8" stroke-width="0.55" opacity="0.85"/>
<ellipse cx="261.2" cy="333.9" rx="5" ry="3.5" fill="none" stroke="#cd474d" stroke-width="0.6" opacity="0.85"/>
<ellipse cx="261.2" cy="333.9" rx="4.1" ry="2.87" fill="none" stroke="#cd474d" stroke-width="0.6" opacity="0.85"/>
<ellipse cx="261.2" cy="333.9" rx="3.2" ry="2.24" fill="none" stroke="#cd474d" stroke-width="0.6" opacity="0.85"/>
<ellipse cx="261.2" cy="333.9" rx="2.3" ry="1.61" fill="none" stroke="#cd474d" stroke-width="0.6" opacity="0.85"/>
<ellipse cx="261.2" cy="333.9" rx="1.4" ry="0.98" fill="none" stroke="#cd474d" stroke-width="0.6" opacity="0.85"/>
<ellipse cx="217.2" cy="340.8" rx="5.75" ry="4.5" fill="none" stroke="#cd474d" stroke-width="0.6" opacity="0.85"/>
<ellipse cx="217.2" cy="340.8" rx="4.72" ry="3.69" fill="none" stroke="#cd474d" stroke-width="0.6" opacity="0.85"/>
<ellipse cx="217.2" cy="340.8" rx="3.68" ry="2.88" fill="none" stroke="#cd474d" stroke-width="0.6" opacity="0.85"/>
<ellipse cx="217.2" cy="340.8" rx="2.64" ry="2.07" fill="none" stroke="#cd474d" stroke-width="0.6" opacity="0.85"/>
<ellipse cx="217.2" cy="340.8" rx="1.61" ry="1.26" fill="none" stroke="#cd474d" stroke-width="0.6" opacity="0.85"/>
<ellipse cx="199.8" cy="351.9" rx="8" ry="4.5" fill="none" stroke="#cd474d" stroke-width="0.6" opacity="0.85"/>
<ellipse cx="199.8" cy="351.9" rx="6.56" ry="3.69" fill="none" stroke="#cd474d" stroke-width="0.6" opacity="0.85"/>
<ellipse cx="199.8" cy="351.9" rx="5.12" ry="2.88" fill="none" stroke="#cd474d" stroke-width="0.6" opacity="0.85"/>
<ellipse cx="199.8" cy="351.9" rx="3.68" ry="2.07" fill="none" stroke="#cd474d" stroke-width="0.6" opacity="0.85"/>
<ellipse cx="199.8" cy="351.9" rx="2.24" ry="1.26" fill="none" stroke="#cd474d" stroke-width="0.6" opacity="0.85"/>
<ellipse cx="197.4" cy="350.6" rx="7.2" ry="4.05" fill="none" stroke="#5057b8" stroke-width="0.55" opacity="0.85"/>
<ellipse cx="197.4" cy="350.6" rx="5.6" ry="3.15" fill="none" stroke="#5057b8" stroke-width="0.55" opacity="0.85"/>
<ellipse cx="197.4" cy="350.6" rx="4" ry="2.25" fill="none" stroke="#5057b8" stroke-width="0.55" opacity="0.85"/>
<ellipse cx="197.4" cy="350.6" rx="2.4" ry="1.35" fill="none" stroke="#5057b8" stroke-width="0.55" opacity="0.85"/>
<ellipse cx="228.8" cy="359.4" rx="5.25" ry="3.25" fill="none" stroke="#cd474d" stroke-width="0.6" opacity="0.85"/>
<ellipse cx="228.8" cy="359.4" rx="4.31" ry="2.67" fill="none" stroke="#cd474d" stroke-width="0.6" opacity="0.85"/>
<ellipse cx="228.8" cy="359.4" rx="3.36" ry="2.08" fill="none" stroke="#cd474d" stroke-width="0.6" opacity="0.85"/>
<ellipse cx="228.8" cy="359.4" rx="2.42" ry="1.49" fill="none" stroke="#cd474d" stroke-width="0.6" opacity="0.85"/>
<ellipse cx="228.8" cy="359.4" rx="1.47" ry="0.91" fill="none" stroke="#cd474d" stroke-width="0.6" opacity="0.85"/>
<ellipse cx="237.1" cy="360.6" rx="6" ry="4" fill="none" stroke="#cd474d" stroke-width="0.6" opacity="0.85"/>
<ellipse cx="237.1" cy="360.6" rx="4.92" ry="3.28" fill="none" stroke="#cd474d" stroke-width="0.6" opacity="0.85"/>
<ellipse cx="237.1" cy="360.6" rx="3.84" ry="2.56" fill="none" stroke="#cd474d" stroke-width="0.6" opacity="0.85"/>
<ellipse cx="237.1" cy="360.6" rx="2.76" ry="1.84" fill="none" stroke="#cd474d" stroke-width="0.6" opacity="0.85"/>
<ellipse cx="237.1" cy="360.6" rx="1.68" ry="1.12" fill="none" stroke="#cd474d" stroke-width="0.6" opacity="0.85"/>
<ellipse cx="234.7" cy="359.3" rx="5.4" ry="3.6" fill="none" stroke="#5057b8" stroke-width="0.55" opacity="0.85"/>
<ellipse cx="234.7" cy="359.3" rx="4.2" ry="2.8" fill="none" stroke="#5057b8" stroke-width="0.55" opacity="0.85"/>
<ellipse cx="234.7" cy="359.3" rx="3" ry="2" fill="none" stroke="#5057b8" stroke-width="0.55" opacity="0.85"/>
<ellipse cx="234.7" cy="359.3" rx="1.8" ry="1.2" fill="none" stroke="#5057b8" stroke-width="0.55" opacity="0.85"/>
<ellipse cx="241.1" cy="366.6" rx="5" ry="3.5" fill="none" stroke="#cd474d" stroke-width="0.6" opacity="0.85"/>
<ellipse cx="241.1" cy="366.6" rx="4.1" ry="2.87" fill="none" stroke="#cd474d" stroke-width="0.6" opacity="0.85"/>
<ellipse cx="241.1" cy="366.6" rx="3.2" ry="2.24" fill="none" stroke="#cd474d" stroke-width="0.6" opacity="0.85"/>
<ellipse cx="241.1" cy="366.6" rx="2.3" ry="1.61" fill="none" stroke="#cd474d" stroke-width="0.6" opacity="0.85"/>
<ellipse cx="241.1" cy="366.6" rx="1.4" ry="0.98" fill="none" stroke="#cd474d" stroke-width="0.6" opacity="0.85"/>
<ellipse cx="238.7" cy="365.3" rx="4.5" ry="3.15" fill="none" stroke="#5057b8" stroke-width="0.55" opacity="0.85"/>
<ellipse cx="238.7" cy="365.3" rx="3.5" ry="2.45" fill="none" stroke="#5057b8" stroke-width="0.55" opacity="0.85"/>
<ellipse cx="238.7" cy="365.3" rx="2.5" ry="1.75" fill="none" stroke="#5057b8" stroke-width="0.55" opacity="0.85"/>
<ellipse cx="238.7" cy="365.3" rx="1.5" ry="1.05" fill="none" stroke="#5057b8" stroke-width="0.55" opacity="0.85"/>
<ellipse cx="246.1" cy="359.6" rx="6.5" ry="4.5" fill="none" stroke="#cd474d" stroke-width="0.6" opacity="0.85"/>
<ellipse cx="246.1" cy="359.6" rx="5.33" ry="3.69" fill="none" stroke="#cd474d" stroke-width="0.6" opacity="0.85"/>
<ellipse cx="246.1" cy="359.6" rx="4.16" ry="2.88" fill="none" stroke="#cd474d" stroke-width="0.6" opacity="0.85"/>
<ellipse cx="246.1" cy="359.6" rx="2.99" ry="2.07" fill="none" stroke="#cd474d" stroke-width="0.6" opacity="0.85"/>
<ellipse cx="246.1" cy="359.6" rx="1.82" ry="1.26" fill="none" stroke="#cd474d" stroke-width="0.6" opacity="0.85"/>
<ellipse cx="243.7" cy="358.3" rx="5.85" ry="4.05" fill="none" stroke="#5057b8" stroke-width="0.55" opacity="0.85"/>
<ellipse cx="243.7" cy="358.3" rx="4.55" ry="3.15" fill="none" stroke="#5057b8" stroke-width="0.55" opacity="0.85"/>
<ellipse cx="243.7" cy="358.3" rx="3.25" ry="2.25" fill="none" stroke="#5057b8" stroke-width="0.55" opacity="0.85"/>
<ellipse cx="243.7" cy="358.3" rx="1.95" ry="1.35" fill="none" stroke="#5057b8" stroke-width="0.55" opacity="0.85"/>
<ellipse cx="254.1" cy="361.6" rx="6.5" ry="4.5" fill="none" stroke="#cd474d" stroke-width="0.6" opacity="0.85"/>
<ellipse cx="254.1" cy="361.6" rx="5.33" ry="3.69" fill="none" stroke="#cd474d" stroke-width="0.6" opacity="0.85"/>
<ellipse cx="254.1" cy="361.6" rx="4.16" ry="2.88" fill="none" stroke="#cd474d" stroke-width="0.6" opacity="0.85"/>
<ellipse cx="254.1" cy="361.6" rx="2.99" ry="2.07" fill="none" stroke="#cd474d" stroke-width="0.6" opacity="0.85"/>
<ellipse cx="254.1" cy="361.6" rx="1.82" ry="1.26" fill="none" stroke="#cd474d" stroke-width="0.6" opacity="0.85"/>
<ellipse cx="251.7" cy="360.3" rx="5.85" ry="4.05" fill="none" stroke="#5057b8" stroke-width="0.55" opacity="0.85"/>
<ellipse cx="251.7" cy="360.3" rx="4.55" ry="3.15" fill="none" stroke="#5057b8" stroke-width="0.55" opacity="0.85"/>
<ellipse cx="251.7" cy="360.3" rx="3.25" ry="2.25" fill="none" stroke="#5057b8" stroke-width="0.55" opacity="0.85"/>
<ellipse cx="251.7" cy="360.3" rx="1.95" ry="1.35" fill="none" stroke="#5057b8" stroke-width="0.55" opacity="0.85"/>
<ellipse cx="262.1" cy="360.6" rx="6" ry="4" fill="none" stroke="#cd474d" stroke-width="0.6" opacity="0.85"/>
<ellipse cx="262.1" cy="360.6" rx="4.92" ry="3.28" fill="none" stroke="#cd474d" stroke-width="0.6" opacity="0.85"/>
<ellipse cx="262.1" cy="360.6" rx="3.84" ry="2.56" fill="none" stroke="#cd474d" stroke-width="0.6" opacity="0.85"/>
<ellipse cx="262.1" cy="360.6" rx="2.76" ry="1.84" fill="none" stroke="#cd474d" stroke-width="0.6" opacity="0.85"/>
<ellipse cx="262.1" cy="360.6" rx="1.68" ry="1.12" fill="none" stroke="#cd474d" stroke-width="0.6" opacity="0.85"/>
<ellipse cx="259.7" cy="359.3" rx="5.4" ry="3.6" fill="none" stroke="#5057b8" stroke-width="0.55" opacity="0.85"/>
<ellipse cx="259.7" cy="359.3" rx="4.2" ry="2.8" fill="none" stroke="#5057b8" stroke-width="0.55" opacity="0.85"/>
<ellipse cx="259.7" cy="359.3" rx="3" ry="2" fill="none" stroke="#5057b8" stroke-width="0.55" opacity="0.85"/>
<ellipse cx="259.7" cy="359.3" rx="1.8" ry="1.2" fill="none" stroke="#5057b8" stroke-width="0.55" opacity="0.85"/>
<ellipse cx="249.1" cy="367.6" rx="6" ry="4" fill="none" stroke="#cd474d" stroke-width="0.6" opacity="0.85"/>
<ellipse cx="249.1" cy="367.6" rx="4.92" ry="3.28" fill="none" stroke="#cd474d" stroke-width="0.6" opacity="0.85"/>
<ellipse cx="249.1" cy="367.6" rx="3.84" ry="2.56" fill="none" stroke="#cd474d" stroke-width="0.6" opacity="0.85"/>
<ellipse cx="249.1" cy="367.6" rx="2.76" ry="1.84" fill="none" stroke="#cd474d" stroke-width="0.6" opacity="0.85"/>
<ellipse cx="249.1" cy="367.6" rx="1.68" ry="1.12" fill="none" stroke="#cd474d" stroke-width="0.6" opacity="0.85"/>
<ellipse cx="246.7" cy="366.3" rx="5.4" ry="3.6" fill="none" stroke="#5057b8" stroke-width="0.55" opacity="0.85"/>
<ellipse cx="246.7" cy="366.3" rx="4.2" ry="2.8" fill="none" stroke="#5057b8" stroke-width="0.55" opacity="0.85"/>
<ellipse cx="246.7" cy="366.3" rx="3" ry="2" fill="none" stroke="#5057b8" stroke-width="0.55" opacity="0.85"/>
<ellipse cx="246.7" cy="366.3" rx="1.8" ry="1.2" fill="none" stroke="#5057b8" stroke-width="0.55" opacity="0.85"/>
<ellipse cx="258.1" cy="369.6" rx="6" ry="4" fill="none" stroke="#cd474d" stroke-width="0.6" opacity="0.85"/>
<ellipse cx="258.1" cy="369.6" rx="4.92" ry="3.28" fill="none" stroke="#cd474d" stroke-width="0.6" opacity="0.85"/>
<ellipse cx="258.1" cy="369.6" rx="3.84" ry="2.56" fill="none" stroke="#cd474d" stroke-width="0.6" opacity="0.85"/>
<ellipse cx="258.1" cy="369.6" rx="2.76" ry="1.84" fill="none" stroke="#cd474d" stroke-width="0.6" opacity="0.85"/>
<ellipse cx="258.1" cy="369.6" rx="1.68" ry="1.12" fill="none" stroke="#cd474d" stroke-width="0.6" opacity="0.85"/>
<ellipse cx="255.7" cy="368.3" rx="5.4" ry="3.6" fill="none" stroke="#5057b8" stroke-width="0.55" opacity="0.85"/>
<ellipse cx="255.7" cy="368.3" rx="4.2" ry="2.8" fill="none" stroke="#5057b8" stroke-width="0.55" opacity="0.85"/>
<ellipse cx="255.7" cy="368.3" rx="3" ry="2" fill="none" stroke="#5057b8" stroke-width="0.55" opacity="0.85"/>
<ellipse cx="255.7" cy="368.3" rx="1.8" ry="1.2" fill="none" stroke="#5057b8" stroke-width="0.55" opacity="0.85"/>
<ellipse cx="247.1" cy="373.6" rx="5" ry="3.5" fill="none" stroke="#cd474d" stroke-width="0.6" opacity="0.85"/>
<ellipse cx="247.1" cy="373.6" rx="4.1" ry="2.87" fill="none" stroke="#cd474d" stroke-width="0.6" opacity="0.85"/>
<ellipse cx="247.1" cy="373.6" rx="3.2" ry="2.24" fill="none" stroke="#cd474d" stroke-width="0.6" opacity="0.85"/>
<ellipse cx="247.1" cy="373.6" rx="2.3" ry="1.61" fill="none" stroke="#cd474d" stroke-width="0.6" opacity="0.85"/>
<ellipse cx="247.1" cy="373.6" rx="1.4" ry="0.98" fill="none" stroke="#cd474d" stroke-width="0.6" opacity="0.85"/>
<ellipse cx="244.7" cy="372.3" rx="4.5" ry="3.15" fill="none" stroke="#5057b8" stroke-width="0.55" opacity="0.85"/>
<ellipse cx="244.7" cy="372.3" rx="3.5" ry="2.45" fill="none" stroke="#5057b8" stroke-width="0.55" opacity="0.85"/>
<ellipse cx="244.7" cy="372.3" rx="2.5" ry="1.75" fill="none" stroke="#5057b8" stroke-width="0.55" opacity="0.85"/>
<ellipse cx="244.7" cy="372.3" rx="1.5" ry="1.05" fill="none" stroke="#5057b8" stroke-width="0.55" opacity="0.85"/>
<ellipse cx="276.2" cy="357.6" rx="5.5" ry="4" fill="none" stroke="#cd474d" stroke-width="0.6" opacity="0.85"/>
<ellipse cx="276.2" cy="357.6" rx="4.51" ry="3.28" fill="none" stroke="#cd474d" stroke-width="0.6" opacity="0.85"/>
<ellipse cx="276.2" cy="357.6" rx="3.52" ry="2.56" fill="none" stroke="#cd474d" stroke-width="0.6" opacity="0.85"/>
<ellipse cx="276.2" cy="357.6" rx="2.53" ry="1.84" fill="none" stroke="#cd474d" stroke-width="0.6" opacity="0.85"/>
<ellipse cx="276.2" cy="357.6" rx="1.54" ry="1.12" fill="none" stroke="#cd474d" stroke-width="0.6" opacity="0.85"/>
<ellipse cx="273.8" cy="356.3" rx="4.95" ry="3.6" fill="none" stroke="#5057b8" stroke-width="0.55" opacity="0.85"/>
<ellipse cx="273.8" cy="356.3" rx="3.85" ry="2.8" fill="none" stroke="#5057b8" stroke-width="0.55" opacity="0.85"/>
<ellipse cx="273.8" cy="356.3" rx="2.75" ry="2" fill="none" stroke="#5057b8" stroke-width="0.55" opacity="0.85"/>
<ellipse cx="273.8" cy="356.3" rx="1.65" ry="1.2" fill="none" stroke="#5057b8" stroke-width="0.55" opacity="0.85"/>
<ellipse cx="282" cy="354" rx="3" ry="4" fill="none" stroke="#cd474d" stroke-width="0.6" opacity="0.85"/>
<ellipse cx="282" cy="354" rx="2.46" ry="3.28" fill="none" stroke="#cd474d" stroke-width="0.6" opacity="0.85"/>
<ellipse cx="282" cy="354" rx="1.92" ry="2.56" fill="none" stroke="#cd474d" stroke-width="0.6" opacity="0.85"/>
<ellipse cx="282" cy="354" rx="1.38" ry="1.84" fill="none" stroke="#cd474d" stroke-width="0.6" opacity="0.85"/>
<ellipse cx="282" cy="354" rx="0.84" ry="1.12" fill="none" stroke="#cd474d" stroke-width="0.6" opacity="0.85"/>
<ellipse cx="167.4" cy="369.2" rx="5.75" ry="4" fill="none" stroke="#cd474d" stroke-width="0.6" opacity="0.85"/>
<ellipse cx="167.4" cy="369.2" rx="4.72" ry="3.28" fill="none" stroke="#cd474d" stroke-width="0.6" opacity="0.85"/>
<ellipse cx="167.4" cy="369.2" rx="3.68" ry="2.56" fill="none" stroke="#cd474d" stroke-width="0.6" opacity="0.85"/>
<ellipse cx="167.4" cy="369.2" rx="2.64" ry="1.84" fill="none" stroke="#cd474d" stroke-width="0.6" opacity="0.85"/>
<ellipse cx="167.4" cy="369.2" rx="1.61" ry="1.12" fill="none" stroke="#cd474d" stroke-width="0.6" opacity="0.85"/>
<ellipse cx="165" cy="367.9" rx="5.17" ry="3.6" fill="none" stroke="#5057b8" stroke-width="0.55" opacity="0.85"/>
<ellipse cx="165" cy="367.9" rx="4.02" ry="2.8" fill="none" stroke="#5057b8" stroke-width="0.55" opacity="0.85"/>
<ellipse cx="165" cy="367.9" rx="2.88" ry="2" fill="none" stroke="#5057b8" stroke-width="0.55" opacity="0.85"/>
<ellipse cx="165" cy="367.9" rx="1.72" ry="1.2" fill="none" stroke="#5057b8" stroke-width="0.55" opacity="0.85"/>
<ellipse cx="184.8" cy="367.5" rx="4.5" ry="3.5" fill="none" stroke="#cd474d" stroke-width="0.6" opacity="0.85"/>
<ellipse cx="184.8" cy="367.5" rx="3.69" ry="2.87" fill="none" stroke="#cd474d" stroke-width="0.6" opacity="0.85"/>
<ellipse cx="184.8" cy="367.5" rx="2.88" ry="2.24" fill="none" stroke="#cd474d" stroke-width="0.6" opacity="0.85"/>
<ellipse cx="184.8" cy="367.5" rx="2.07" ry="1.61" fill="none" stroke="#cd474d" stroke-width="0.6" opacity="0.85"/>
<ellipse cx="184.8" cy="367.5" rx="1.26" ry="0.98" fill="none" stroke="#cd474d" stroke-width="0.6" opacity="0.85"/>
<ellipse cx="146.1" cy="378.1" rx="6" ry="4" fill="none" stroke="#cd474d" stroke-width="0.6" opacity="0.85"/>
<ellipse cx="146.1" cy="378.1" rx="4.92" ry="3.28" fill="none" stroke="#cd474d" stroke-width="0.6" opacity="0.85"/>
<ellipse cx="146.1" cy="378.1" rx="3.84" ry="2.56" fill="none" stroke="#cd474d" stroke-width="0.6" opacity="0.85"/>
<ellipse cx="146.1" cy="378.1" rx="2.76" ry="1.84" fill="none" stroke="#cd474d" stroke-width="0.6" opacity="0.85"/>
<ellipse cx="146.1" cy="378.1" rx="1.68" ry="1.12" fill="none" stroke="#cd474d" stroke-width="0.6" opacity="0.85"/>
<ellipse cx="143.7" cy="376.8" rx="5.4" ry="3.6" fill="none" stroke="#5057b8" stroke-width="0.55" opacity="0.85"/>
<ellipse cx="143.7" cy="376.8" rx="4.2" ry="2.8" fill="none" stroke="#5057b8" stroke-width="0.55" opacity="0.85"/>
<ellipse cx="143.7" cy="376.8" rx="3" ry="2" fill="none" stroke="#5057b8" stroke-width="0.55" opacity="0.85"/>
<ellipse cx="143.7" cy="376.8" rx="1.8" ry="1.2" fill="none" stroke="#5057b8" stroke-width="0.55" opacity="0.85"/>
<ellipse cx="155.1" cy="378.1" rx="6" ry="4" fill="none" stroke="#cd474d" stroke-width="0.6" opacity="0.85"/>
<ellipse cx="155.1" cy="378.1" rx="4.92" ry="3.28" fill="none" stroke="#cd474d" stroke-width="0.6" opacity="0.85"/>
<ellipse cx="155.1" cy="378.1" rx="3.84" ry="2.56" fill="none" stroke="#cd474d" stroke-width="0.6" opacity="0.85"/>
<ellipse cx="155.1" cy="378.1" rx="2.76" ry="1.84" fill="none" stroke="#cd474d" stroke-width="0.6" opacity="0.85"/>
<ellipse cx="155.1" cy="378.1" rx="1.68" ry="1.12" fill="none" stroke="#cd474d" stroke-width="0.6" opacity="0.85"/>
<ellipse cx="152.7" cy="376.8" rx="5.4" ry="3.6" fill="none" stroke="#5057b8" stroke-width="0.55" opacity="0.85"/>
<ellipse cx="152.7" cy="376.8" rx="4.2" ry="2.8" fill="none" stroke="#5057b8" stroke-width="0.55" opacity="0.85"/>
<ellipse cx="152.7" cy="376.8" rx="3" ry="2" fill="none" stroke="#5057b8" stroke-width="0.55" opacity="0.85"/>
<ellipse cx="152.7" cy="376.8" rx="1.8" ry="1.2" fill="none" stroke="#5057b8" stroke-width="0.55" opacity="0.85"/>
<ellipse cx="164.1" cy="377.6" rx="6" ry="4" fill="none" stroke="#cd474d" stroke-width="0.6" opacity="0.85"/>
<ellipse cx="164.1" cy="377.6" rx="4.92" ry="3.28" fill="none" stroke="#cd474d" stroke-width="0.6" opacity="0.85"/>
<ellipse cx="164.1" cy="377.6" rx="3.84" ry="2.56" fill="none" stroke="#cd474d" stroke-width="0.6" opacity="0.85"/>
<ellipse cx="164.1" cy="377.6" rx="2.76" ry="1.84" fill="none" stroke="#cd474d" stroke-width="0.6" opacity="0.85"/>
<ellipse cx="164.1" cy="377.6" rx="1.68" ry="1.12" fill="none" stroke="#cd474d" stroke-width="0.6" opacity="0.85"/>
<ellipse cx="161.7" cy="376.3" rx="5.4" ry="3.6" fill="none" stroke="#5057b8" stroke-width="0.55" opacity="0.85"/>
<ellipse cx="161.7" cy="376.3" rx="4.2" ry="2.8" fill="none" stroke="#5057b8" stroke-width="0.55" opacity="0.85"/>
<ellipse cx="161.7" cy="376.3" rx="3" ry="2" fill="none" stroke="#5057b8" stroke-width="0.55" opacity="0.85"/>
<ellipse cx="161.7" cy="376.3" rx="1.8" ry="1.2" fill="none" stroke="#5057b8" stroke-width="0.55" opacity="0.85"/>
<ellipse cx="173.1" cy="377.6" rx="6" ry="4" fill="none" stroke="#cd474d" stroke-width="0.6" opacity="0.85"/>
<ellipse cx="173.1" cy="377.6" rx="4.92" ry="3.28" fill="none" stroke="#cd474d" stroke-width="0.6" opacity="0.85"/>
<ellipse cx="173.1" cy="377.6" rx="3.84" ry="2.56" fill="none" stroke="#cd474d" stroke-width="0.6" opacity="0.85"/>
<ellipse cx="173.1" cy="377.6" rx="2.76" ry="1.84" fill="none" stroke="#cd474d" stroke-width="0.6" opacity="0.85"/>
<ellipse cx="173.1" cy="377.6" rx="1.68" ry="1.12" fill="none" stroke="#cd474d" stroke-width="0.6" opacity="0.85"/>
<ellipse cx="170.7" cy="376.3" rx="5.4" ry="3.6" fill="none" stroke="#5057b8" stroke-width="0.55" opacity="0.85"/>
<ellipse cx="170.7" cy="376.3" rx="4.2" ry="2.8" fill="none" stroke="#5057b8" stroke-width="0.55" opacity="0.85"/>
<ellipse cx="170.7" cy="376.3" rx="3" ry="2" fill="none" stroke="#5057b8" stroke-width="0.55" opacity="0.85"/>
<ellipse cx="170.7" cy="376.3" rx="1.8" ry="1.2" fill="none" stroke="#5057b8" stroke-width="0.55" opacity="0.85"/>
<ellipse cx="180" cy="378" rx="5" ry="3.5" fill="none" stroke="#cd474d" stroke-width="0.6" opacity="0.85"/>
<ellipse cx="180" cy="378" rx="4.1" ry="2.87" fill="none" stroke="#cd474d" stroke-width="0.6" opacity="0.85"/>
<ellipse cx="180" cy="378" rx="3.2" ry="2.24" fill="none" stroke="#cd474d" stroke-width="0.6" opacity="0.85"/>
<ellipse cx="180" cy="378" rx="2.3" ry="1.61" fill="none" stroke="#cd474d" stroke-width="0.6" opacity="0.85"/>
<ellipse cx="180" cy="378" rx="1.4" ry="0.98" fill="none" stroke="#cd474d" stroke-width="0.6" opacity="0.85"/>
<ellipse cx="175.6" cy="387.1" rx="4.5" ry="3.5" fill="none" stroke="#cd474d" stroke-width="0.6" opacity="0.85"/>
<ellipse cx="175.6" cy="387.1" rx="3.69" ry="2.87" fill="none" stroke="#cd474d" stroke-width="0.6" opacity="0.85"/>
<ellipse cx="175.6" cy="387.1" rx="2.88" ry="2.24" fill="none" stroke="#cd474d" stroke-width="0.6" opacity="0.85"/>
<ellipse cx="175.6" cy="387.1" rx="2.07" ry="1.61" fill="none" stroke="#cd474d" stroke-width="0.6" opacity="0.85"/>
<ellipse cx="175.6" cy="387.1" rx="1.26" ry="0.98" fill="none" stroke="#cd474d" stroke-width="0.6" opacity="0.85"/>
<ellipse cx="191.8" cy="392.5" rx="4" ry="3" fill="none" stroke="#cd474d" stroke-width="0.6" opacity="0.85"/>
<ellipse cx="191.8" cy="392.5" rx="3.28" ry="2.46" fill="none" stroke="#cd474d" stroke-width="0.6" opacity="0.85"/>
<ellipse cx="191.8" cy="392.5" rx="2.56" ry="1.92" fill="none" stroke="#cd474d" stroke-width="0.6" opacity="0.85"/>
<ellipse cx="191.8" cy="392.5" rx="1.84" ry="1.38" fill="none" stroke="#cd474d" stroke-width="0.6" opacity="0.85"/>
<ellipse cx="191.8" cy="392.5" rx="1.12" ry="0.84" fill="none" stroke="#cd474d" stroke-width="0.6" opacity="0.85"/>
<ellipse cx="180.1" cy="398.2" rx="4.5" ry="3.5" fill="none" stroke="#cd474d" stroke-width="0.6" opacity="0.85"/>
<ellipse cx="180.1" cy="398.2" rx="3.69" ry="2.87" fill="none" stroke="#cd474d" stroke-width="0.6" opacity="0.85"/>
<ellipse cx="180.1" cy="398.2" rx="2.88" ry="2.24" fill="none" stroke="#cd474d" stroke-width="0.6" opacity="0.85"/>
<ellipse cx="180.1" cy="398.2" rx="2.07" ry="1.61" fill="none" stroke="#cd474d" stroke-width="0.6" opacity="0.85"/>
<ellipse cx="180.1" cy="398.2" rx="1.26" ry="0.98" fill="none" stroke="#cd474d" stroke-width="0.6" opacity="0.85"/>
<ellipse cx="177.7" cy="396.9" rx="4.05" ry="3.15" fill="none" stroke="#33399a" stroke-width="0.55" opacity="0.85"/>
<ellipse cx="177.7" cy="396.9" rx="3.15" ry="2.45" fill="none" stroke="#33399a" stroke-width="0.55" opacity="0.85"/>
<ellipse cx="177.7" cy="396.9" rx="2.25" ry="1.75" fill="none" stroke="#33399a" stroke-width="0.55" opacity="0.85"/>
<ellipse cx="177.7" cy="396.9" rx="1.35" ry="1.05" fill="none" stroke="#33399a" stroke-width="0.55" opacity="0.85"/>
<ellipse cx="152.4" cy="391.8" rx="8" ry="4.5" fill="none" stroke="#cd474d" stroke-width="0.6" opacity="0.85"/>
<ellipse cx="152.4" cy="391.8" rx="6.56" ry="3.69" fill="none" stroke="#cd474d" stroke-width="0.6" opacity="0.85"/>
<ellipse cx="152.4" cy="391.8" rx="5.12" ry="2.88" fill="none" stroke="#cd474d" stroke-width="0.6" opacity="0.85"/>
<ellipse cx="152.4" cy="391.8" rx="3.68" ry="2.07" fill="none" stroke="#cd474d" stroke-width="0.6" opacity="0.85"/>
<ellipse cx="152.4" cy="391.8" rx="2.24" ry="1.26" fill="none" stroke="#cd474d" stroke-width="0.6" opacity="0.85"/>
<ellipse cx="141.9" cy="400.5" rx="5.5" ry="4" fill="none" stroke="#cd474d" stroke-width="0.6" opacity="0.85"/>
<ellipse cx="141.9" cy="400.5" rx="4.51" ry="3.28" fill="none" stroke="#cd474d" stroke-width="0.6" opacity="0.85"/>
<ellipse cx="141.9" cy="400.5" rx="3.52" ry="2.56" fill="none" stroke="#cd474d" stroke-width="0.6" opacity="0.85"/>
<ellipse cx="141.9" cy="400.5" rx="2.53" ry="1.84" fill="none" stroke="#cd474d" stroke-width="0.6" opacity="0.85"/>
<ellipse cx="141.9" cy="400.5" rx="1.54" ry="1.12" fill="none" stroke="#cd474d" stroke-width="0.6" opacity="0.85"/>
<ellipse cx="139.5" cy="399.2" rx="4.95" ry="3.6" fill="none" stroke="#5057b8" stroke-width="0.55" opacity="0.85"/>
<ellipse cx="139.5" cy="399.2" rx="3.85" ry="2.8" fill="none" stroke="#5057b8" stroke-width="0.55" opacity="0.85"/>
<ellipse cx="139.5" cy="399.2" rx="2.75" ry="2" fill="none" stroke="#5057b8" stroke-width="0.55" opacity="0.85"/>
<ellipse cx="139.5" cy="399.2" rx="1.65" ry="1.2" fill="none" stroke="#5057b8" stroke-width="0.55" opacity="0.85"/>
<ellipse cx="128" cy="403.9" rx="5" ry="4" fill="none" stroke="#cd474d" stroke-width="0.6" opacity="0.85"/>
<ellipse cx="128" cy="403.9" rx="4.1" ry="3.28" fill="none" stroke="#cd474d" stroke-width="0.6" opacity="0.85"/>
<ellipse cx="128" cy="403.9" rx="3.2" ry="2.56" fill="none" stroke="#cd474d" stroke-width="0.6" opacity="0.85"/>
<ellipse cx="128" cy="403.9" rx="2.3" ry="1.84" fill="none" stroke="#cd474d" stroke-width="0.6" opacity="0.85"/>
<ellipse cx="128" cy="403.9" rx="1.4" ry="1.12" fill="none" stroke="#cd474d" stroke-width="0.6" opacity="0.85"/>
<ellipse cx="125.6" cy="402.6" rx="4.5" ry="3.6" fill="none" stroke="#5057b8" stroke-width="0.55" opacity="0.85"/>
<ellipse cx="125.6" cy="402.6" rx="3.5" ry="2.8" fill="none" stroke="#5057b8" stroke-width="0.55" opacity="0.85"/>
<ellipse cx="125.6" cy="402.6" rx="2.5" ry="2" fill="none" stroke="#5057b8" stroke-width="0.55" opacity="0.85"/>
<ellipse cx="125.6" cy="402.6" rx="1.5" ry="1.2" fill="none" stroke="#5057b8" stroke-width="0.55" opacity="0.85"/>
<ellipse cx="189.4" cy="422.5" rx="5.75" ry="5" fill="none" stroke="#cd474d" stroke-width="0.6" opacity="0.85"/>
<ellipse cx="189.4" cy="422.5" rx="4.72" ry="4.1" fill="none" stroke="#cd474d" stroke-width="0.6" opacity="0.85"/>
<ellipse cx="189.4" cy="422.5" rx="3.68" ry="3.2" fill="none" stroke="#cd474d" stroke-width="0.6" opacity="0.85"/>
<ellipse cx="189.4" cy="422.5" rx="2.64" ry="2.3" fill="none" stroke="#cd474d" stroke-width="0.6" opacity="0.85"/>
<ellipse cx="189.4" cy="422.5" rx="1.61" ry="1.4" fill="none" stroke="#cd474d" stroke-width="0.6" opacity="0.85"/>
<ellipse cx="187" cy="421.2" rx="5.17" ry="4.5" fill="none" stroke="#5057b8" stroke-width="0.55" opacity="0.85"/>
<ellipse cx="187" cy="421.2" rx="4.02" ry="3.5" fill="none" stroke="#5057b8" stroke-width="0.55" opacity="0.85"/>
<ellipse cx="187" cy="421.2" rx="2.88" ry="2.5" fill="none" stroke="#5057b8" stroke-width="0.55" opacity="0.85"/>
<ellipse cx="187" cy="421.2" rx="1.72" ry="1.5" fill="none" stroke="#5057b8" stroke-width="0.55" opacity="0.85"/>
<ellipse cx="157" cy="423" rx="5" ry="3.5" fill="none" stroke="#cd474d" stroke-width="0.6" opacity="0.85"/>
<ellipse cx="157" cy="423" rx="4.1" ry="2.87" fill="none" stroke="#cd474d" stroke-width="0.6" opacity="0.85"/>
<ellipse cx="157" cy="423" rx="3.2" ry="2.24" fill="none" stroke="#cd474d" stroke-width="0.6" opacity="0.85"/>
<ellipse cx="157" cy="423" rx="2.3" ry="1.61" fill="none" stroke="#cd474d" stroke-width="0.6" opacity="0.85"/>
<ellipse cx="157" cy="423" rx="1.4" ry="0.98" fill="none" stroke="#cd474d" stroke-width="0.6" opacity="0.85"/>
<ellipse cx="221.9" cy="384.8" rx="4.5" ry="3.25" fill="none" stroke="#cd474d" stroke-width="0.6" opacity="0.85"/>
<ellipse cx="221.9" cy="384.8" rx="3.69" ry="2.67" fill="none" stroke="#cd474d" stroke-width="0.6" opacity="0.85"/>
<ellipse cx="221.9" cy="384.8" rx="2.88" ry="2.08" fill="none" stroke="#cd474d" stroke-width="0.6" opacity="0.85"/>
<ellipse cx="221.9" cy="384.8" rx="2.07" ry="1.49" fill="none" stroke="#cd474d" stroke-width="0.6" opacity="0.85"/>
<ellipse cx="221.9" cy="384.8" rx="1.26" ry="0.91" fill="none" stroke="#cd474d" stroke-width="0.6" opacity="0.85"/>
<ellipse cx="238" cy="385.4" rx="4.5" ry="3.5" fill="none" stroke="#cd474d" stroke-width="0.6" opacity="0.85"/>
<ellipse cx="238" cy="385.4" rx="3.69" ry="2.87" fill="none" stroke="#cd474d" stroke-width="0.6" opacity="0.85"/>
<ellipse cx="238" cy="385.4" rx="2.88" ry="2.24" fill="none" stroke="#cd474d" stroke-width="0.6" opacity="0.85"/>
<ellipse cx="238" cy="385.4" rx="2.07" ry="1.61" fill="none" stroke="#cd474d" stroke-width="0.6" opacity="0.85"/>
<ellipse cx="238" cy="385.4" rx="1.26" ry="0.98" fill="none" stroke="#cd474d" stroke-width="0.6" opacity="0.85"/>
<ellipse cx="235.6" cy="384.1" rx="4.05" ry="3.15" fill="none" stroke="#5057b8" stroke-width="0.55" opacity="0.85"/>
<ellipse cx="235.6" cy="384.1" rx="3.15" ry="2.45" fill="none" stroke="#5057b8" stroke-width="0.55" opacity="0.85"/>
<ellipse cx="235.6" cy="384.1" rx="2.25" ry="1.75" fill="none" stroke="#5057b8" stroke-width="0.55" opacity="0.85"/>
<ellipse cx="235.6" cy="384.1" rx="1.35" ry="1.05" fill="none" stroke="#5057b8" stroke-width="0.55" opacity="0.85"/>
<ellipse cx="245" cy="387.1" rx="4.5" ry="3.5" fill="none" stroke="#cd474d" stroke-width="0.6" opacity="0.85"/>
<ellipse cx="245" cy="387.1" rx="3.69" ry="2.87" fill="none" stroke="#cd474d" stroke-width="0.6" opacity="0.85"/>
<ellipse cx="245" cy="387.1" rx="2.88" ry="2.24" fill="none" stroke="#cd474d" stroke-width="0.6" opacity="0.85"/>
<ellipse cx="245" cy="387.1" rx="2.07" ry="1.61" fill="none" stroke="#cd474d" stroke-width="0.6" opacity="0.85"/>
<ellipse cx="245" cy="387.1" rx="1.26" ry="0.98" fill="none" stroke="#cd474d" stroke-width="0.6" opacity="0.85"/>
<ellipse cx="240.4" cy="379" rx="4.5" ry="3" fill="none" stroke="#cd474d" stroke-width="0.6" opacity="0.85"/>
<ellipse cx="240.4" cy="379" rx="3.69" ry="2.46" fill="none" stroke="#cd474d" stroke-width="0.6" opacity="0.85"/>
<ellipse cx="240.4" cy="379" rx="2.88" ry="1.92" fill="none" stroke="#cd474d" stroke-width="0.6" opacity="0.85"/>
<ellipse cx="240.4" cy="379" rx="2.07" ry="1.38" fill="none" stroke="#cd474d" stroke-width="0.6" opacity="0.85"/>
<ellipse cx="240.4" cy="379" rx="1.26" ry="0.84" fill="none" stroke="#cd474d" stroke-width="0.6" opacity="0.85"/>
<ellipse cx="278.5" cy="387.7" rx="4.5" ry="4" fill="none" stroke="#cd474d" stroke-width="0.6" opacity="0.85"/>
<ellipse cx="278.5" cy="387.7" rx="3.69" ry="3.28" fill="none" stroke="#cd474d" stroke-width="0.6" opacity="0.85"/>
<ellipse cx="278.5" cy="387.7" rx="2.88" ry="2.56" fill="none" stroke="#cd474d" stroke-width="0.6" opacity="0.85"/>
<ellipse cx="278.5" cy="387.7" rx="2.07" ry="1.84" fill="none" stroke="#cd474d" stroke-width="0.6" opacity="0.85"/>
<ellipse cx="278.5" cy="387.7" rx="1.26" ry="1.12" fill="none" stroke="#cd474d" stroke-width="0.6" opacity="0.85"/>
<ellipse cx="276.1" cy="386.4" rx="4.05" ry="3.6" fill="none" stroke="#5057b8" stroke-width="0.55" opacity="0.85"/>
<ellipse cx="276.1" cy="386.4" rx="3.15" ry="2.8" fill="none" stroke="#5057b8" stroke-width="0.55" opacity="0.85"/>
<ellipse cx="276.1" cy="386.4" rx="2.25" ry="2" fill="none" stroke="#5057b8" stroke-width="0.55" opacity="0.85"/>
<ellipse cx="276.1" cy="386.4" rx="1.35" ry="1.2" fill="none" stroke="#5057b8" stroke-width="0.55" opacity="0.85"/>
<ellipse cx="257.7" cy="398.2" rx="4.5" ry="3.5" fill="none" stroke="#cd474d" stroke-width="0.6" opacity="0.85"/>
<ellipse cx="257.7" cy="398.2" rx="3.69" ry="2.87" fill="none" stroke="#cd474d" stroke-width="0.6" opacity="0.85"/>
<ellipse cx="257.7" cy="398.2" rx="2.88" ry="2.24" fill="none" stroke="#cd474d" stroke-width="0.6" opacity="0.85"/>
<ellipse cx="257.7" cy="398.2" rx="2.07" ry="1.61" fill="none" stroke="#cd474d" stroke-width="0.6" opacity="0.85"/>
<ellipse cx="257.7" cy="398.2" rx="1.26" ry="0.98" fill="none" stroke="#cd474d" stroke-width="0.6" opacity="0.85"/>
<ellipse cx="255.3" cy="396.9" rx="4.05" ry="3.15" fill="none" stroke="#33399a" stroke-width="0.55" opacity="0.85"/>
<ellipse cx="255.3" cy="396.9" rx="3.15" ry="2.45" fill="none" stroke="#33399a" stroke-width="0.55" opacity="0.85"/>
<ellipse cx="255.3" cy="396.9" rx="2.25" ry="1.75" fill="none" stroke="#33399a" stroke-width="0.55" opacity="0.85"/>
<ellipse cx="255.3" cy="396.9" rx="1.35" ry="1.05" fill="none" stroke="#33399a" stroke-width="0.55" opacity="0.85"/>
<ellipse cx="254.2" cy="410.9" rx="5.25" ry="4" fill="none" stroke="#cd474d" stroke-width="0.6" opacity="0.85"/>
<ellipse cx="254.2" cy="410.9" rx="4.31" ry="3.28" fill="none" stroke="#cd474d" stroke-width="0.6" opacity="0.85"/>
<ellipse cx="254.2" cy="410.9" rx="3.36" ry="2.56" fill="none" stroke="#cd474d" stroke-width="0.6" opacity="0.85"/>
<ellipse cx="254.2" cy="410.9" rx="2.42" ry="1.84" fill="none" stroke="#cd474d" stroke-width="0.6" opacity="0.85"/>
<ellipse cx="254.2" cy="410.9" rx="1.47" ry="1.12" fill="none" stroke="#cd474d" stroke-width="0.6" opacity="0.85"/>
<ellipse cx="251.8" cy="409.6" rx="4.73" ry="3.6" fill="none" stroke="#33399a" stroke-width="0.55" opacity="0.85"/>
<ellipse cx="251.8" cy="409.6" rx="3.67" ry="2.8" fill="none" stroke="#33399a" stroke-width="0.55" opacity="0.85"/>
<ellipse cx="251.8" cy="409.6" rx="2.62" ry="2" fill="none" stroke="#33399a" stroke-width="0.55" opacity="0.85"/>
<ellipse cx="251.8" cy="409.6" rx="1.57" ry="1.2" fill="none" stroke="#33399a" stroke-width="0.55" opacity="0.85"/>
<ellipse cx="271.6" cy="414.4" rx="5.75" ry="4.5" fill="none" stroke="#cd474d" stroke-width="0.6" opacity="0.85"/>
<ellipse cx="271.6" cy="414.4" rx="4.72" ry="3.69" fill="none" stroke="#cd474d" stroke-width="0.6" opacity="0.85"/>
<ellipse cx="271.6" cy="414.4" rx="3.68" ry="2.88" fill="none" stroke="#cd474d" stroke-width="0.6" opacity="0.85"/>
<ellipse cx="271.6" cy="414.4" rx="2.64" ry="2.07" fill="none" stroke="#cd474d" stroke-width="0.6" opacity="0.85"/>
<ellipse cx="271.6" cy="414.4" rx="1.61" ry="1.26" fill="none" stroke="#cd474d" stroke-width="0.6" opacity="0.85"/>
<ellipse cx="269.2" cy="413.1" rx="5.17" ry="4.05" fill="none" stroke="#5057b8" stroke-width="0.55" opacity="0.85"/>
<ellipse cx="269.2" cy="413.1" rx="4.02" ry="3.15" fill="none" stroke="#5057b8" stroke-width="0.55" opacity="0.85"/>
<ellipse cx="269.2" cy="413.1" rx="2.88" ry="2.25" fill="none" stroke="#5057b8" stroke-width="0.55" opacity="0.85"/>
<ellipse cx="269.2" cy="413.1" rx="1.72" ry="1.35" fill="none" stroke="#5057b8" stroke-width="0.55" opacity="0.85"/>
<ellipse cx="255.4" cy="435.2" rx="4" ry="3" fill="none" stroke="#cd474d" stroke-width="0.6" opacity="0.85"/>
<ellipse cx="255.4" cy="435.2" rx="3.28" ry="2.46" fill="none" stroke="#cd474d" stroke-width="0.6" opacity="0.85"/>
<ellipse cx="255.4" cy="435.2" rx="2.56" ry="1.92" fill="none" stroke="#cd474d" stroke-width="0.6" opacity="0.85"/>
<ellipse cx="255.4" cy="435.2" rx="1.84" ry="1.38" fill="none" stroke="#cd474d" stroke-width="0.6" opacity="0.85"/>
<ellipse cx="255.4" cy="435.2" rx="1.12" ry="0.84" fill="none" stroke="#cd474d" stroke-width="0.6" opacity="0.85"/>
<ellipse cx="253" cy="433.9" rx="3.6" ry="2.7" fill="none" stroke="#5057b8" stroke-width="0.55" opacity="0.85"/>
<ellipse cx="253" cy="433.9" rx="2.8" ry="2.1" fill="none" stroke="#5057b8" stroke-width="0.55" opacity="0.85"/>
<ellipse cx="253" cy="433.9" rx="2" ry="1.5" fill="none" stroke="#5057b8" stroke-width="0.55" opacity="0.85"/>
<ellipse cx="253" cy="433.9" rx="1.2" ry="0.9" fill="none" stroke="#5057b8" stroke-width="0.55" opacity="0.85"/>
<ellipse cx="185.9" cy="435.2" rx="4" ry="3" fill="none" stroke="#cd474d" stroke-width="0.6" opacity="0.85"/>
<ellipse cx="185.9" cy="435.2" rx="3.28" ry="2.46" fill="none" stroke="#cd474d" stroke-width="0.6" opacity="0.85"/>
<ellipse cx="185.9" cy="435.2" rx="2.56" ry="1.92" fill="none" stroke="#cd474d" stroke-width="0.6" opacity="0.85"/>
<ellipse cx="185.9" cy="435.2" rx="1.84" ry="1.38" fill="none" stroke="#cd474d" stroke-width="0.6" opacity="0.85"/>
<ellipse cx="185.9" cy="435.2" rx="1.12" ry="0.84" fill="none" stroke="#cd474d" stroke-width="0.6" opacity="0.85"/>
<ellipse cx="183.5" cy="433.9" rx="3.6" ry="2.7" fill="none" stroke="#5057b8" stroke-width="0.55" opacity="0.85"/>
<ellipse cx="183.5" cy="433.9" rx="2.8" ry="2.1" fill="none" stroke="#5057b8" stroke-width="0.55" opacity="0.85"/>
<ellipse cx="183.5" cy="433.9" rx="2" ry="1.5" fill="none" stroke="#5057b8" stroke-width="0.55" opacity="0.85"/>
<ellipse cx="183.5" cy="433.9" rx="1.2" ry="0.9" fill="none" stroke="#5057b8" stroke-width="0.55" opacity="0.85"/>
</g>
<rect x="123.0" y="300.4" width="160.0" height="134.2" fill="none" stroke="#2a2a2a" stroke-width="1"/>
<line x1="123" y1="300.4" x2="123" y2="434.6" stroke="#555" stroke-width="1.4"/>
<line x1="129.5" y1="298.2" x2="129.5" y2="300.4" stroke="#333" stroke-width="0.8"/>
<line x1="129.5" y1="434.6" x2="129.5" y2="436.8" stroke="#333" stroke-width="0.8"/>
<text x="129.5" y="297.7" font-size="12" text-anchor="middle" fill="#000" font-weight="normal" >8.6</text>
<text x="129.5" y="446.6" font-size="12" text-anchor="middle" fill="#000" font-weight="normal" >8.6</text>
<line x1="145.76" y1="299.2" x2="145.76" y2="300.4" stroke="#333" stroke-width="0.8"/>
<line x1="145.76" y1="434.6" x2="145.76" y2="435.8" stroke="#333" stroke-width="0.8"/>
<line x1="162.02" y1="298.2" x2="162.02" y2="300.4" stroke="#333" stroke-width="0.8"/>
<line x1="162.02" y1="434.6" x2="162.02" y2="436.8" stroke="#333" stroke-width="0.8"/>
<text x="162.02" y="297.7" font-size="12" text-anchor="middle" fill="#000" font-weight="normal" >8.4</text>
<text x="162.02" y="446.6" font-size="12" text-anchor="middle" fill="#000" font-weight="normal" >8.4</text>
<line x1="178.28" y1="299.2" x2="178.28" y2="300.4" stroke="#333" stroke-width="0.8"/>
<line x1="178.28" y1="434.6" x2="178.28" y2="435.8" stroke="#333" stroke-width="0.8"/>
<line x1="194.54" y1="298.2" x2="194.54" y2="300.4" stroke="#333" stroke-width="0.8"/>
<line x1="194.54" y1="434.6" x2="194.54" y2="436.8" stroke="#333" stroke-width="0.8"/>
<text x="194.54" y="297.7" font-size="12" text-anchor="middle" fill="#000" font-weight="normal" >8.2</text>
<text x="194.54" y="446.6" font-size="12" text-anchor="middle" fill="#000" font-weight="normal" >8.2</text>
<line x1="210.8" y1="299.2" x2="210.8" y2="300.4" stroke="#333" stroke-width="0.8"/>
<line x1="210.8" y1="434.6" x2="210.8" y2="435.8" stroke="#333" stroke-width="0.8"/>
<line x1="227.06" y1="298.2" x2="227.06" y2="300.4" stroke="#333" stroke-width="0.8"/>
<line x1="227.06" y1="434.6" x2="227.06" y2="436.8" stroke="#333" stroke-width="0.8"/>
<text x="227.06" y="297.7" font-size="12" text-anchor="middle" fill="#000" font-weight="normal" >8.0</text>
<text x="227.06" y="446.6" font-size="12" text-anchor="middle" fill="#000" font-weight="normal" >8.0</text>
<line x1="243.32" y1="299.2" x2="243.32" y2="300.4" stroke="#333" stroke-width="0.8"/>
<line x1="243.32" y1="434.6" x2="243.32" y2="435.8" stroke="#333" stroke-width="0.8"/>
<line x1="259.58" y1="298.2" x2="259.58" y2="300.4" stroke="#333" stroke-width="0.8"/>
<line x1="259.58" y1="434.6" x2="259.58" y2="436.8" stroke="#333" stroke-width="0.8"/>
<text x="259.58" y="297.7" font-size="12" text-anchor="middle" fill="#000" font-weight="normal" >7.8</text>
<text x="259.58" y="446.6" font-size="12" text-anchor="middle" fill="#000" font-weight="normal" >7.8</text>
<line x1="275.84" y1="299.2" x2="275.84" y2="300.4" stroke="#333" stroke-width="0.8"/>
<line x1="275.84" y1="434.6" x2="275.84" y2="435.8" stroke="#333" stroke-width="0.8"/>
<line x1="121.8" y1="304.21" x2="123" y2="304.21" stroke="#333" stroke-width="0.8"/>
<line x1="283" y1="304.21" x2="284.2" y2="304.21" stroke="#333" stroke-width="0.8"/>
<line x1="120.8" y1="312.2" x2="123" y2="312.2" stroke="#333" stroke-width="0.8"/>
<line x1="283" y1="312.2" x2="285.2" y2="312.2" stroke="#333" stroke-width="0.8"/>
<text x="118.8" y="316.5" font-size="12" text-anchor="end" fill="#000" font-weight="normal" >116</text>
<text x="285.4" y="313.8" font-size="12" text-anchor="start" fill="#000" font-weight="normal" >116</text>
<line x1="121.8" y1="320.19" x2="123" y2="320.19" stroke="#333" stroke-width="0.8"/>
<line x1="283" y1="320.19" x2="284.2" y2="320.19" stroke="#333" stroke-width="0.8"/>
<line x1="121.8" y1="328.18" x2="123" y2="328.18" stroke="#333" stroke-width="0.8"/>
<line x1="283" y1="328.18" x2="284.2" y2="328.18" stroke="#333" stroke-width="0.8"/>
<line x1="121.8" y1="336.17" x2="123" y2="336.17" stroke="#333" stroke-width="0.8"/>
<line x1="283" y1="336.17" x2="284.2" y2="336.17" stroke="#333" stroke-width="0.8"/>
<line x1="120.8" y1="344.16" x2="123" y2="344.16" stroke="#333" stroke-width="0.8"/>
<line x1="283" y1="344.16" x2="285.2" y2="344.16" stroke="#333" stroke-width="0.8"/>
<text x="118.8" y="348.46" font-size="12" text-anchor="end" fill="#000" font-weight="normal" >118</text>
<text x="285.4" y="346" font-size="12" text-anchor="start" fill="#000" font-weight="normal" >118</text>
<line x1="121.8" y1="352.15" x2="123" y2="352.15" stroke="#333" stroke-width="0.8"/>
<line x1="283" y1="352.15" x2="284.2" y2="352.15" stroke="#333" stroke-width="0.8"/>
<line x1="121.8" y1="360.14" x2="123" y2="360.14" stroke="#333" stroke-width="0.8"/>
<line x1="283" y1="360.14" x2="284.2" y2="360.14" stroke="#333" stroke-width="0.8"/>
<line x1="121.8" y1="368.13" x2="123" y2="368.13" stroke="#333" stroke-width="0.8"/>
<line x1="283" y1="368.13" x2="284.2" y2="368.13" stroke="#333" stroke-width="0.8"/>
<line x1="120.8" y1="376.12" x2="123" y2="376.12" stroke="#333" stroke-width="0.8"/>
<line x1="283" y1="376.12" x2="285.2" y2="376.12" stroke="#333" stroke-width="0.8"/>
<text x="118.8" y="380.42" font-size="12" text-anchor="end" fill="#000" font-weight="normal" >120</text>
<text x="285.4" y="378.2" font-size="12" text-anchor="start" fill="#000" font-weight="normal" >120</text>
<line x1="121.8" y1="384.11" x2="123" y2="384.11" stroke="#333" stroke-width="0.8"/>
<line x1="283" y1="384.11" x2="284.2" y2="384.11" stroke="#333" stroke-width="0.8"/>
<line x1="121.8" y1="392.1" x2="123" y2="392.1" stroke="#333" stroke-width="0.8"/>
<line x1="283" y1="392.1" x2="284.2" y2="392.1" stroke="#333" stroke-width="0.8"/>
<line x1="121.8" y1="400.09" x2="123" y2="400.09" stroke="#333" stroke-width="0.8"/>
<line x1="283" y1="400.09" x2="284.2" y2="400.09" stroke="#333" stroke-width="0.8"/>
<line x1="120.8" y1="408.08" x2="123" y2="408.08" stroke="#333" stroke-width="0.8"/>
<line x1="283" y1="408.08" x2="285.2" y2="408.08" stroke="#333" stroke-width="0.8"/>
<text x="118.8" y="412.38" font-size="12" text-anchor="end" fill="#000" font-weight="normal" >122</text>
<text x="285.4" y="410.4" font-size="12" text-anchor="start" fill="#000" font-weight="normal" >122</text>
<line x1="121.8" y1="416.07" x2="123" y2="416.07" stroke="#333" stroke-width="0.8"/>
<line x1="283" y1="416.07" x2="284.2" y2="416.07" stroke="#333" stroke-width="0.8"/>
<line x1="121.8" y1="424.06" x2="123" y2="424.06" stroke="#333" stroke-width="0.8"/>
<line x1="283" y1="424.06" x2="284.2" y2="424.06" stroke="#333" stroke-width="0.8"/>
<line x1="121.8" y1="432.05" x2="123" y2="432.05" stroke="#333" stroke-width="0.8"/>
<line x1="283" y1="432.05" x2="284.2" y2="432.05" stroke="#333" stroke-width="0.8"/>
<text x="171.8" y="465.7" font-size="10.5" text-anchor="start" fill="#000" font-weight="normal" >1</text>
<text x="178" y="471.3" font-size="12.3" text-anchor="start" fill="#000" font-weight="normal" textLength="45.2" lengthAdjust="spacingAndGlyphs">H (ppm)</text>
<text transform="translate(86.7,392.4) rotate(-90)" font-size="11" fill="#000" >15</text>
<text transform="translate(90.1,379.2) rotate(-90)" font-size="12" fill="#000" >N</text>
<text transform="translate(89.2,364.4) rotate(-90)" font-size="11" fill="#000" textLength="32.8" lengthAdjust="spacingAndGlyphs">(ppm)</text>
<text x="150.3" y="318.4" font-size="12" text-anchor="start" fill="#000" font-weight="normal" >D92</text>
<text x="232.7" y="314.7" font-size="12" text-anchor="start" fill="#000" font-weight="normal" >R73</text>
<text x="230.3" y="354" font-size="12" text-anchor="start" fill="#000" font-weight="normal" >Q70</text>
<text x="189.2" y="385.3" font-size="12" text-anchor="start" fill="#000" font-weight="normal" >Y64</text>
<text x="211.5" y="379.4" font-size="12" text-anchor="start" fill="#000" font-weight="normal" >D105</text>
<text x="196" y="399.8" font-size="12" text-anchor="start" fill="#000" font-weight="normal" >F78</text>
<text x="229.6" y="405.1" font-size="12" text-anchor="start" fill="#000" font-weight="normal" >R68</text>
<text x="150.9" y="419.2" font-size="12" text-anchor="start" fill="#000" font-weight="normal" >I163</text>
<text x="197.4" y="424.6" font-size="12" text-anchor="start" fill="#000" font-weight="normal" >M111</text>
<line x1="213.5" y1="352.6" x2="244.5" y2="339" stroke="#333" stroke-width="0.6"/>
<line x1="196" y1="382" x2="186" y2="389" stroke="#333" stroke-width="0.5"/>
<line x1="200" y1="411" x2="195" y2="416" stroke="#333" stroke-width="0.5"/>
</svg>
</body></html>
